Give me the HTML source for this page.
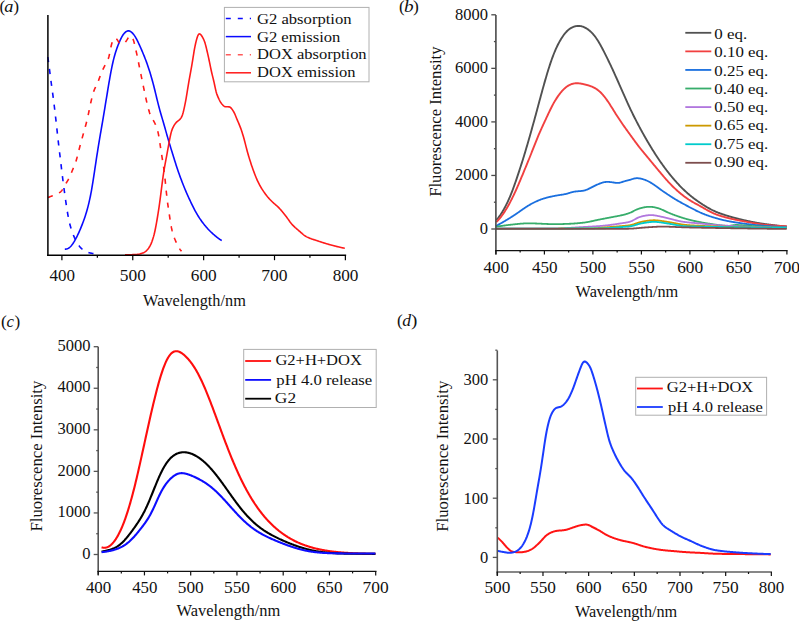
<!DOCTYPE html>
<html><head><meta charset="utf-8"><style>
html,body{margin:0;padding:0;background:#fff;width:799px;height:621px;overflow:hidden}
svg{display:block}
text{font-family:"Liberation Serif", serif}
</style></head><body>
<svg width="799" height="621" viewBox="0 0 799 621">
<rect width="799" height="621" fill="#fff"/>
<path d="M47.80 57.00 L48.30 60.63 L48.80 64.32 L49.30 68.09 L49.80 71.95 L50.31 75.85 L50.81 79.72 L51.31 83.50 L51.81 87.17 L52.31 90.79 L52.81 94.45 L53.31 98.23 L53.81 102.16 L54.31 106.25 L54.81 110.46 L55.32 114.78 L55.82 119.21 L56.32 123.73 L56.82 128.33 L57.32 132.95 L57.82 137.52 L58.32 141.96 L58.82 146.25 L59.32 150.40 L59.82 154.52 L60.33 158.67 L60.83 162.91 L61.33 167.17 L61.83 171.39 L62.33 175.50 L62.83 179.49 L63.33 183.40 L63.83 187.23 L64.33 191.00 L64.84 194.69 L65.34 198.28 L65.84 201.77 L66.34 205.15 L66.84 208.42 L67.34 211.56 L67.84 214.54 L68.34 217.31 L68.84 219.85 L69.34 222.14 L69.85 224.20 L70.35 226.07 L70.85 227.80 L71.35 229.40 L71.85 230.90 L72.35 232.32 L72.85 233.67 L73.35 234.95 L73.85 236.17 L74.35 237.31 L74.86 238.39 L75.36 239.42 L75.86 240.39 L76.36 241.32 L76.86 242.22 L77.36 243.08 L77.86 243.91 L78.36 244.70 L78.86 245.44 L79.36 246.14 L79.87 246.78 L80.37 247.36 L80.87 247.89 L81.37 248.37 L81.87 248.82 L82.37 249.23 L82.87 249.62 L83.37 249.99 L83.87 250.34 L84.38 250.67 L84.88 250.99 L85.38 251.28 L85.88 251.54 L86.38 251.79 L86.88 252.01 L87.38 252.21 L87.88 252.38 L88.38 252.54 L88.88 252.67 L89.39 252.80 L89.89 252.92 L90.39 253.03 L90.89 253.13 L91.39 253.23 L91.89 253.33 L92.39 253.42 L92.89 253.49 L93.39 253.57 L93.89 253.63 L94.40 253.68 L94.90 253.72 L95.40 253.75 L95.90 253.78 L96.40 253.80" fill="none" stroke="#0a0aff" stroke-width="1.6" stroke-linejoin="round" stroke-dasharray="5.2 6.8"/>
<path d="M64.80 249.20 L65.30 249.16 L65.80 249.10 L66.30 249.03 L66.81 248.93 L67.31 248.79 L67.81 248.60 L68.31 248.35 L68.81 248.04 L69.31 247.68 L69.81 247.25 L70.31 246.77 L70.82 246.25 L71.32 245.67 L71.82 245.06 L72.32 244.39 L72.82 243.69 L73.32 242.94 L73.82 242.16 L74.32 241.33 L74.83 240.48 L75.33 239.59 L75.83 238.68 L76.33 237.73 L76.83 236.76 L77.33 235.76 L77.83 234.72 L78.33 233.66 L78.84 232.56 L79.34 231.43 L79.84 230.28 L80.34 229.10 L80.84 227.89 L81.34 226.65 L81.84 225.40 L82.34 224.11 L82.85 222.80 L83.35 221.46 L83.85 220.08 L84.35 218.66 L84.85 217.19 L85.35 215.68 L85.85 214.10 L86.35 212.46 L86.86 210.75 L87.36 208.97 L87.86 207.10 L88.36 205.15 L88.86 203.09 L89.36 200.94 L89.86 198.66 L90.37 196.26 L90.87 193.72 L91.37 191.03 L91.87 188.19 L92.37 185.20 L92.87 182.09 L93.37 178.87 L93.87 175.59 L94.38 172.27 L94.88 168.93 L95.38 165.60 L95.88 162.28 L96.38 158.99 L96.88 155.73 L97.38 152.51 L97.88 149.32 L98.39 146.19 L98.89 143.11 L99.39 140.08 L99.89 137.10 L100.39 134.17 L100.89 131.27 L101.39 128.39 L101.89 125.50 L102.40 122.60 L102.90 119.67 L103.40 116.70 L103.90 113.68 L104.40 110.64 L104.90 107.56 L105.40 104.48 L105.90 101.41 L106.41 98.34 L106.91 95.29 L107.41 92.25 L107.91 89.22 L108.41 86.21 L108.91 83.23 L109.41 80.28 L109.92 77.41 L110.42 74.61 L110.92 71.92 L111.42 69.33 L111.92 66.86 L112.42 64.50 L112.92 62.26 L113.42 60.14 L113.93 58.14 L114.43 56.24 L114.93 54.46 L115.43 52.78 L115.93 51.19 L116.43 49.69 L116.93 48.25 L117.43 46.88 L117.94 45.57 L118.44 44.30 L118.94 43.08 L119.44 41.90 L119.94 40.76 L120.44 39.65 L120.94 38.60 L121.44 37.60 L121.95 36.66 L122.45 35.80 L122.95 35.01 L123.45 34.30 L123.95 33.66 L124.45 33.09 L124.95 32.58 L125.45 32.13 L125.96 31.74 L126.46 31.41 L126.96 31.15 L127.46 30.95 L127.96 30.84 L128.46 30.81 L128.96 30.86 L129.46 30.99 L129.97 31.19 L130.47 31.46 L130.97 31.80 L131.47 32.19 L131.97 32.63 L132.47 33.11 L132.97 33.65 L133.48 34.24 L133.98 34.88 L134.48 35.59 L134.98 36.35 L135.48 37.18 L135.98 38.06 L136.48 38.98 L136.98 39.94 L137.49 40.93 L137.99 41.95 L138.49 42.99 L138.99 44.05 L139.49 45.14 L139.99 46.24 L140.49 47.37 L140.99 48.51 L141.50 49.67 L142.00 50.84 L142.50 52.03 L143.00 53.23 L143.50 54.44 L144.00 55.66 L144.50 56.90 L145.00 58.17 L145.51 59.46 L146.01 60.77 L146.51 62.12 L147.01 63.51 L147.51 64.93 L148.01 66.39 L148.51 67.89 L149.01 69.42 L149.52 71.00 L150.02 72.61 L150.52 74.25 L151.02 75.93 L151.52 77.66 L152.02 79.42 L152.52 81.23 L153.02 83.09 L153.53 85.00 L154.03 86.96 L154.53 88.97 L155.03 91.01 L155.53 93.07 L156.03 95.16 L156.53 97.24 L157.04 99.32 L157.54 101.37 L158.04 103.38 L158.54 105.34 L159.04 107.25 L159.54 109.12 L160.04 110.93 L160.54 112.71 L161.05 114.46 L161.55 116.18 L162.05 117.90 L162.55 119.62 L163.05 121.34 L163.55 123.07 L164.05 124.82 L164.55 126.57 L165.06 128.34 L165.56 130.11 L166.06 131.88 L166.56 133.65 L167.06 135.41 L167.56 137.15 L168.06 138.88 L168.56 140.59 L169.07 142.28 L169.57 143.95 L170.07 145.60 L170.57 147.24 L171.07 148.87 L171.57 150.48 L172.07 152.09 L172.57 153.71 L173.08 155.32 L173.58 156.93 L174.08 158.55 L174.58 160.16 L175.08 161.77 L175.58 163.36 L176.08 164.94 L176.58 166.49 L177.09 168.01 L177.59 169.51 L178.09 170.98 L178.59 172.42 L179.09 173.84 L179.59 175.24 L180.09 176.62 L180.60 177.98 L181.10 179.33 L181.60 180.65 L182.10 181.96 L182.60 183.26 L183.10 184.53 L183.60 185.79 L184.10 187.04 L184.61 188.26 L185.11 189.47 L185.61 190.66 L186.11 191.84 L186.61 192.99 L187.11 194.13 L187.61 195.26 L188.11 196.37 L188.62 197.47 L189.12 198.56 L189.62 199.64 L190.12 200.71 L190.62 201.77 L191.12 202.83 L191.62 203.88 L192.12 204.91 L192.63 205.94 L193.13 206.95 L193.63 207.94 L194.13 208.91 L194.63 209.86 L195.13 210.79 L195.63 211.70 L196.13 212.59 L196.64 213.46 L197.14 214.32 L197.64 215.15 L198.14 215.97 L198.64 216.77 L199.14 217.56 L199.64 218.33 L200.15 219.08 L200.65 219.81 L201.15 220.52 L201.65 221.22 L202.15 221.91 L202.65 222.58 L203.15 223.24 L203.65 223.88 L204.16 224.51 L204.66 225.14 L205.16 225.75 L205.66 226.35 L206.16 226.94 L206.66 227.51 L207.16 228.08 L207.66 228.64 L208.17 229.18 L208.67 229.71 L209.17 230.23 L209.67 230.75 L210.17 231.25 L210.67 231.74 L211.17 232.22 L211.67 232.69 L212.18 233.16 L212.68 233.62 L213.18 234.07 L213.68 234.51 L214.18 234.95 L214.68 235.38 L215.18 235.81 L215.68 236.23 L216.19 236.64 L216.69 237.04 L217.19 237.43 L217.69 237.81 L218.19 238.19 L218.69 238.56 L219.19 238.92 L219.69 239.27 L220.20 239.61 L220.70 239.94 L221.20 240.27 L221.70 240.60" fill="none" stroke="#0a0aff" stroke-width="1.6" stroke-linejoin="round"/>
<path d="M47.90 197.50 L48.40 197.32 L48.90 197.14 L49.40 196.95 L49.90 196.76 L50.40 196.57 L50.90 196.37 L51.40 196.17 L51.90 195.97 L52.40 195.76 L52.90 195.55 L53.40 195.34 L53.90 195.12 L54.40 194.91 L54.91 194.69 L55.41 194.47 L55.91 194.26 L56.41 194.05 L56.91 193.85 L57.41 193.64 L57.91 193.42 L58.41 193.18 L58.91 192.93 L59.41 192.66 L59.91 192.35 L60.41 191.99 L60.91 191.56 L61.41 191.04 L61.91 190.41 L62.41 189.67 L62.91 188.85 L63.41 187.96 L63.91 187.05 L64.41 186.13 L64.91 185.23 L65.41 184.36 L65.91 183.52 L66.41 182.71 L66.91 181.90 L67.41 181.08 L67.91 180.24 L68.42 179.37 L68.92 178.45 L69.42 177.46 L69.92 176.39 L70.42 175.24 L70.92 174.02 L71.42 172.77 L71.92 171.51 L72.42 170.28 L72.92 169.10 L73.42 167.95 L73.92 166.80 L74.42 165.61 L74.92 164.34 L75.42 162.94 L75.92 161.40 L76.42 159.72 L76.92 157.92 L77.42 156.02 L77.92 154.07 L78.42 152.10 L78.92 150.13 L79.42 148.19 L79.92 146.30 L80.42 144.44 L80.92 142.60 L81.43 140.78 L81.93 138.96 L82.43 137.14 L82.93 135.32 L83.43 133.51 L83.93 131.70 L84.43 129.89 L84.93 128.09 L85.43 126.29 L85.93 124.45 L86.43 122.56 L86.93 120.59 L87.43 118.50 L87.93 116.28 L88.43 113.94 L88.93 111.50 L89.43 109.04 L89.93 106.61 L90.43 104.26 L90.93 102.00 L91.43 99.85 L91.93 97.78 L92.43 95.82 L92.93 94.00 L93.43 92.35 L93.93 90.86 L94.43 89.55 L94.94 88.36 L95.44 87.28 L95.94 86.26 L96.44 85.25 L96.94 84.22 L97.44 83.14 L97.94 81.98 L98.44 80.73 L98.94 79.40 L99.44 78.02 L99.94 76.62 L100.44 75.24 L100.94 73.91 L101.44 72.64 L101.94 71.46 L102.44 70.35 L102.94 69.30 L103.44 68.29 L103.94 67.31 L104.44 66.34 L104.94 65.39 L105.44 64.44 L105.94 63.51 L106.44 62.61 L106.94 61.69 L107.44 60.72 L107.94 59.59 L108.45 58.20 L108.95 56.46 L109.45 54.34 L109.95 51.94 L110.45 49.42 L110.95 46.98 L111.45 44.79 L111.95 42.97 L112.45 41.53 L112.95 40.40 L113.45 39.51 L113.95 38.81 L114.45 38.33 L114.95 38.09 L115.45 38.11 L115.95 38.36 L116.45 38.81 L116.95 39.40 L117.45 40.11 L117.95 40.90 L118.45 41.71 L118.95 42.44 L119.45 43.01 L119.95 43.41 L120.45 43.65 L120.95 43.80 L121.46 43.89 L121.96 43.91 L122.46 43.85 L122.96 43.72 L123.46 43.49 L123.96 43.19 L124.46 42.82 L124.96 42.40 L125.46 41.92 L125.96 41.35 L126.46 40.67 L126.96 39.89 L127.46 39.05 L127.96 38.21 L128.46 37.42 L128.96 36.76 L129.46 36.30 L129.96 36.05 L130.46 36.04 L130.96 36.24 L131.46 36.64 L131.96 37.21 L132.46 37.95 L132.96 38.92 L133.46 40.21 L133.96 41.89 L134.46 43.92 L134.97 46.14 L135.47 48.36 L135.97 50.51 L136.47 52.65 L136.97 54.86 L137.47 57.20 L137.97 59.67 L138.47 62.21 L138.97 64.76 L139.47 67.29 L139.97 69.78 L140.47 72.24 L140.97 74.69 L141.47 77.13 L141.97 79.57 L142.47 81.99 L142.97 84.41 L143.47 86.81 L143.97 89.22 L144.47 91.62 L144.97 94.01 L145.47 96.38 L145.97 98.70 L146.47 100.95 L146.97 103.11 L147.47 105.18 L147.97 107.18 L148.48 109.08 L148.98 110.86 L149.48 112.48 L149.98 113.93 L150.48 115.19 L150.98 116.31 L151.48 117.29 L151.98 118.19 L152.48 119.04 L152.98 119.86 L153.48 120.69 L153.98 121.56 L154.48 122.49 L154.98 123.52 L155.48 124.63 L155.98 125.84 L156.48 127.16 L156.98 128.61 L157.48 130.25 L157.98 132.16 L158.48 134.44 L158.98 137.17 L159.48 140.29 L159.98 143.65 L160.48 147.07 L160.98 150.43 L161.49 153.70 L161.99 156.88 L162.49 160.00 L162.99 163.12 L163.49 166.39 L163.99 169.99 L164.49 174.07 L164.99 178.63 L165.49 183.54 L165.99 188.57 L166.49 193.47 L166.99 198.01 L167.49 202.06 L167.99 205.68 L168.49 209.05 L168.99 212.34 L169.49 215.67 L169.99 219.02 L170.49 222.27 L170.99 225.26 L171.49 227.88 L171.99 230.15 L172.49 232.13 L172.99 233.88 L173.49 235.47 L173.99 236.92 L174.49 238.26 L175.00 239.52 L175.50 240.72 L176.00 241.87 L176.50 242.98 L177.00 244.06 L177.50 245.09 L178.00 246.07 L178.50 247.00 L179.00 247.87 L179.50 248.67 L180.00 249.40 L180.50 250.05 L181.00 250.65 L181.50 251.20" fill="none" stroke="#ff1a1a" stroke-width="1.6" stroke-linejoin="round" stroke-dasharray="5.2 6.8"/>
<path d="M125.00 254.80 L125.50 254.80 L126.00 254.80 L126.50 254.79 L127.00 254.79 L127.50 254.78 L128.00 254.78 L128.50 254.77 L129.01 254.76 L129.51 254.75 L130.01 254.74 L130.51 254.73 L131.01 254.72 L131.51 254.70 L132.01 254.69 L132.51 254.67 L133.01 254.65 L133.51 254.63 L134.01 254.62 L134.51 254.59 L135.01 254.57 L135.51 254.55 L136.02 254.52 L136.52 254.49 L137.02 254.45 L137.52 254.40 L138.02 254.34 L138.52 254.26 L139.02 254.16 L139.52 254.05 L140.02 253.92 L140.52 253.78 L141.02 253.63 L141.52 253.47 L142.02 253.29 L142.52 253.10 L143.02 252.90 L143.53 252.69 L144.03 252.45 L144.53 252.17 L145.03 251.84 L145.53 251.47 L146.03 251.05 L146.53 250.58 L147.03 250.06 L147.53 249.50 L148.03 248.89 L148.53 248.25 L149.03 247.55 L149.53 246.79 L150.03 245.93 L150.53 244.97 L151.04 243.88 L151.54 242.67 L152.04 241.33 L152.54 239.88 L153.04 238.31 L153.54 236.63 L154.04 234.78 L154.54 232.74 L155.04 230.49 L155.54 228.02 L156.04 225.38 L156.54 222.62 L157.04 219.74 L157.54 216.75 L158.05 213.64 L158.55 210.40 L159.05 207.02 L159.55 203.50 L160.05 199.82 L160.55 196.00 L161.05 192.08 L161.55 188.13 L162.05 184.23 L162.55 180.43 L163.05 176.76 L163.55 173.29 L164.05 170.07 L164.55 167.09 L165.05 164.30 L165.56 161.63 L166.06 158.97 L166.56 156.29 L167.06 153.57 L167.56 150.84 L168.06 148.10 L168.56 145.38 L169.06 142.66 L169.56 139.97 L170.06 137.38 L170.56 134.98 L171.06 132.89 L171.56 131.12 L172.06 129.65 L172.56 128.39 L173.07 127.29 L173.57 126.32 L174.07 125.43 L174.57 124.63 L175.07 123.90 L175.57 123.25 L176.07 122.67 L176.57 122.15 L177.07 121.69 L177.57 121.27 L178.07 120.88 L178.57 120.48 L179.07 120.08 L179.57 119.64 L180.08 119.14 L180.58 118.56 L181.08 117.86 L181.58 116.99 L182.08 115.88 L182.58 114.48 L183.08 112.79 L183.58 110.83 L184.08 108.66 L184.58 106.35 L185.08 103.90 L185.58 101.32 L186.08 98.56 L186.58 95.64 L187.08 92.58 L187.59 89.46 L188.09 86.36 L188.59 83.33 L189.09 80.41 L189.59 77.58 L190.09 74.82 L190.59 72.09 L191.09 69.34 L191.59 66.54 L192.09 63.62 L192.59 60.58 L193.09 57.44 L193.59 54.27 L194.09 51.21 L194.59 48.37 L195.10 45.80 L195.60 43.51 L196.10 41.42 L196.60 39.51 L197.10 37.78 L197.60 36.30 L198.10 35.15 L198.60 34.37 L199.10 33.97 L199.60 33.91 L200.10 34.11 L200.60 34.51 L201.10 35.07 L201.60 35.74 L202.11 36.51 L202.61 37.35 L203.11 38.27 L203.61 39.29 L204.11 40.46 L204.61 41.80 L205.11 43.35 L205.61 45.10 L206.11 47.02 L206.61 49.07 L207.11 51.21 L207.61 53.42 L208.11 55.66 L208.61 57.95 L209.11 60.29 L209.62 62.70 L210.12 65.16 L210.62 67.61 L211.12 69.99 L211.62 72.24 L212.12 74.36 L212.62 76.40 L213.12 78.42 L213.62 80.50 L214.12 82.69 L214.62 84.99 L215.12 87.34 L215.62 89.61 L216.12 91.66 L216.63 93.42 L217.13 94.89 L217.63 96.17 L218.13 97.33 L218.63 98.44 L219.13 99.51 L219.63 100.51 L220.13 101.43 L220.63 102.25 L221.13 102.98 L221.63 103.64 L222.13 104.25 L222.63 104.82 L223.13 105.34 L223.63 105.80 L224.14 106.17 L224.64 106.45 L225.14 106.63 L225.64 106.73 L226.14 106.78 L226.64 106.79 L227.14 106.80 L227.64 106.80 L228.14 106.81 L228.64 106.83 L229.14 106.89 L229.64 107.02 L230.14 107.26 L230.64 107.62 L231.14 108.11 L231.65 108.71 L232.15 109.38 L232.65 110.12 L233.15 110.91 L233.65 111.75 L234.15 112.66 L234.65 113.67 L235.15 114.79 L235.65 115.98 L236.15 117.21 L236.65 118.45 L237.15 119.67 L237.65 120.86 L238.15 122.03 L238.66 123.19 L239.16 124.36 L239.66 125.57 L240.16 126.83 L240.66 128.14 L241.16 129.53 L241.66 131.00 L242.16 132.54 L242.66 134.14 L243.16 135.81 L243.66 137.54 L244.16 139.33 L244.66 141.20 L245.16 143.14 L245.66 145.12 L246.17 147.10 L246.67 149.05 L247.17 150.94 L247.67 152.75 L248.17 154.50 L248.67 156.20 L249.17 157.86 L249.67 159.48 L250.17 161.07 L250.67 162.62 L251.17 164.14 L251.67 165.63 L252.17 167.08 L252.67 168.51 L253.17 169.90 L253.68 171.27 L254.18 172.61 L254.68 173.93 L255.18 175.23 L255.68 176.49 L256.18 177.72 L256.68 178.91 L257.18 180.06 L257.68 181.15 L258.18 182.20 L258.68 183.21 L259.18 184.17 L259.68 185.10 L260.18 186.00 L260.69 186.88 L261.19 187.73 L261.69 188.55 L262.19 189.36 L262.69 190.14 L263.19 190.90 L263.69 191.64 L264.19 192.37 L264.69 193.07 L265.19 193.76 L265.69 194.43 L266.19 195.09 L266.69 195.73 L267.19 196.34 L267.69 196.95 L268.20 197.53 L268.70 198.10 L269.20 198.66 L269.70 199.21 L270.20 199.74 L270.70 200.27 L271.20 200.78 L271.70 201.28 L272.20 201.77 L272.70 202.24 L273.20 202.70 L273.70 203.15 L274.20 203.58 L274.70 204.01 L275.21 204.44 L275.71 204.87 L276.21 205.30 L276.71 205.74 L277.21 206.19 L277.71 206.65 L278.21 207.13 L278.71 207.63 L279.21 208.15 L279.71 208.68 L280.21 209.23 L280.71 209.79 L281.21 210.37 L281.71 210.95 L282.21 211.55 L282.72 212.16 L283.22 212.77 L283.72 213.39 L284.22 214.02 L284.72 214.65 L285.22 215.28 L285.72 215.93 L286.22 216.58 L286.72 217.25 L287.22 217.93 L287.72 218.64 L288.22 219.35 L288.72 220.07 L289.22 220.78 L289.72 221.49 L290.23 222.17 L290.73 222.84 L291.23 223.46 L291.73 224.06 L292.23 224.62 L292.73 225.16 L293.23 225.68 L293.73 226.17 L294.23 226.65 L294.73 227.12 L295.23 227.58 L295.73 228.02 L296.23 228.46 L296.73 228.89 L297.24 229.32 L297.74 229.75 L298.24 230.17 L298.74 230.60 L299.24 231.03 L299.74 231.46 L300.24 231.90 L300.74 232.34 L301.24 232.78 L301.74 233.22 L302.24 233.66 L302.74 234.08 L303.24 234.50 L303.74 234.90 L304.24 235.28 L304.75 235.64 L305.25 235.98 L305.75 236.30 L306.25 236.59 L306.75 236.86 L307.25 237.11 L307.75 237.35 L308.25 237.58 L308.75 237.80 L309.25 238.01 L309.75 238.21 L310.25 238.40 L310.75 238.59 L311.25 238.78 L311.75 238.95 L312.26 239.13 L312.76 239.30 L313.26 239.46 L313.76 239.63 L314.26 239.79 L314.76 239.95 L315.26 240.11 L315.76 240.27 L316.26 240.43 L316.76 240.59 L317.26 240.76 L317.76 240.92 L318.26 241.09 L318.76 241.26 L319.27 241.42 L319.77 241.59 L320.27 241.76 L320.77 241.92 L321.27 242.08 L321.77 242.25 L322.27 242.41 L322.77 242.57 L323.27 242.72 L323.77 242.88 L324.27 243.04 L324.77 243.19 L325.27 243.34 L325.77 243.50 L326.27 243.65 L326.78 243.79 L327.28 243.94 L327.78 244.09 L328.28 244.23 L328.78 244.37 L329.28 244.51 L329.78 244.65 L330.28 244.78 L330.78 244.92 L331.28 245.06 L331.78 245.19 L332.28 245.32 L332.78 245.46 L333.28 245.59 L333.78 245.72 L334.29 245.85 L334.79 245.97 L335.29 246.10 L335.79 246.23 L336.29 246.35 L336.79 246.48 L337.29 246.60 L337.79 246.72 L338.29 246.84 L338.79 246.96 L339.29 247.08 L339.79 247.20 L340.29 247.32 L340.79 247.43 L341.30 247.54 L341.80 247.66 L342.30 247.77 L342.80 247.88 L343.30 247.98 L343.80 248.09 L344.30 248.20 L344.80 248.30" fill="none" stroke="#ff1a1a" stroke-width="1.6" stroke-linejoin="round"/>
<line x1="47.90" y1="14.90" x2="47.90" y2="255.95" stroke="#000" stroke-width="1.5" stroke-linecap="butt"/>
<line x1="47.15" y1="255.20" x2="346.15" y2="255.20" stroke="#000" stroke-width="1.5" stroke-linecap="butt"/>
<line x1="61.90" y1="255.20" x2="61.90" y2="260.20" stroke="#000" stroke-width="1.2" stroke-linecap="butt"/>
<line x1="97.34" y1="255.20" x2="97.34" y2="257.70" stroke="#000" stroke-width="1.2" stroke-linecap="butt"/>
<line x1="132.77" y1="255.20" x2="132.77" y2="260.20" stroke="#000" stroke-width="1.2" stroke-linecap="butt"/>
<line x1="168.20" y1="255.20" x2="168.20" y2="257.70" stroke="#000" stroke-width="1.2" stroke-linecap="butt"/>
<line x1="203.64" y1="255.20" x2="203.64" y2="260.20" stroke="#000" stroke-width="1.2" stroke-linecap="butt"/>
<line x1="239.08" y1="255.20" x2="239.08" y2="257.70" stroke="#000" stroke-width="1.2" stroke-linecap="butt"/>
<line x1="274.51" y1="255.20" x2="274.51" y2="260.20" stroke="#000" stroke-width="1.2" stroke-linecap="butt"/>
<line x1="309.94" y1="255.20" x2="309.94" y2="257.70" stroke="#000" stroke-width="1.2" stroke-linecap="butt"/>
<line x1="345.38" y1="255.20" x2="345.38" y2="260.20" stroke="#000" stroke-width="1.2" stroke-linecap="butt"/>
<text x="49.52" y="280.50" font-size="16.5" textLength="25.48" lengthAdjust="spacingAndGlyphs" fill="#111">400</text>
<text x="119.71" y="280.50" font-size="16.5" textLength="26.18" lengthAdjust="spacingAndGlyphs" fill="#111">500</text>
<text x="190.85" y="280.50" font-size="16.5" textLength="25.90" lengthAdjust="spacingAndGlyphs" fill="#111">600</text>
<text x="261.30" y="280.50" font-size="16.5" textLength="26.33" lengthAdjust="spacingAndGlyphs" fill="#111">700</text>
<text x="332.67" y="280.50" font-size="16.5" textLength="25.81" lengthAdjust="spacingAndGlyphs" fill="#111">800</text>
<text x="143.08" y="306.30" font-size="16.5" textLength="102.77" lengthAdjust="spacingAndGlyphs" fill="#111">Wavelength/nm</text>
<text x="-0.55" y="11.80" font-size="16" textLength="5.70" lengthAdjust="spacingAndGlyphs" fill="#111">(</text>
<text x="4.36" y="11.80" font-size="16" textLength="9.13" lengthAdjust="spacingAndGlyphs" font-style="italic" fill="#111">a</text>
<text x="13.34" y="11.80" font-size="16" textLength="5.83" lengthAdjust="spacingAndGlyphs" fill="#111">)</text>
<rect x="224.4" y="7.4" width="144.6" height="74.4" fill="#fff" stroke="#b0b0b0" stroke-width="1"/>
<line x1="225.8" y1="18.50" x2="251" y2="18.50" stroke="#0a0aff" stroke-width="1.5" stroke-dasharray="5 7"/>
<line x1="225.8" y1="36.60" x2="251" y2="36.60" stroke="#0a0aff" stroke-width="1.5"/>
<line x1="225.8" y1="54.70" x2="251" y2="54.70" stroke="#ff5a5a" stroke-width="1.5" stroke-dasharray="5 7"/>
<line x1="225.8" y1="72.80" x2="251" y2="72.80" stroke="#ff1a1a" stroke-width="1.5"/>
<text x="256.92" y="23.90" font-size="15.5" textLength="94.73" lengthAdjust="spacingAndGlyphs" fill="#111">G2 absorption</text>
<text x="256.92" y="41.60" font-size="15.5" textLength="83.53" lengthAdjust="spacingAndGlyphs" fill="#111">G2 emission</text>
<text x="257.12" y="59.30" font-size="15.5" textLength="109.53" lengthAdjust="spacingAndGlyphs" fill="#111">DOX absorption</text>
<text x="257.13" y="77.00" font-size="15.5" textLength="98.32" lengthAdjust="spacingAndGlyphs" fill="#111">DOX emission</text>
<path d="M496.30 219.98 L496.80 219.47 L497.30 218.92 L497.80 218.34 L498.30 217.74 L498.80 217.10 L499.30 216.44 L499.80 215.75 L500.31 215.04 L500.81 214.30 L501.31 213.54 L501.81 212.75 L502.31 211.94 L502.81 211.11 L503.31 210.26 L503.81 209.38 L504.31 208.48 L504.81 207.56 L505.31 206.62 L505.81 205.65 L506.31 204.66 L506.81 203.65 L507.32 202.61 L507.82 201.54 L508.32 200.45 L508.82 199.34 L509.32 198.20 L509.82 197.03 L510.32 195.83 L510.82 194.61 L511.32 193.36 L511.82 192.09 L512.32 190.79 L512.82 189.46 L513.32 188.12 L513.82 186.75 L514.32 185.36 L514.83 183.94 L515.33 182.52 L515.83 181.07 L516.33 179.61 L516.83 178.13 L517.33 176.65 L517.83 175.15 L518.33 173.64 L518.83 172.13 L519.33 170.60 L519.83 169.07 L520.33 167.52 L520.83 165.97 L521.33 164.41 L521.84 162.84 L522.34 161.25 L522.84 159.66 L523.34 158.05 L523.84 156.42 L524.34 154.78 L524.84 153.13 L525.34 151.46 L525.84 149.78 L526.34 148.08 L526.84 146.37 L527.34 144.65 L527.84 142.93 L528.34 141.19 L528.84 139.45 L529.35 137.70 L529.85 135.94 L530.35 134.18 L530.85 132.41 L531.35 130.64 L531.85 128.87 L532.35 127.08 L532.85 125.29 L533.35 123.50 L533.85 121.69 L534.35 119.88 L534.85 118.06 L535.35 116.22 L535.85 114.38 L536.36 112.54 L536.86 110.68 L537.36 108.83 L537.86 106.96 L538.36 105.10 L538.86 103.23 L539.36 101.37 L539.86 99.51 L540.36 97.65 L540.86 95.80 L541.36 93.96 L541.86 92.13 L542.36 90.30 L542.86 88.49 L543.36 86.69 L543.87 84.90 L544.37 83.13 L544.87 81.37 L545.37 79.63 L545.87 77.91 L546.37 76.20 L546.87 74.51 L547.37 72.85 L547.87 71.20 L548.37 69.58 L548.87 67.99 L549.37 66.42 L549.87 64.88 L550.37 63.37 L550.88 61.89 L551.38 60.44 L551.88 59.03 L552.38 57.65 L552.88 56.31 L553.38 55.00 L553.88 53.73 L554.38 52.49 L554.88 51.29 L555.38 50.12 L555.88 48.98 L556.38 47.88 L556.88 46.81 L557.38 45.78 L557.88 44.77 L558.39 43.79 L558.89 42.84 L559.39 41.92 L559.89 41.03 L560.39 40.16 L560.89 39.31 L561.39 38.49 L561.89 37.70 L562.39 36.94 L562.89 36.20 L563.39 35.48 L563.89 34.79 L564.39 34.13 L564.89 33.50 L565.40 32.90 L565.90 32.32 L566.40 31.77 L566.90 31.25 L567.40 30.76 L567.90 30.30 L568.40 29.86 L568.90 29.45 L569.40 29.07 L569.90 28.71 L570.40 28.38 L570.90 28.07 L571.40 27.79 L571.90 27.53 L572.40 27.29 L572.91 27.07 L573.41 26.87 L573.91 26.69 L574.41 26.53 L574.91 26.39 L575.41 26.27 L575.91 26.17 L576.41 26.09 L576.91 26.03 L577.41 25.98 L577.91 25.96 L578.41 25.95 L578.91 25.96 L579.41 25.99 L579.92 26.03 L580.42 26.10 L580.92 26.18 L581.42 26.29 L581.92 26.41 L582.42 26.55 L582.92 26.71 L583.42 26.89 L583.92 27.09 L584.42 27.31 L584.92 27.55 L585.42 27.81 L585.92 28.09 L586.42 28.38 L586.92 28.70 L587.43 29.03 L587.93 29.39 L588.43 29.76 L588.93 30.15 L589.43 30.56 L589.93 30.99 L590.43 31.43 L590.93 31.90 L591.43 32.38 L591.93 32.89 L592.43 33.42 L592.93 33.96 L593.43 34.53 L593.93 35.12 L594.44 35.74 L594.94 36.38 L595.44 37.04 L595.94 37.73 L596.44 38.45 L596.94 39.19 L597.44 39.95 L597.94 40.74 L598.44 41.55 L598.94 42.39 L599.44 43.24 L599.94 44.12 L600.44 45.01 L600.94 45.92 L601.44 46.85 L601.95 47.79 L602.45 48.74 L602.95 49.70 L603.45 50.67 L603.95 51.65 L604.45 52.64 L604.95 53.63 L605.45 54.63 L605.95 55.63 L606.45 56.64 L606.95 57.65 L607.45 58.67 L607.95 59.70 L608.45 60.73 L608.96 61.76 L609.46 62.80 L609.96 63.85 L610.46 64.90 L610.96 65.96 L611.46 67.03 L611.96 68.10 L612.46 69.18 L612.96 70.26 L613.46 71.36 L613.96 72.45 L614.46 73.56 L614.96 74.67 L615.46 75.78 L615.96 76.89 L616.47 78.01 L616.97 79.14 L617.47 80.26 L617.97 81.39 L618.47 82.51 L618.97 83.64 L619.47 84.77 L619.97 85.90 L620.47 87.03 L620.97 88.17 L621.47 89.30 L621.97 90.43 L622.47 91.57 L622.97 92.70 L623.48 93.84 L623.98 94.97 L624.48 96.10 L624.98 97.23 L625.48 98.36 L625.98 99.48 L626.48 100.60 L626.98 101.71 L627.48 102.82 L627.98 103.92 L628.48 105.01 L628.98 106.10 L629.48 107.17 L629.98 108.24 L630.48 109.30 L630.99 110.35 L631.49 111.39 L631.99 112.43 L632.49 113.45 L632.99 114.47 L633.49 115.48 L633.99 116.48 L634.49 117.47 L634.99 118.46 L635.49 119.44 L635.99 120.42 L636.49 121.39 L636.99 122.35 L637.49 123.31 L638.00 124.26 L638.50 125.21 L639.00 126.15 L639.50 127.08 L640.00 128.02 L640.50 128.94 L641.00 129.86 L641.50 130.78 L642.00 131.69 L642.50 132.60 L643.00 133.50 L643.50 134.40 L644.00 135.29 L644.50 136.18 L645.00 137.06 L645.51 137.94 L646.01 138.81 L646.51 139.68 L647.01 140.54 L647.51 141.40 L648.01 142.25 L648.51 143.10 L649.01 143.94 L649.51 144.78 L650.01 145.61 L650.51 146.44 L651.01 147.26 L651.51 148.08 L652.01 148.90 L652.52 149.70 L653.02 150.51 L653.52 151.30 L654.02 152.10 L654.52 152.88 L655.02 153.66 L655.52 154.44 L656.02 155.21 L656.52 155.98 L657.02 156.74 L657.52 157.49 L658.02 158.24 L658.52 158.99 L659.02 159.73 L659.52 160.46 L660.03 161.19 L660.53 161.92 L661.03 162.64 L661.53 163.35 L662.03 164.06 L662.53 164.76 L663.03 165.46 L663.53 166.15 L664.03 166.84 L664.53 167.52 L665.03 168.20 L665.53 168.87 L666.03 169.54 L666.53 170.20 L667.04 170.85 L667.54 171.50 L668.04 172.15 L668.54 172.79 L669.04 173.42 L669.54 174.05 L670.04 174.67 L670.54 175.29 L671.04 175.90 L671.54 176.51 L672.04 177.11 L672.54 177.71 L673.04 178.30 L673.54 178.89 L674.04 179.47 L674.55 180.05 L675.05 180.62 L675.55 181.18 L676.05 181.74 L676.55 182.30 L677.05 182.85 L677.55 183.40 L678.05 183.94 L678.55 184.47 L679.05 185.00 L679.55 185.53 L680.05 186.05 L680.55 186.56 L681.05 187.07 L681.56 187.58 L682.06 188.08 L682.56 188.57 L683.06 189.06 L683.56 189.54 L684.06 190.02 L684.56 190.50 L685.06 190.96 L685.56 191.43 L686.06 191.88 L686.56 192.34 L687.06 192.78 L687.56 193.23 L688.06 193.66 L688.56 194.09 L689.07 194.52 L689.57 194.94 L690.07 195.36 L690.57 195.77 L691.07 196.17 L691.57 196.58 L692.07 196.97 L692.57 197.37 L693.07 197.75 L693.57 198.14 L694.07 198.52 L694.57 198.89 L695.07 199.26 L695.57 199.63 L696.08 200.00 L696.58 200.36 L697.08 200.71 L697.58 201.07 L698.08 201.42 L698.58 201.76 L699.08 202.11 L699.58 202.45 L700.08 202.79 L700.58 203.12 L701.08 203.46 L701.58 203.79 L702.08 204.12 L702.58 204.44 L703.08 204.77 L703.59 205.09 L704.09 205.41 L704.59 205.72 L705.09 206.04 L705.59 206.35 L706.09 206.65 L706.59 206.96 L707.09 207.26 L707.59 207.55 L708.09 207.84 L708.59 208.13 L709.09 208.41 L709.59 208.69 L710.09 208.96 L710.60 209.23 L711.10 209.49 L711.60 209.75 L712.10 210.00 L712.60 210.25 L713.10 210.49 L713.60 210.72 L714.10 210.95 L714.60 211.18 L715.10 211.40 L715.60 211.62 L716.10 211.83 L716.60 212.03 L717.10 212.24 L717.60 212.44 L718.11 212.63 L718.61 212.82 L719.11 213.01 L719.61 213.20 L720.11 213.38 L720.61 213.56 L721.11 213.74 L721.61 213.91 L722.11 214.09 L722.61 214.26 L723.11 214.42 L723.61 214.59 L724.11 214.75 L724.61 214.92 L725.12 215.08 L725.62 215.24 L726.12 215.39 L726.62 215.55 L727.12 215.70 L727.62 215.85 L728.12 216.01 L728.62 216.16 L729.12 216.30 L729.62 216.45 L730.12 216.60 L730.62 216.74 L731.12 216.88 L731.62 217.03 L732.12 217.17 L732.63 217.31 L733.13 217.45 L733.63 217.59 L734.13 217.73 L734.63 217.86 L735.13 218.00 L735.63 218.13 L736.13 218.27 L736.63 218.40 L737.13 218.53 L737.63 218.66 L738.13 218.78 L738.63 218.91 L739.13 219.04 L739.64 219.16 L740.14 219.28 L740.64 219.40 L741.14 219.52 L741.64 219.64 L742.14 219.76 L742.64 219.87 L743.14 219.99 L743.64 220.10 L744.14 220.21 L744.64 220.33 L745.14 220.44 L745.64 220.55 L746.14 220.66 L746.64 220.76 L747.15 220.87 L747.65 220.98 L748.15 221.09 L748.65 221.19 L749.15 221.30 L749.65 221.40 L750.15 221.50 L750.65 221.61 L751.15 221.71 L751.65 221.81 L752.15 221.91 L752.65 222.01 L753.15 222.10 L753.65 222.20 L754.16 222.29 L754.66 222.39 L755.16 222.48 L755.66 222.57 L756.16 222.66 L756.66 222.75 L757.16 222.84 L757.66 222.92 L758.16 223.01 L758.66 223.09 L759.16 223.17 L759.66 223.25 L760.16 223.33 L760.66 223.41 L761.16 223.49 L761.67 223.57 L762.17 223.64 L762.67 223.72 L763.17 223.79 L763.67 223.86 L764.17 223.94 L764.67 224.01 L765.17 224.08 L765.67 224.15 L766.17 224.22 L766.67 224.28 L767.17 224.35 L767.67 224.42 L768.17 224.48 L768.68 224.55 L769.18 224.62 L769.68 224.68 L770.18 224.74 L770.68 224.81 L771.18 224.87 L771.68 224.93 L772.18 225.00 L772.68 225.06 L773.18 225.12 L773.68 225.18 L774.18 225.24 L774.68 225.30 L775.18 225.36 L775.68 225.42 L776.19 225.47 L776.69 225.53 L777.19 225.59 L777.69 225.65 L778.19 225.70 L778.69 225.76 L779.19 225.81 L779.69 225.87 L780.19 225.92 L780.69 225.97 L781.19 226.03 L781.69 226.08 L782.19 226.13 L782.69 226.18 L783.20 226.23 L783.70 226.27 L784.20 226.32 L784.70 226.36 L785.20 226.41 L785.70 226.45 L786.20 226.49 L786.70 226.53" fill="none" stroke="#515151" stroke-width="1.9" stroke-linejoin="round"/>
<path d="M496.30 222.15 L496.80 221.65 L497.30 221.14 L497.80 220.61 L498.30 220.06 L498.80 219.49 L499.30 218.90 L499.80 218.30 L500.31 217.68 L500.81 217.05 L501.31 216.40 L501.81 215.73 L502.31 215.05 L502.81 214.35 L503.31 213.63 L503.81 212.90 L504.31 212.15 L504.81 211.39 L505.31 210.61 L505.81 209.81 L506.31 209.00 L506.81 208.17 L507.32 207.32 L507.82 206.46 L508.32 205.57 L508.82 204.68 L509.32 203.76 L509.82 202.83 L510.32 201.89 L510.82 200.92 L511.32 199.94 L511.82 198.95 L512.32 197.94 L512.82 196.92 L513.32 195.88 L513.82 194.83 L514.32 193.76 L514.83 192.69 L515.33 191.60 L515.83 190.49 L516.33 189.38 L516.83 188.25 L517.33 187.11 L517.83 185.97 L518.33 184.81 L518.83 183.64 L519.33 182.46 L519.83 181.28 L520.33 180.09 L520.83 178.89 L521.33 177.69 L521.84 176.48 L522.34 175.28 L522.84 174.07 L523.34 172.86 L523.84 171.65 L524.34 170.44 L524.84 169.23 L525.34 168.01 L525.84 166.80 L526.34 165.59 L526.84 164.38 L527.34 163.16 L527.84 161.94 L528.34 160.72 L528.84 159.49 L529.35 158.25 L529.85 157.01 L530.35 155.76 L530.85 154.50 L531.35 153.24 L531.85 151.97 L532.35 150.70 L532.85 149.42 L533.35 148.14 L533.85 146.87 L534.35 145.59 L534.85 144.31 L535.35 143.05 L535.85 141.79 L536.36 140.54 L536.86 139.30 L537.36 138.07 L537.86 136.86 L538.36 135.67 L538.86 134.48 L539.36 133.32 L539.86 132.17 L540.36 131.03 L540.86 129.91 L541.36 128.80 L541.86 127.69 L542.36 126.60 L542.86 125.51 L543.36 124.43 L543.87 123.35 L544.37 122.27 L544.87 121.20 L545.37 120.12 L545.87 119.04 L546.37 117.96 L546.87 116.89 L547.37 115.81 L547.87 114.74 L548.37 113.67 L548.87 112.60 L549.37 111.55 L549.87 110.51 L550.37 109.48 L550.88 108.46 L551.38 107.46 L551.88 106.48 L552.38 105.52 L552.88 104.58 L553.38 103.66 L553.88 102.77 L554.38 101.90 L554.88 101.04 L555.38 100.21 L555.88 99.41 L556.38 98.62 L556.88 97.86 L557.38 97.11 L557.88 96.38 L558.39 95.68 L558.89 94.99 L559.39 94.32 L559.89 93.66 L560.39 93.03 L560.89 92.42 L561.39 91.82 L561.89 91.24 L562.39 90.68 L562.89 90.15 L563.39 89.63 L563.89 89.13 L564.39 88.65 L564.89 88.19 L565.40 87.75 L565.90 87.34 L566.40 86.94 L566.90 86.57 L567.40 86.22 L567.90 85.89 L568.40 85.58 L568.90 85.29 L569.40 85.02 L569.90 84.77 L570.40 84.54 L570.90 84.34 L571.40 84.15 L571.90 83.98 L572.40 83.83 L572.91 83.70 L573.41 83.59 L573.91 83.50 L574.41 83.42 L574.91 83.36 L575.41 83.31 L575.91 83.28 L576.41 83.26 L576.91 83.26 L577.41 83.27 L577.91 83.29 L578.41 83.32 L578.91 83.36 L579.41 83.42 L579.92 83.48 L580.42 83.55 L580.92 83.63 L581.42 83.71 L581.92 83.80 L582.42 83.90 L582.92 84.01 L583.42 84.11 L583.92 84.23 L584.42 84.34 L584.92 84.46 L585.42 84.59 L585.92 84.72 L586.42 84.85 L586.92 84.99 L587.43 85.13 L587.93 85.28 L588.43 85.43 L588.93 85.58 L589.43 85.75 L589.93 85.91 L590.43 86.09 L590.93 86.28 L591.43 86.47 L591.93 86.67 L592.43 86.88 L592.93 87.11 L593.43 87.34 L593.93 87.59 L594.44 87.85 L594.94 88.13 L595.44 88.42 L595.94 88.73 L596.44 89.05 L596.94 89.39 L597.44 89.75 L597.94 90.12 L598.44 90.52 L598.94 90.93 L599.44 91.36 L599.94 91.81 L600.44 92.28 L600.94 92.77 L601.44 93.28 L601.95 93.81 L602.45 94.36 L602.95 94.93 L603.45 95.52 L603.95 96.12 L604.45 96.75 L604.95 97.39 L605.45 98.05 L605.95 98.72 L606.45 99.41 L606.95 100.12 L607.45 100.84 L607.95 101.57 L608.45 102.31 L608.96 103.07 L609.46 103.83 L609.96 104.61 L610.46 105.39 L610.96 106.17 L611.46 106.97 L611.96 107.77 L612.46 108.57 L612.96 109.37 L613.46 110.17 L613.96 110.98 L614.46 111.78 L614.96 112.58 L615.46 113.38 L615.96 114.17 L616.47 114.97 L616.97 115.75 L617.47 116.53 L617.97 117.31 L618.47 118.08 L618.97 118.84 L619.47 119.59 L619.97 120.34 L620.47 121.09 L620.97 121.83 L621.47 122.56 L621.97 123.28 L622.47 124.01 L622.97 124.72 L623.48 125.43 L623.98 126.14 L624.48 126.85 L624.98 127.55 L625.48 128.25 L625.98 128.95 L626.48 129.65 L626.98 130.34 L627.48 131.04 L627.98 131.73 L628.48 132.43 L628.98 133.12 L629.48 133.82 L629.98 134.51 L630.48 135.21 L630.99 135.90 L631.49 136.59 L631.99 137.29 L632.49 137.98 L632.99 138.67 L633.49 139.36 L633.99 140.05 L634.49 140.73 L634.99 141.41 L635.49 142.09 L635.99 142.76 L636.49 143.43 L636.99 144.10 L637.49 144.76 L638.00 145.42 L638.50 146.07 L639.00 146.71 L639.50 147.35 L640.00 147.99 L640.50 148.62 L641.00 149.24 L641.50 149.86 L642.00 150.48 L642.50 151.10 L643.00 151.71 L643.50 152.32 L644.00 152.92 L644.50 153.53 L645.00 154.13 L645.51 154.73 L646.01 155.34 L646.51 155.94 L647.01 156.55 L647.51 157.15 L648.01 157.76 L648.51 158.36 L649.01 158.97 L649.51 159.57 L650.01 160.18 L650.51 160.79 L651.01 161.39 L651.51 162.00 L652.01 162.61 L652.52 163.21 L653.02 163.82 L653.52 164.42 L654.02 165.02 L654.52 165.63 L655.02 166.23 L655.52 166.83 L656.02 167.43 L656.52 168.03 L657.02 168.64 L657.52 169.24 L658.02 169.84 L658.52 170.44 L659.02 171.04 L659.52 171.64 L660.03 172.24 L660.53 172.84 L661.03 173.43 L661.53 174.03 L662.03 174.63 L662.53 175.22 L663.03 175.81 L663.53 176.40 L664.03 176.99 L664.53 177.57 L665.03 178.15 L665.53 178.72 L666.03 179.29 L666.53 179.86 L667.04 180.42 L667.54 180.97 L668.04 181.52 L668.54 182.07 L669.04 182.61 L669.54 183.14 L670.04 183.67 L670.54 184.19 L671.04 184.71 L671.54 185.22 L672.04 185.72 L672.54 186.22 L673.04 186.72 L673.54 187.21 L674.04 187.69 L674.55 188.17 L675.05 188.64 L675.55 189.11 L676.05 189.57 L676.55 190.03 L677.05 190.48 L677.55 190.93 L678.05 191.37 L678.55 191.81 L679.05 192.24 L679.55 192.66 L680.05 193.08 L680.55 193.50 L681.05 193.91 L681.56 194.32 L682.06 194.72 L682.56 195.11 L683.06 195.50 L683.56 195.89 L684.06 196.27 L684.56 196.65 L685.06 197.02 L685.56 197.38 L686.06 197.74 L686.56 198.09 L687.06 198.44 L687.56 198.79 L688.06 199.12 L688.56 199.46 L689.07 199.78 L689.57 200.10 L690.07 200.42 L690.57 200.73 L691.07 201.03 L691.57 201.33 L692.07 201.63 L692.57 201.92 L693.07 202.21 L693.57 202.49 L694.07 202.78 L694.57 203.05 L695.07 203.33 L695.57 203.61 L696.08 203.88 L696.58 204.15 L697.08 204.42 L697.58 204.69 L698.08 204.96 L698.58 205.24 L699.08 205.51 L699.58 205.78 L700.08 206.06 L700.58 206.34 L701.08 206.62 L701.58 206.90 L702.08 207.18 L702.58 207.47 L703.08 207.76 L703.59 208.05 L704.09 208.34 L704.59 208.63 L705.09 208.92 L705.59 209.22 L706.09 209.51 L706.59 209.80 L707.09 210.08 L707.59 210.37 L708.09 210.65 L708.59 210.92 L709.09 211.19 L709.59 211.46 L710.09 211.72 L710.60 211.97 L711.10 212.22 L711.60 212.46 L712.10 212.70 L712.60 212.93 L713.10 213.15 L713.60 213.37 L714.10 213.58 L714.60 213.79 L715.10 213.99 L715.60 214.18 L716.10 214.37 L716.60 214.56 L717.10 214.74 L717.60 214.92 L718.11 215.09 L718.61 215.26 L719.11 215.43 L719.61 215.60 L720.11 215.76 L720.61 215.92 L721.11 216.07 L721.61 216.23 L722.11 216.38 L722.61 216.53 L723.11 216.67 L723.61 216.82 L724.11 216.96 L724.61 217.10 L725.12 217.23 L725.62 217.37 L726.12 217.50 L726.62 217.63 L727.12 217.76 L727.62 217.88 L728.12 218.01 L728.62 218.13 L729.12 218.25 L729.62 218.37 L730.12 218.49 L730.62 218.61 L731.12 218.73 L731.62 218.84 L732.12 218.95 L732.63 219.07 L733.13 219.18 L733.63 219.29 L734.13 219.40 L734.63 219.51 L735.13 219.61 L735.63 219.72 L736.13 219.82 L736.63 219.93 L737.13 220.03 L737.63 220.13 L738.13 220.23 L738.63 220.33 L739.13 220.43 L739.64 220.53 L740.14 220.63 L740.64 220.72 L741.14 220.82 L741.64 220.91 L742.14 221.01 L742.64 221.10 L743.14 221.19 L743.64 221.29 L744.14 221.38 L744.64 221.47 L745.14 221.56 L745.64 221.66 L746.14 221.75 L746.64 221.84 L747.15 221.93 L747.65 222.03 L748.15 222.12 L748.65 222.21 L749.15 222.31 L749.65 222.40 L750.15 222.49 L750.65 222.59 L751.15 222.68 L751.65 222.77 L752.15 222.86 L752.65 222.95 L753.15 223.04 L753.65 223.13 L754.16 223.22 L754.66 223.31 L755.16 223.39 L755.66 223.48 L756.16 223.56 L756.66 223.64 L757.16 223.72 L757.66 223.80 L758.16 223.88 L758.66 223.96 L759.16 224.03 L759.66 224.11 L760.16 224.18 L760.66 224.25 L761.16 224.32 L761.67 224.39 L762.17 224.45 L762.67 224.52 L763.17 224.58 L763.67 224.64 L764.17 224.70 L764.67 224.76 L765.17 224.82 L765.67 224.87 L766.17 224.93 L766.67 224.98 L767.17 225.03 L767.67 225.08 L768.17 225.13 L768.68 225.18 L769.18 225.22 L769.68 225.27 L770.18 225.31 L770.68 225.36 L771.18 225.40 L771.68 225.44 L772.18 225.48 L772.68 225.51 L773.18 225.55 L773.68 225.59 L774.18 225.62 L774.68 225.66 L775.18 225.69 L775.68 225.73 L776.19 225.76 L776.69 225.79 L777.19 225.82 L777.69 225.85 L778.19 225.88 L778.69 225.91 L779.19 225.94 L779.69 225.97 L780.19 226.00 L780.69 226.02 L781.19 226.05 L781.69 226.08 L782.19 226.10 L782.69 226.12 L783.20 226.15 L783.70 226.17 L784.20 226.19 L784.70 226.21 L785.20 226.24 L785.70 226.26 L786.20 226.28 L786.70 226.30" fill="none" stroke="#F14040" stroke-width="1.9" stroke-linejoin="round"/>
<path d="M496.00 226.00 L496.50 225.73 L497.00 225.46 L497.50 225.19 L498.00 224.91 L498.50 224.64 L499.00 224.37 L499.50 224.09 L500.00 223.81 L500.50 223.53 L501.00 223.25 L501.50 222.96 L502.00 222.68 L502.50 222.39 L503.00 222.10 L503.51 221.82 L504.01 221.52 L504.51 221.23 L505.01 220.94 L505.51 220.64 L506.01 220.34 L506.51 220.04 L507.01 219.74 L507.51 219.44 L508.01 219.14 L508.51 218.83 L509.01 218.52 L509.51 218.21 L510.01 217.90 L510.51 217.59 L511.01 217.27 L511.51 216.95 L512.01 216.63 L512.51 216.31 L513.01 215.99 L513.51 215.66 L514.01 215.33 L514.51 215.00 L515.01 214.67 L515.51 214.34 L516.01 214.00 L516.51 213.66 L517.01 213.32 L517.51 212.97 L518.02 212.62 L518.52 212.27 L519.02 211.92 L519.52 211.57 L520.02 211.21 L520.52 210.86 L521.02 210.50 L521.52 210.15 L522.02 209.79 L522.52 209.44 L523.02 209.09 L523.52 208.75 L524.02 208.40 L524.52 208.07 L525.02 207.73 L525.52 207.40 L526.02 207.08 L526.52 206.76 L527.02 206.44 L527.52 206.13 L528.02 205.83 L528.52 205.52 L529.02 205.23 L529.52 204.93 L530.02 204.65 L530.52 204.36 L531.02 204.08 L531.52 203.81 L532.02 203.54 L532.53 203.28 L533.03 203.02 L533.53 202.77 L534.03 202.52 L534.53 202.28 L535.03 202.03 L535.53 201.80 L536.03 201.56 L536.53 201.33 L537.03 201.10 L537.53 200.88 L538.03 200.66 L538.53 200.45 L539.03 200.24 L539.53 200.03 L540.03 199.83 L540.53 199.64 L541.03 199.45 L541.53 199.27 L542.03 199.09 L542.53 198.92 L543.03 198.76 L543.53 198.60 L544.03 198.45 L544.53 198.30 L545.03 198.15 L545.53 198.01 L546.03 197.87 L546.53 197.74 L547.04 197.60 L547.54 197.47 L548.04 197.35 L548.54 197.22 L549.04 197.10 L549.54 196.98 L550.04 196.87 L550.54 196.75 L551.04 196.64 L551.54 196.53 L552.04 196.42 L552.54 196.32 L553.04 196.21 L553.54 196.11 L554.04 196.01 L554.54 195.91 L555.04 195.82 L555.54 195.72 L556.04 195.63 L556.54 195.54 L557.04 195.45 L557.54 195.37 L558.04 195.28 L558.54 195.20 L559.04 195.13 L559.54 195.05 L560.04 194.97 L560.54 194.90 L561.04 194.83 L561.55 194.75 L562.05 194.68 L562.55 194.60 L563.05 194.52 L563.55 194.43 L564.05 194.34 L564.55 194.24 L565.05 194.14 L565.55 194.03 L566.05 193.91 L566.55 193.78 L567.05 193.65 L567.55 193.51 L568.05 193.36 L568.55 193.21 L569.05 193.06 L569.55 192.91 L570.05 192.76 L570.55 192.62 L571.05 192.47 L571.55 192.33 L572.05 192.20 L572.55 192.07 L573.05 191.95 L573.55 191.84 L574.05 191.74 L574.55 191.65 L575.05 191.57 L575.55 191.50 L576.06 191.43 L576.56 191.38 L577.06 191.33 L577.56 191.28 L578.06 191.24 L578.56 191.19 L579.06 191.16 L579.56 191.12 L580.06 191.08 L580.56 191.04 L581.06 190.99 L581.56 190.94 L582.06 190.89 L582.56 190.82 L583.06 190.74 L583.56 190.66 L584.06 190.55 L584.56 190.43 L585.06 190.30 L585.56 190.14 L586.06 189.97 L586.56 189.77 L587.06 189.56 L587.56 189.34 L588.06 189.11 L588.56 188.86 L589.06 188.61 L589.56 188.36 L590.06 188.10 L590.57 187.85 L591.07 187.59 L591.57 187.34 L592.07 187.09 L592.57 186.84 L593.07 186.59 L593.57 186.34 L594.07 186.10 L594.57 185.85 L595.07 185.61 L595.57 185.37 L596.07 185.14 L596.57 184.91 L597.07 184.69 L597.57 184.47 L598.07 184.25 L598.57 184.05 L599.07 183.85 L599.57 183.65 L600.07 183.46 L600.57 183.28 L601.07 183.10 L601.57 182.93 L602.07 182.76 L602.57 182.61 L603.07 182.47 L603.57 182.34 L604.07 182.23 L604.57 182.13 L605.08 182.06 L605.58 181.99 L606.08 181.95 L606.58 181.92 L607.08 181.91 L607.58 181.91 L608.08 181.92 L608.58 181.94 L609.08 181.97 L609.58 182.01 L610.08 182.05 L610.58 182.10 L611.08 182.15 L611.58 182.21 L612.08 182.28 L612.58 182.35 L613.08 182.43 L613.58 182.51 L614.08 182.60 L614.58 182.68 L615.08 182.76 L615.58 182.83 L616.08 182.89 L616.58 182.94 L617.08 182.96 L617.58 182.97 L618.08 182.95 L618.58 182.90 L619.08 182.84 L619.59 182.75 L620.09 182.63 L620.59 182.50 L621.09 182.36 L621.59 182.21 L622.09 182.05 L622.59 181.88 L623.09 181.72 L623.59 181.56 L624.09 181.40 L624.59 181.25 L625.09 181.11 L625.59 180.98 L626.09 180.84 L626.59 180.72 L627.09 180.59 L627.59 180.46 L628.09 180.34 L628.59 180.21 L629.09 180.08 L629.59 179.94 L630.09 179.79 L630.59 179.64 L631.09 179.49 L631.59 179.33 L632.09 179.17 L632.59 179.01 L633.09 178.85 L633.59 178.71 L634.10 178.58 L634.60 178.46 L635.10 178.36 L635.60 178.29 L636.10 178.23 L636.60 178.20 L637.10 178.19 L637.60 178.21 L638.10 178.24 L638.60 178.29 L639.10 178.35 L639.60 178.42 L640.10 178.51 L640.60 178.61 L641.10 178.72 L641.60 178.83 L642.10 178.96 L642.60 179.09 L643.10 179.24 L643.60 179.39 L644.10 179.56 L644.60 179.73 L645.10 179.92 L645.60 180.12 L646.10 180.33 L646.60 180.55 L647.10 180.78 L647.60 181.01 L648.10 181.26 L648.60 181.51 L649.11 181.77 L649.61 182.04 L650.11 182.32 L650.61 182.60 L651.11 182.89 L651.61 183.19 L652.11 183.50 L652.61 183.82 L653.11 184.14 L653.61 184.47 L654.11 184.81 L654.61 185.16 L655.11 185.52 L655.61 185.87 L656.11 186.24 L656.61 186.60 L657.11 186.97 L657.61 187.34 L658.11 187.71 L658.61 188.08 L659.11 188.45 L659.61 188.82 L660.11 189.19 L660.61 189.55 L661.11 189.91 L661.61 190.27 L662.11 190.62 L662.61 190.98 L663.11 191.32 L663.62 191.67 L664.12 192.01 L664.62 192.35 L665.12 192.69 L665.62 193.03 L666.12 193.36 L666.62 193.70 L667.12 194.03 L667.62 194.37 L668.12 194.70 L668.62 195.03 L669.12 195.36 L669.62 195.69 L670.12 196.02 L670.62 196.34 L671.12 196.66 L671.62 196.99 L672.12 197.31 L672.62 197.62 L673.12 197.94 L673.62 198.25 L674.12 198.56 L674.62 198.87 L675.12 199.17 L675.62 199.47 L676.12 199.77 L676.62 200.07 L677.12 200.36 L677.62 200.65 L678.13 200.94 L678.63 201.23 L679.13 201.52 L679.63 201.80 L680.13 202.08 L680.63 202.36 L681.13 202.64 L681.63 202.91 L682.13 203.19 L682.63 203.46 L683.13 203.73 L683.63 204.00 L684.13 204.27 L684.63 204.54 L685.13 204.81 L685.63 205.08 L686.13 205.34 L686.63 205.61 L687.13 205.87 L687.63 206.14 L688.13 206.40 L688.63 206.67 L689.13 206.93 L689.63 207.19 L690.13 207.46 L690.63 207.72 L691.13 207.99 L691.63 208.25 L692.13 208.51 L692.64 208.78 L693.14 209.04 L693.64 209.30 L694.14 209.56 L694.64 209.82 L695.14 210.07 L695.64 210.33 L696.14 210.58 L696.64 210.83 L697.14 211.08 L697.64 211.32 L698.14 211.56 L698.64 211.79 L699.14 212.03 L699.64 212.26 L700.14 212.48 L700.64 212.70 L701.14 212.92 L701.64 213.13 L702.14 213.34 L702.64 213.55 L703.14 213.75 L703.64 213.95 L704.14 214.15 L704.64 214.35 L705.14 214.54 L705.64 214.73 L706.14 214.92 L706.64 215.11 L707.15 215.29 L707.65 215.47 L708.15 215.65 L708.65 215.83 L709.15 216.00 L709.65 216.18 L710.15 216.34 L710.65 216.51 L711.15 216.68 L711.65 216.84 L712.15 217.00 L712.65 217.15 L713.15 217.31 L713.65 217.46 L714.15 217.61 L714.65 217.76 L715.15 217.90 L715.65 218.05 L716.15 218.19 L716.65 218.33 L717.15 218.47 L717.65 218.61 L718.15 218.75 L718.65 218.88 L719.15 219.02 L719.65 219.15 L720.15 219.28 L720.65 219.41 L721.15 219.54 L721.66 219.66 L722.16 219.78 L722.66 219.91 L723.16 220.03 L723.66 220.15 L724.16 220.26 L724.66 220.38 L725.16 220.49 L725.66 220.60 L726.16 220.71 L726.66 220.82 L727.16 220.92 L727.66 221.03 L728.16 221.13 L728.66 221.23 L729.16 221.32 L729.66 221.41 L730.16 221.50 L730.66 221.59 L731.16 221.68 L731.66 221.76 L732.16 221.84 L732.66 221.92 L733.16 222.00 L733.66 222.08 L734.16 222.16 L734.66 222.24 L735.16 222.31 L735.66 222.39 L736.17 222.47 L736.67 222.55 L737.17 222.63 L737.67 222.70 L738.17 222.78 L738.67 222.86 L739.17 222.94 L739.67 223.01 L740.17 223.09 L740.67 223.16 L741.17 223.24 L741.67 223.31 L742.17 223.38 L742.67 223.46 L743.17 223.53 L743.67 223.60 L744.17 223.67 L744.67 223.74 L745.17 223.80 L745.67 223.87 L746.17 223.94 L746.67 224.00 L747.17 224.06 L747.67 224.13 L748.17 224.19 L748.67 224.25 L749.17 224.32 L749.67 224.38 L750.17 224.44 L750.68 224.50 L751.18 224.56 L751.68 224.61 L752.18 224.67 L752.68 224.73 L753.18 224.78 L753.68 224.83 L754.18 224.88 L754.68 224.94 L755.18 224.99 L755.68 225.03 L756.18 225.08 L756.68 225.13 L757.18 225.18 L757.68 225.22 L758.18 225.27 L758.68 225.31 L759.18 225.36 L759.68 225.40 L760.18 225.44 L760.68 225.49 L761.18 225.53 L761.68 225.57 L762.18 225.62 L762.68 225.66 L763.18 225.70 L763.68 225.74 L764.18 225.79 L764.68 225.83 L765.19 225.87 L765.69 225.91 L766.19 225.95 L766.69 225.99 L767.19 226.03 L767.69 226.07 L768.19 226.11 L768.69 226.15 L769.19 226.19 L769.69 226.22 L770.19 226.26 L770.69 226.30 L771.19 226.33 L771.69 226.37 L772.19 226.41 L772.69 226.44 L773.19 226.48 L773.69 226.51 L774.19 226.54 L774.69 226.58 L775.19 226.61 L775.69 226.64 L776.19 226.67 L776.69 226.71 L777.19 226.74 L777.69 226.77 L778.19 226.80 L778.69 226.82 L779.19 226.85 L779.70 226.88 L780.20 226.91 L780.70 226.93 L781.20 226.96 L781.70 226.98 L782.20 227.01 L782.70 227.03 L783.20 227.05 L783.70 227.08 L784.20 227.10 L784.70 227.12 L785.20 227.14 L785.70 227.16 L786.20 227.18 L786.70 227.20" fill="none" stroke="#1A6FDF" stroke-width="1.8" stroke-linejoin="round"/>
<path d="M496.00 226.80 L496.50 226.72 L497.00 226.64 L497.50 226.55 L498.00 226.47 L498.50 226.39 L499.00 226.31 L499.50 226.23 L500.00 226.15 L500.50 226.08 L501.00 226.00 L501.50 225.92 L502.00 225.85 L502.50 225.77 L503.00 225.70 L503.51 225.63 L504.01 225.56 L504.51 225.49 L505.01 225.42 L505.51 225.35 L506.01 225.29 L506.51 225.22 L507.01 225.16 L507.51 225.09 L508.01 225.03 L508.51 224.97 L509.01 224.91 L509.51 224.86 L510.01 224.80 L510.51 224.74 L511.01 224.69 L511.51 224.63 L512.01 224.58 L512.51 224.53 L513.01 224.47 L513.51 224.42 L514.01 224.37 L514.51 224.32 L515.01 224.26 L515.51 224.21 L516.01 224.16 L516.51 224.11 L517.01 224.06 L517.51 224.01 L518.02 223.96 L518.52 223.91 L519.02 223.86 L519.52 223.81 L520.02 223.76 L520.52 223.72 L521.02 223.68 L521.52 223.64 L522.02 223.60 L522.52 223.56 L523.02 223.53 L523.52 223.49 L524.02 223.46 L524.52 223.44 L525.02 223.41 L525.52 223.39 L526.02 223.37 L526.52 223.36 L527.02 223.34 L527.52 223.33 L528.02 223.33 L528.52 223.32 L529.02 223.32 L529.52 223.32 L530.02 223.33 L530.52 223.33 L531.02 223.34 L531.52 223.35 L532.02 223.36 L532.53 223.38 L533.03 223.39 L533.53 223.41 L534.03 223.42 L534.53 223.44 L535.03 223.46 L535.53 223.48 L536.03 223.50 L536.53 223.52 L537.03 223.54 L537.53 223.57 L538.03 223.59 L538.53 223.61 L539.03 223.63 L539.53 223.65 L540.03 223.68 L540.53 223.70 L541.03 223.72 L541.53 223.74 L542.03 223.76 L542.53 223.78 L543.03 223.80 L543.53 223.82 L544.03 223.84 L544.53 223.87 L545.03 223.89 L545.53 223.91 L546.03 223.93 L546.53 223.95 L547.04 223.98 L547.54 224.00 L548.04 224.02 L548.54 224.04 L549.04 224.06 L549.54 224.08 L550.04 224.10 L550.54 224.12 L551.04 224.13 L551.54 224.15 L552.04 224.16 L552.54 224.17 L553.04 224.17 L553.54 224.18 L554.04 224.18 L554.54 224.19 L555.04 224.19 L555.54 224.18 L556.04 224.18 L556.54 224.18 L557.04 224.17 L557.54 224.16 L558.04 224.15 L558.54 224.15 L559.04 224.13 L559.54 224.12 L560.04 224.11 L560.54 224.10 L561.04 224.09 L561.55 224.07 L562.05 224.06 L562.55 224.04 L563.05 224.02 L563.55 224.01 L564.05 223.99 L564.55 223.97 L565.05 223.96 L565.55 223.94 L566.05 223.92 L566.55 223.90 L567.05 223.88 L567.55 223.86 L568.05 223.84 L568.55 223.82 L569.05 223.80 L569.55 223.77 L570.05 223.75 L570.55 223.73 L571.05 223.70 L571.55 223.67 L572.05 223.64 L572.55 223.62 L573.05 223.58 L573.55 223.55 L574.05 223.52 L574.55 223.48 L575.05 223.45 L575.55 223.41 L576.06 223.37 L576.56 223.33 L577.06 223.29 L577.56 223.25 L578.06 223.21 L578.56 223.16 L579.06 223.12 L579.56 223.07 L580.06 223.02 L580.56 222.97 L581.06 222.92 L581.56 222.87 L582.06 222.81 L582.56 222.76 L583.06 222.70 L583.56 222.64 L584.06 222.58 L584.56 222.52 L585.06 222.45 L585.56 222.38 L586.06 222.30 L586.56 222.22 L587.06 222.14 L587.56 222.05 L588.06 221.96 L588.56 221.87 L589.06 221.77 L589.56 221.67 L590.06 221.57 L590.57 221.46 L591.07 221.36 L591.57 221.25 L592.07 221.14 L592.57 221.03 L593.07 220.92 L593.57 220.81 L594.07 220.69 L594.57 220.58 L595.07 220.47 L595.57 220.36 L596.07 220.25 L596.57 220.14 L597.07 220.03 L597.57 219.93 L598.07 219.82 L598.57 219.72 L599.07 219.62 L599.57 219.52 L600.07 219.42 L600.57 219.32 L601.07 219.22 L601.57 219.12 L602.07 219.03 L602.57 218.93 L603.07 218.83 L603.57 218.74 L604.07 218.64 L604.57 218.54 L605.08 218.45 L605.58 218.35 L606.08 218.26 L606.58 218.16 L607.08 218.06 L607.58 217.97 L608.08 217.87 L608.58 217.78 L609.08 217.68 L609.58 217.58 L610.08 217.49 L610.58 217.39 L611.08 217.30 L611.58 217.20 L612.08 217.11 L612.58 217.01 L613.08 216.92 L613.58 216.83 L614.08 216.73 L614.58 216.64 L615.08 216.55 L615.58 216.46 L616.08 216.36 L616.58 216.27 L617.08 216.17 L617.58 216.07 L618.08 215.98 L618.58 215.88 L619.08 215.78 L619.59 215.68 L620.09 215.57 L620.59 215.47 L621.09 215.36 L621.59 215.25 L622.09 215.13 L622.59 215.02 L623.09 214.90 L623.59 214.78 L624.09 214.65 L624.59 214.53 L625.09 214.39 L625.59 214.26 L626.09 214.12 L626.59 213.97 L627.09 213.82 L627.59 213.66 L628.09 213.50 L628.59 213.33 L629.09 213.15 L629.59 212.96 L630.09 212.75 L630.59 212.54 L631.09 212.32 L631.59 212.08 L632.09 211.84 L632.59 211.59 L633.09 211.33 L633.59 211.07 L634.10 210.80 L634.60 210.54 L635.10 210.29 L635.60 210.04 L636.10 209.80 L636.60 209.58 L637.10 209.36 L637.60 209.16 L638.10 208.97 L638.60 208.79 L639.10 208.63 L639.60 208.47 L640.10 208.32 L640.60 208.17 L641.10 208.04 L641.60 207.91 L642.10 207.78 L642.60 207.66 L643.10 207.55 L643.60 207.44 L644.10 207.35 L644.60 207.25 L645.10 207.17 L645.60 207.09 L646.10 207.03 L646.60 206.97 L647.10 206.91 L647.60 206.87 L648.10 206.84 L648.60 206.81 L649.11 206.80 L649.61 206.79 L650.11 206.80 L650.61 206.81 L651.11 206.84 L651.61 206.88 L652.11 206.93 L652.61 206.99 L653.11 207.06 L653.61 207.14 L654.11 207.23 L654.61 207.33 L655.11 207.43 L655.61 207.54 L656.11 207.66 L656.61 207.78 L657.11 207.91 L657.61 208.04 L658.11 208.19 L658.61 208.34 L659.11 208.51 L659.61 208.69 L660.11 208.87 L660.61 209.07 L661.11 209.27 L661.61 209.49 L662.11 209.71 L662.61 209.94 L663.11 210.18 L663.62 210.42 L664.12 210.66 L664.62 210.90 L665.12 211.15 L665.62 211.39 L666.12 211.63 L666.62 211.87 L667.12 212.10 L667.62 212.33 L668.12 212.55 L668.62 212.77 L669.12 212.98 L669.62 213.19 L670.12 213.39 L670.62 213.59 L671.12 213.78 L671.62 213.98 L672.12 214.17 L672.62 214.36 L673.12 214.54 L673.62 214.73 L674.12 214.92 L674.62 215.10 L675.12 215.28 L675.62 215.47 L676.12 215.65 L676.62 215.83 L677.12 216.00 L677.62 216.18 L678.13 216.36 L678.63 216.53 L679.13 216.70 L679.63 216.87 L680.13 217.04 L680.63 217.21 L681.13 217.37 L681.63 217.53 L682.13 217.69 L682.63 217.85 L683.13 218.01 L683.63 218.16 L684.13 218.31 L684.63 218.46 L685.13 218.61 L685.63 218.75 L686.13 218.89 L686.63 219.03 L687.13 219.17 L687.63 219.30 L688.13 219.44 L688.63 219.57 L689.13 219.69 L689.63 219.82 L690.13 219.95 L690.63 220.07 L691.13 220.19 L691.63 220.31 L692.13 220.43 L692.64 220.55 L693.14 220.66 L693.64 220.78 L694.14 220.89 L694.64 221.00 L695.14 221.11 L695.64 221.22 L696.14 221.33 L696.64 221.44 L697.14 221.54 L697.64 221.65 L698.14 221.75 L698.64 221.85 L699.14 221.95 L699.64 222.05 L700.14 222.15 L700.64 222.25 L701.14 222.34 L701.64 222.43 L702.14 222.52 L702.64 222.62 L703.14 222.70 L703.64 222.79 L704.14 222.88 L704.64 222.96 L705.14 223.04 L705.64 223.13 L706.14 223.21 L706.64 223.29 L707.15 223.36 L707.65 223.44 L708.15 223.52 L708.65 223.60 L709.15 223.67 L709.65 223.75 L710.15 223.83 L710.65 223.90 L711.15 223.98 L711.65 224.06 L712.15 224.13 L712.65 224.21 L713.15 224.29 L713.65 224.36 L714.15 224.44 L714.65 224.52 L715.15 224.59 L715.65 224.67 L716.15 224.74 L716.65 224.81 L717.15 224.89 L717.65 224.96 L718.15 225.03 L718.65 225.09 L719.15 225.16 L719.65 225.22 L720.15 225.29 L720.65 225.35 L721.15 225.41 L721.66 225.46 L722.16 225.52 L722.66 225.57 L723.16 225.62 L723.66 225.66 L724.16 225.71 L724.66 225.75 L725.16 225.79 L725.66 225.82 L726.16 225.85 L726.66 225.87 L727.16 225.89 L727.66 225.90 L728.16 225.90 L728.66 225.88 L729.16 225.85 L729.66 225.81 L730.16 225.75 L730.66 225.68 L731.16 225.59 L731.66 225.50 L732.16 225.40 L732.66 225.30 L733.16 225.22 L733.66 225.14 L734.16 225.08 L734.66 225.03 L735.16 225.00 L735.66 224.99 L736.17 224.98 L736.67 224.98 L737.17 224.99 L737.67 225.01 L738.17 225.02 L738.67 225.05 L739.17 225.07 L739.67 225.10 L740.17 225.13 L740.67 225.16 L741.17 225.19 L741.67 225.22 L742.17 225.26 L742.67 225.29 L743.17 225.33 L743.67 225.37 L744.17 225.40 L744.67 225.44 L745.17 225.48 L745.67 225.52 L746.17 225.56 L746.67 225.61 L747.17 225.65 L747.67 225.69 L748.17 225.73 L748.67 225.77 L749.17 225.81 L749.67 225.85 L750.17 225.89 L750.68 225.93 L751.18 225.97 L751.68 226.00 L752.18 226.04 L752.68 226.07 L753.18 226.11 L753.68 226.14 L754.18 226.17 L754.68 226.20 L755.18 226.23 L755.68 226.26 L756.18 226.29 L756.68 226.31 L757.18 226.34 L757.68 226.36 L758.18 226.38 L758.68 226.41 L759.18 226.43 L759.68 226.45 L760.18 226.48 L760.68 226.50 L761.18 226.52 L761.68 226.54 L762.18 226.56 L762.68 226.59 L763.18 226.61 L763.68 226.63 L764.18 226.65 L764.68 226.67 L765.19 226.69 L765.69 226.71 L766.19 226.73 L766.69 226.76 L767.19 226.78 L767.69 226.80 L768.19 226.82 L768.69 226.84 L769.19 226.86 L769.69 226.87 L770.19 226.89 L770.69 226.91 L771.19 226.93 L771.69 226.95 L772.19 226.97 L772.69 226.99 L773.19 227.01 L773.69 227.02 L774.19 227.04 L774.69 227.06 L775.19 227.08 L775.69 227.09 L776.19 227.11 L776.69 227.13 L777.19 227.14 L777.69 227.16 L778.19 227.17 L778.69 227.19 L779.19 227.20 L779.70 227.22 L780.20 227.23 L780.70 227.25 L781.20 227.26 L781.70 227.28 L782.20 227.29 L782.70 227.30 L783.20 227.32 L783.70 227.33 L784.20 227.34 L784.70 227.35 L785.20 227.36 L785.70 227.38 L786.20 227.39 L786.70 227.40" fill="none" stroke="#37AD6B" stroke-width="1.8" stroke-linejoin="round"/>
<path d="M496.00 228.50 L496.50 228.50 L497.00 228.50 L497.50 228.50 L498.00 228.50 L498.50 228.50 L499.00 228.50 L499.50 228.50 L500.00 228.50 L500.50 228.50 L501.00 228.50 L501.50 228.50 L502.00 228.50 L502.50 228.50 L503.00 228.50 L503.51 228.50 L504.01 228.50 L504.51 228.50 L505.01 228.50 L505.51 228.50 L506.01 228.50 L506.51 228.50 L507.01 228.50 L507.51 228.49 L508.01 228.49 L508.51 228.49 L509.01 228.49 L509.51 228.49 L510.01 228.49 L510.51 228.49 L511.01 228.49 L511.51 228.49 L512.01 228.49 L512.51 228.49 L513.01 228.49 L513.51 228.49 L514.01 228.49 L514.51 228.49 L515.01 228.49 L515.51 228.48 L516.01 228.48 L516.51 228.48 L517.01 228.48 L517.51 228.48 L518.02 228.48 L518.52 228.48 L519.02 228.48 L519.52 228.48 L520.02 228.48 L520.52 228.47 L521.02 228.47 L521.52 228.47 L522.02 228.47 L522.52 228.47 L523.02 228.47 L523.52 228.47 L524.02 228.47 L524.52 228.47 L525.02 228.46 L525.52 228.46 L526.02 228.46 L526.52 228.46 L527.02 228.46 L527.52 228.46 L528.02 228.46 L528.52 228.45 L529.02 228.45 L529.52 228.45 L530.02 228.45 L530.52 228.45 L531.02 228.45 L531.52 228.44 L532.02 228.44 L532.53 228.44 L533.03 228.44 L533.53 228.44 L534.03 228.44 L534.53 228.43 L535.03 228.43 L535.53 228.43 L536.03 228.43 L536.53 228.43 L537.03 228.42 L537.53 228.42 L538.03 228.42 L538.53 228.42 L539.03 228.42 L539.53 228.41 L540.03 228.41 L540.53 228.41 L541.03 228.41 L541.53 228.41 L542.03 228.40 L542.53 228.40 L543.03 228.40 L543.53 228.40 L544.03 228.39 L544.53 228.39 L545.03 228.39 L545.53 228.39 L546.03 228.38 L546.53 228.38 L547.04 228.38 L547.54 228.38 L548.04 228.37 L548.54 228.37 L549.04 228.37 L549.54 228.37 L550.04 228.36 L550.54 228.36 L551.04 228.36 L551.54 228.35 L552.04 228.35 L552.54 228.35 L553.04 228.35 L553.54 228.34 L554.04 228.34 L554.54 228.34 L555.04 228.33 L555.54 228.33 L556.04 228.33 L556.54 228.32 L557.04 228.32 L557.54 228.32 L558.04 228.31 L558.54 228.31 L559.04 228.30 L559.54 228.30 L560.04 228.29 L560.54 228.28 L561.04 228.27 L561.55 228.26 L562.05 228.25 L562.55 228.24 L563.05 228.22 L563.55 228.21 L564.05 228.19 L564.55 228.17 L565.05 228.15 L565.55 228.13 L566.05 228.10 L566.55 228.08 L567.05 228.05 L567.55 228.02 L568.05 227.99 L568.55 227.96 L569.05 227.93 L569.55 227.90 L570.05 227.87 L570.55 227.84 L571.05 227.80 L571.55 227.77 L572.05 227.74 L572.55 227.70 L573.05 227.67 L573.55 227.63 L574.05 227.60 L574.55 227.56 L575.05 227.53 L575.55 227.49 L576.06 227.46 L576.56 227.42 L577.06 227.39 L577.56 227.36 L578.06 227.33 L578.56 227.29 L579.06 227.26 L579.56 227.23 L580.06 227.20 L580.56 227.17 L581.06 227.14 L581.56 227.11 L582.06 227.08 L582.56 227.06 L583.06 227.03 L583.56 227.00 L584.06 226.97 L584.56 226.95 L585.06 226.92 L585.56 226.89 L586.06 226.86 L586.56 226.84 L587.06 226.81 L587.56 226.78 L588.06 226.75 L588.56 226.73 L589.06 226.70 L589.56 226.67 L590.06 226.64 L590.57 226.61 L591.07 226.58 L591.57 226.56 L592.07 226.53 L592.57 226.50 L593.07 226.47 L593.57 226.44 L594.07 226.41 L594.57 226.37 L595.07 226.34 L595.57 226.31 L596.07 226.28 L596.57 226.24 L597.07 226.21 L597.57 226.17 L598.07 226.14 L598.57 226.10 L599.07 226.07 L599.57 226.03 L600.07 225.99 L600.57 225.95 L601.07 225.91 L601.57 225.87 L602.07 225.83 L602.57 225.78 L603.07 225.74 L603.57 225.69 L604.07 225.64 L604.57 225.59 L605.08 225.54 L605.58 225.49 L606.08 225.44 L606.58 225.38 L607.08 225.33 L607.58 225.27 L608.08 225.21 L608.58 225.15 L609.08 225.09 L609.58 225.02 L610.08 224.96 L610.58 224.90 L611.08 224.83 L611.58 224.76 L612.08 224.69 L612.58 224.62 L613.08 224.55 L613.58 224.48 L614.08 224.41 L614.58 224.34 L615.08 224.27 L615.58 224.19 L616.08 224.12 L616.58 224.04 L617.08 223.97 L617.58 223.89 L618.08 223.82 L618.58 223.74 L619.08 223.66 L619.59 223.59 L620.09 223.51 L620.59 223.43 L621.09 223.36 L621.59 223.28 L622.09 223.21 L622.59 223.13 L623.09 223.05 L623.59 222.97 L624.09 222.90 L624.59 222.82 L625.09 222.74 L625.59 222.65 L626.09 222.57 L626.59 222.48 L627.09 222.38 L627.59 222.28 L628.09 222.17 L628.59 222.05 L629.09 221.92 L629.59 221.78 L630.09 221.62 L630.59 221.45 L631.09 221.25 L631.59 221.05 L632.09 220.82 L632.59 220.58 L633.09 220.32 L633.59 220.05 L634.10 219.78 L634.60 219.49 L635.10 219.21 L635.60 218.93 L636.10 218.65 L636.60 218.38 L637.10 218.12 L637.60 217.88 L638.10 217.65 L638.60 217.44 L639.10 217.24 L639.60 217.06 L640.10 216.89 L640.60 216.74 L641.10 216.59 L641.60 216.46 L642.10 216.33 L642.60 216.21 L643.10 216.09 L643.60 215.98 L644.10 215.87 L644.60 215.77 L645.10 215.67 L645.60 215.58 L646.10 215.50 L646.60 215.42 L647.10 215.35 L647.60 215.28 L648.10 215.23 L648.60 215.18 L649.11 215.14 L649.61 215.12 L650.11 215.10 L650.61 215.09 L651.11 215.09 L651.61 215.10 L652.11 215.13 L652.61 215.16 L653.11 215.20 L653.61 215.25 L654.11 215.31 L654.61 215.38 L655.11 215.46 L655.61 215.54 L656.11 215.63 L656.61 215.72 L657.11 215.82 L657.61 215.92 L658.11 216.03 L658.61 216.13 L659.11 216.24 L659.61 216.35 L660.11 216.45 L660.61 216.56 L661.11 216.67 L661.61 216.78 L662.11 216.88 L662.61 216.99 L663.11 217.10 L663.62 217.21 L664.12 217.32 L664.62 217.43 L665.12 217.55 L665.62 217.67 L666.12 217.79 L666.62 217.91 L667.12 218.03 L667.62 218.16 L668.12 218.29 L668.62 218.42 L669.12 218.55 L669.62 218.68 L670.12 218.81 L670.62 218.94 L671.12 219.08 L671.62 219.21 L672.12 219.35 L672.62 219.48 L673.12 219.61 L673.62 219.74 L674.12 219.87 L674.62 220.00 L675.12 220.13 L675.62 220.25 L676.12 220.38 L676.62 220.50 L677.12 220.62 L677.62 220.73 L678.13 220.85 L678.63 220.96 L679.13 221.06 L679.63 221.17 L680.13 221.26 L680.63 221.36 L681.13 221.45 L681.63 221.54 L682.13 221.62 L682.63 221.70 L683.13 221.78 L683.63 221.85 L684.13 221.92 L684.63 221.99 L685.13 222.05 L685.63 222.11 L686.13 222.17 L686.63 222.23 L687.13 222.29 L687.63 222.34 L688.13 222.40 L688.63 222.45 L689.13 222.50 L689.63 222.55 L690.13 222.60 L690.63 222.65 L691.13 222.70 L691.63 222.75 L692.13 222.79 L692.64 222.84 L693.14 222.88 L693.64 222.93 L694.14 222.97 L694.64 223.02 L695.14 223.06 L695.64 223.11 L696.14 223.15 L696.64 223.20 L697.14 223.24 L697.64 223.29 L698.14 223.33 L698.64 223.38 L699.14 223.42 L699.64 223.47 L700.14 223.52 L700.64 223.56 L701.14 223.61 L701.64 223.66 L702.14 223.71 L702.64 223.76 L703.14 223.81 L703.64 223.86 L704.14 223.91 L704.64 223.96 L705.14 224.01 L705.64 224.06 L706.14 224.11 L706.64 224.16 L707.15 224.21 L707.65 224.26 L708.15 224.31 L708.65 224.36 L709.15 224.41 L709.65 224.46 L710.15 224.51 L710.65 224.55 L711.15 224.60 L711.65 224.65 L712.15 224.70 L712.65 224.74 L713.15 224.79 L713.65 224.84 L714.15 224.88 L714.65 224.93 L715.15 224.97 L715.65 225.01 L716.15 225.05 L716.65 225.09 L717.15 225.13 L717.65 225.17 L718.15 225.21 L718.65 225.25 L719.15 225.28 L719.65 225.32 L720.15 225.35 L720.65 225.38 L721.15 225.41 L721.66 225.44 L722.16 225.47 L722.66 225.50 L723.16 225.53 L723.66 225.56 L724.16 225.59 L724.66 225.61 L725.16 225.64 L725.66 225.67 L726.16 225.69 L726.66 225.72 L727.16 225.75 L727.66 225.77 L728.16 225.80 L728.66 225.82 L729.16 225.85 L729.66 225.88 L730.16 225.90 L730.66 225.93 L731.16 225.95 L731.66 225.98 L732.16 226.01 L732.66 226.03 L733.16 226.06 L733.66 226.08 L734.16 226.11 L734.66 226.13 L735.16 226.16 L735.66 226.18 L736.17 226.21 L736.67 226.23 L737.17 226.26 L737.67 226.28 L738.17 226.30 L738.67 226.33 L739.17 226.35 L739.67 226.38 L740.17 226.40 L740.67 226.43 L741.17 226.45 L741.67 226.47 L742.17 226.50 L742.67 226.52 L743.17 226.54 L743.67 226.57 L744.17 226.59 L744.67 226.61 L745.17 226.63 L745.67 226.66 L746.17 226.68 L746.67 226.70 L747.17 226.72 L747.67 226.74 L748.17 226.77 L748.67 226.79 L749.17 226.81 L749.67 226.83 L750.17 226.85 L750.68 226.87 L751.18 226.89 L751.68 226.91 L752.18 226.93 L752.68 226.95 L753.18 226.97 L753.68 226.99 L754.18 227.01 L754.68 227.03 L755.18 227.05 L755.68 227.07 L756.18 227.08 L756.68 227.10 L757.18 227.12 L757.68 227.14 L758.18 227.16 L758.68 227.17 L759.18 227.19 L759.68 227.21 L760.18 227.22 L760.68 227.24 L761.18 227.26 L761.68 227.27 L762.18 227.29 L762.68 227.30 L763.18 227.32 L763.68 227.33 L764.18 227.35 L764.68 227.36 L765.19 227.38 L765.69 227.39 L766.19 227.41 L766.69 227.42 L767.19 227.43 L767.69 227.44 L768.19 227.46 L768.69 227.47 L769.19 227.48 L769.69 227.49 L770.19 227.50 L770.69 227.51 L771.19 227.53 L771.69 227.54 L772.19 227.55 L772.69 227.56 L773.19 227.57 L773.69 227.58 L774.19 227.58 L774.69 227.59 L775.19 227.60 L775.69 227.61 L776.19 227.62 L776.69 227.62 L777.19 227.63 L777.69 227.64 L778.19 227.64 L778.69 227.65 L779.19 227.66 L779.70 227.66 L780.20 227.67 L780.70 227.67 L781.20 227.67 L781.70 227.68 L782.20 227.68 L782.70 227.68 L783.20 227.69 L783.70 227.69 L784.20 227.69 L784.70 227.69 L785.20 227.70 L785.70 227.70 L786.20 227.70 L786.70 227.70" fill="none" stroke="#B177DE" stroke-width="1.8" stroke-linejoin="round"/>
<path d="M496.00 228.60 L496.50 228.60 L497.00 228.60 L497.50 228.60 L498.00 228.60 L498.50 228.60 L499.00 228.60 L499.50 228.60 L500.00 228.60 L500.50 228.60 L501.00 228.60 L501.50 228.60 L502.00 228.60 L502.50 228.60 L503.00 228.60 L503.51 228.60 L504.01 228.60 L504.51 228.60 L505.01 228.60 L505.51 228.60 L506.01 228.60 L506.51 228.60 L507.01 228.60 L507.51 228.60 L508.01 228.60 L508.51 228.60 L509.01 228.60 L509.51 228.60 L510.01 228.60 L510.51 228.60 L511.01 228.60 L511.51 228.60 L512.01 228.60 L512.51 228.60 L513.01 228.60 L513.51 228.60 L514.01 228.60 L514.51 228.59 L515.01 228.59 L515.51 228.59 L516.01 228.59 L516.51 228.59 L517.01 228.59 L517.51 228.59 L518.02 228.59 L518.52 228.59 L519.02 228.59 L519.52 228.59 L520.02 228.59 L520.52 228.59 L521.02 228.59 L521.52 228.59 L522.02 228.59 L522.52 228.59 L523.02 228.59 L523.52 228.59 L524.02 228.59 L524.52 228.59 L525.02 228.59 L525.52 228.59 L526.02 228.59 L526.52 228.59 L527.02 228.58 L527.52 228.58 L528.02 228.58 L528.52 228.58 L529.02 228.58 L529.52 228.58 L530.02 228.58 L530.52 228.58 L531.02 228.58 L531.52 228.58 L532.02 228.58 L532.53 228.58 L533.03 228.58 L533.53 228.58 L534.03 228.58 L534.53 228.57 L535.03 228.57 L535.53 228.57 L536.03 228.57 L536.53 228.57 L537.03 228.57 L537.53 228.57 L538.03 228.57 L538.53 228.57 L539.03 228.57 L539.53 228.57 L540.03 228.57 L540.53 228.57 L541.03 228.56 L541.53 228.56 L542.03 228.56 L542.53 228.56 L543.03 228.56 L543.53 228.56 L544.03 228.56 L544.53 228.56 L545.03 228.56 L545.53 228.56 L546.03 228.55 L546.53 228.55 L547.04 228.55 L547.54 228.55 L548.04 228.55 L548.54 228.55 L549.04 228.55 L549.54 228.55 L550.04 228.55 L550.54 228.54 L551.04 228.54 L551.54 228.54 L552.04 228.54 L552.54 228.54 L553.04 228.54 L553.54 228.54 L554.04 228.54 L554.54 228.54 L555.04 228.53 L555.54 228.53 L556.04 228.53 L556.54 228.53 L557.04 228.53 L557.54 228.53 L558.04 228.53 L558.54 228.52 L559.04 228.52 L559.54 228.52 L560.04 228.52 L560.54 228.52 L561.04 228.52 L561.55 228.52 L562.05 228.51 L562.55 228.51 L563.05 228.51 L563.55 228.51 L564.05 228.51 L564.55 228.51 L565.05 228.50 L565.55 228.50 L566.05 228.50 L566.55 228.50 L567.05 228.50 L567.55 228.50 L568.05 228.49 L568.55 228.49 L569.05 228.49 L569.55 228.49 L570.05 228.49 L570.55 228.49 L571.05 228.48 L571.55 228.48 L572.05 228.48 L572.55 228.48 L573.05 228.48 L573.55 228.47 L574.05 228.47 L574.55 228.47 L575.05 228.47 L575.55 228.47 L576.06 228.46 L576.56 228.46 L577.06 228.46 L577.56 228.46 L578.06 228.46 L578.56 228.45 L579.06 228.45 L579.56 228.45 L580.06 228.45 L580.56 228.45 L581.06 228.44 L581.56 228.44 L582.06 228.44 L582.56 228.44 L583.06 228.43 L583.56 228.43 L584.06 228.43 L584.56 228.43 L585.06 228.42 L585.56 228.42 L586.06 228.42 L586.56 228.42 L587.06 228.41 L587.56 228.41 L588.06 228.41 L588.56 228.40 L589.06 228.40 L589.56 228.39 L590.06 228.39 L590.57 228.38 L591.07 228.37 L591.57 228.36 L592.07 228.34 L592.57 228.33 L593.07 228.31 L593.57 228.29 L594.07 228.27 L594.57 228.24 L595.07 228.22 L595.57 228.19 L596.07 228.16 L596.57 228.13 L597.07 228.09 L597.57 228.06 L598.07 228.02 L598.57 227.98 L599.07 227.94 L599.57 227.90 L600.07 227.86 L600.57 227.82 L601.07 227.78 L601.57 227.73 L602.07 227.69 L602.57 227.64 L603.07 227.60 L603.57 227.55 L604.07 227.51 L604.57 227.46 L605.08 227.42 L605.58 227.38 L606.08 227.33 L606.58 227.29 L607.08 227.24 L607.58 227.20 L608.08 227.16 L608.58 227.12 L609.08 227.08 L609.58 227.04 L610.08 227.00 L610.58 226.96 L611.08 226.92 L611.58 226.88 L612.08 226.84 L612.58 226.81 L613.08 226.77 L613.58 226.73 L614.08 226.69 L614.58 226.65 L615.08 226.62 L615.58 226.58 L616.08 226.54 L616.58 226.50 L617.08 226.46 L617.58 226.42 L618.08 226.38 L618.58 226.34 L619.08 226.30 L619.59 226.26 L620.09 226.22 L620.59 226.18 L621.09 226.14 L621.59 226.09 L622.09 226.05 L622.59 226.01 L623.09 225.97 L623.59 225.92 L624.09 225.88 L624.59 225.84 L625.09 225.79 L625.59 225.75 L626.09 225.70 L626.59 225.65 L627.09 225.60 L627.59 225.55 L628.09 225.49 L628.59 225.43 L629.09 225.36 L629.59 225.28 L630.09 225.19 L630.59 225.10 L631.09 224.99 L631.59 224.87 L632.09 224.75 L632.59 224.61 L633.09 224.46 L633.59 224.30 L634.10 224.14 L634.60 223.97 L635.10 223.79 L635.60 223.61 L636.10 223.44 L636.60 223.26 L637.10 223.08 L637.60 222.91 L638.10 222.74 L638.60 222.59 L639.10 222.43 L639.60 222.29 L640.10 222.15 L640.60 222.03 L641.10 221.91 L641.60 221.80 L642.10 221.69 L642.60 221.59 L643.10 221.49 L643.60 221.40 L644.10 221.31 L644.60 221.23 L645.10 221.14 L645.60 221.06 L646.10 220.98 L646.60 220.90 L647.10 220.83 L647.60 220.76 L648.10 220.69 L648.60 220.63 L649.11 220.57 L649.61 220.51 L650.11 220.46 L650.61 220.42 L651.11 220.38 L651.61 220.34 L652.11 220.31 L652.61 220.29 L653.11 220.27 L653.61 220.26 L654.11 220.26 L654.61 220.26 L655.11 220.27 L655.61 220.29 L656.11 220.32 L656.61 220.35 L657.11 220.39 L657.61 220.43 L658.11 220.48 L658.61 220.54 L659.11 220.60 L659.61 220.66 L660.11 220.73 L660.61 220.80 L661.11 220.87 L661.61 220.95 L662.11 221.02 L662.61 221.10 L663.11 221.18 L663.62 221.26 L664.12 221.34 L664.62 221.42 L665.12 221.50 L665.62 221.58 L666.12 221.66 L666.62 221.74 L667.12 221.82 L667.62 221.90 L668.12 221.98 L668.62 222.06 L669.12 222.14 L669.62 222.23 L670.12 222.31 L670.62 222.40 L671.12 222.49 L671.62 222.58 L672.12 222.67 L672.62 222.77 L673.12 222.86 L673.62 222.95 L674.12 223.05 L674.62 223.15 L675.12 223.24 L675.62 223.34 L676.12 223.43 L676.62 223.53 L677.12 223.62 L677.62 223.71 L678.13 223.81 L678.63 223.90 L679.13 223.99 L679.63 224.07 L680.13 224.16 L680.63 224.24 L681.13 224.32 L681.63 224.40 L682.13 224.48 L682.63 224.55 L683.13 224.62 L683.63 224.68 L684.13 224.74 L684.63 224.80 L685.13 224.86 L685.63 224.91 L686.13 224.96 L686.63 225.01 L687.13 225.05 L687.63 225.09 L688.13 225.13 L688.63 225.17 L689.13 225.21 L689.63 225.24 L690.13 225.28 L690.63 225.31 L691.13 225.34 L691.63 225.37 L692.13 225.40 L692.64 225.43 L693.14 225.46 L693.64 225.49 L694.14 225.51 L694.64 225.54 L695.14 225.57 L695.64 225.59 L696.14 225.62 L696.64 225.64 L697.14 225.67 L697.64 225.69 L698.14 225.71 L698.64 225.74 L699.14 225.76 L699.64 225.78 L700.14 225.81 L700.64 225.83 L701.14 225.85 L701.64 225.87 L702.14 225.90 L702.64 225.92 L703.14 225.94 L703.64 225.96 L704.14 225.98 L704.64 226.00 L705.14 226.03 L705.64 226.05 L706.14 226.07 L706.64 226.09 L707.15 226.11 L707.65 226.13 L708.15 226.15 L708.65 226.17 L709.15 226.19 L709.65 226.21 L710.15 226.23 L710.65 226.25 L711.15 226.27 L711.65 226.29 L712.15 226.31 L712.65 226.33 L713.15 226.35 L713.65 226.37 L714.15 226.39 L714.65 226.40 L715.15 226.42 L715.65 226.44 L716.15 226.46 L716.65 226.48 L717.15 226.49 L717.65 226.51 L718.15 226.53 L718.65 226.55 L719.15 226.56 L719.65 226.58 L720.15 226.60 L720.65 226.61 L721.15 226.63 L721.66 226.65 L722.16 226.66 L722.66 226.68 L723.16 226.70 L723.66 226.71 L724.16 226.73 L724.66 226.74 L725.16 226.76 L725.66 226.77 L726.16 226.79 L726.66 226.80 L727.16 226.82 L727.66 226.83 L728.16 226.85 L728.66 226.86 L729.16 226.88 L729.66 226.89 L730.16 226.90 L730.66 226.92 L731.16 226.93 L731.66 226.94 L732.16 226.96 L732.66 226.97 L733.16 226.98 L733.66 227.00 L734.16 227.01 L734.66 227.02 L735.16 227.03 L735.66 227.05 L736.17 227.06 L736.67 227.07 L737.17 227.08 L737.67 227.10 L738.17 227.11 L738.67 227.12 L739.17 227.13 L739.67 227.15 L740.17 227.16 L740.67 227.17 L741.17 227.18 L741.67 227.19 L742.17 227.21 L742.67 227.22 L743.17 227.23 L743.67 227.24 L744.17 227.25 L744.67 227.27 L745.17 227.28 L745.67 227.29 L746.17 227.30 L746.67 227.31 L747.17 227.33 L747.67 227.34 L748.17 227.35 L748.67 227.36 L749.17 227.37 L749.67 227.38 L750.17 227.39 L750.68 227.41 L751.18 227.42 L751.68 227.43 L752.18 227.44 L752.68 227.45 L753.18 227.46 L753.68 227.47 L754.18 227.48 L754.68 227.49 L755.18 227.50 L755.68 227.51 L756.18 227.52 L756.68 227.54 L757.18 227.55 L757.68 227.56 L758.18 227.57 L758.68 227.58 L759.18 227.59 L759.68 227.60 L760.18 227.61 L760.68 227.62 L761.18 227.63 L761.68 227.64 L762.18 227.65 L762.68 227.66 L763.18 227.67 L763.68 227.67 L764.18 227.68 L764.68 227.69 L765.19 227.70 L765.69 227.71 L766.19 227.72 L766.69 227.73 L767.19 227.74 L767.69 227.75 L768.19 227.76 L768.69 227.76 L769.19 227.77 L769.69 227.78 L770.19 227.79 L770.69 227.80 L771.19 227.80 L771.69 227.81 L772.19 227.82 L772.69 227.83 L773.19 227.84 L773.69 227.84 L774.19 227.85 L774.69 227.86 L775.19 227.87 L775.69 227.87 L776.19 227.88 L776.69 227.89 L777.19 227.89 L777.69 227.90 L778.19 227.91 L778.69 227.91 L779.19 227.92 L779.70 227.93 L780.20 227.93 L780.70 227.94 L781.20 227.94 L781.70 227.95 L782.20 227.95 L782.70 227.96 L783.20 227.97 L783.70 227.97 L784.20 227.98 L784.70 227.98 L785.20 227.99 L785.70 227.99 L786.20 228.00 L786.70 228.00" fill="none" stroke="#CC9900" stroke-width="1.8" stroke-linejoin="round"/>
<path d="M496.00 228.60 L496.50 228.60 L497.00 228.60 L497.50 228.60 L498.00 228.60 L498.50 228.60 L499.00 228.60 L499.50 228.60 L500.00 228.60 L500.50 228.60 L501.00 228.60 L501.50 228.60 L502.00 228.60 L502.50 228.60 L503.00 228.60 L503.51 228.60 L504.01 228.60 L504.51 228.60 L505.01 228.60 L505.51 228.60 L506.01 228.60 L506.51 228.60 L507.01 228.60 L507.51 228.60 L508.01 228.60 L508.51 228.60 L509.01 228.60 L509.51 228.60 L510.01 228.60 L510.51 228.60 L511.01 228.60 L511.51 228.60 L512.01 228.60 L512.51 228.60 L513.01 228.60 L513.51 228.60 L514.01 228.60 L514.51 228.60 L515.01 228.60 L515.51 228.60 L516.01 228.59 L516.51 228.59 L517.01 228.59 L517.51 228.59 L518.02 228.59 L518.52 228.59 L519.02 228.59 L519.52 228.59 L520.02 228.59 L520.52 228.59 L521.02 228.59 L521.52 228.59 L522.02 228.59 L522.52 228.59 L523.02 228.59 L523.52 228.59 L524.02 228.59 L524.52 228.59 L525.02 228.59 L525.52 228.59 L526.02 228.59 L526.52 228.59 L527.02 228.59 L527.52 228.59 L528.02 228.59 L528.52 228.59 L529.02 228.59 L529.52 228.58 L530.02 228.58 L530.52 228.58 L531.02 228.58 L531.52 228.58 L532.02 228.58 L532.53 228.58 L533.03 228.58 L533.53 228.58 L534.03 228.58 L534.53 228.58 L535.03 228.58 L535.53 228.58 L536.03 228.58 L536.53 228.58 L537.03 228.58 L537.53 228.58 L538.03 228.58 L538.53 228.57 L539.03 228.57 L539.53 228.57 L540.03 228.57 L540.53 228.57 L541.03 228.57 L541.53 228.57 L542.03 228.57 L542.53 228.57 L543.03 228.57 L543.53 228.57 L544.03 228.57 L544.53 228.57 L545.03 228.56 L545.53 228.56 L546.03 228.56 L546.53 228.56 L547.04 228.56 L547.54 228.56 L548.04 228.56 L548.54 228.56 L549.04 228.56 L549.54 228.56 L550.04 228.56 L550.54 228.56 L551.04 228.55 L551.54 228.55 L552.04 228.55 L552.54 228.55 L553.04 228.55 L553.54 228.55 L554.04 228.55 L554.54 228.55 L555.04 228.55 L555.54 228.55 L556.04 228.54 L556.54 228.54 L557.04 228.54 L557.54 228.54 L558.04 228.54 L558.54 228.54 L559.04 228.54 L559.54 228.54 L560.04 228.54 L560.54 228.53 L561.04 228.53 L561.55 228.53 L562.05 228.53 L562.55 228.53 L563.05 228.53 L563.55 228.53 L564.05 228.53 L564.55 228.52 L565.05 228.52 L565.55 228.52 L566.05 228.52 L566.55 228.52 L567.05 228.52 L567.55 228.52 L568.05 228.52 L568.55 228.51 L569.05 228.51 L569.55 228.51 L570.05 228.51 L570.55 228.51 L571.05 228.51 L571.55 228.51 L572.05 228.50 L572.55 228.50 L573.05 228.50 L573.55 228.50 L574.05 228.50 L574.55 228.50 L575.05 228.50 L575.55 228.49 L576.06 228.49 L576.56 228.49 L577.06 228.49 L577.56 228.49 L578.06 228.49 L578.56 228.48 L579.06 228.48 L579.56 228.48 L580.06 228.48 L580.56 228.48 L581.06 228.48 L581.56 228.47 L582.06 228.47 L582.56 228.47 L583.06 228.47 L583.56 228.47 L584.06 228.47 L584.56 228.46 L585.06 228.46 L585.56 228.46 L586.06 228.46 L586.56 228.46 L587.06 228.45 L587.56 228.45 L588.06 228.45 L588.56 228.45 L589.06 228.45 L589.56 228.44 L590.06 228.44 L590.57 228.44 L591.07 228.44 L591.57 228.44 L592.07 228.43 L592.57 228.43 L593.07 228.43 L593.57 228.43 L594.07 228.43 L594.57 228.42 L595.07 228.42 L595.57 228.42 L596.07 228.42 L596.57 228.42 L597.07 228.41 L597.57 228.41 L598.07 228.41 L598.57 228.40 L599.07 228.40 L599.57 228.40 L600.07 228.39 L600.57 228.38 L601.07 228.38 L601.57 228.37 L602.07 228.36 L602.57 228.35 L603.07 228.33 L603.57 228.32 L604.07 228.30 L604.57 228.28 L605.08 228.26 L605.58 228.24 L606.08 228.22 L606.58 228.19 L607.08 228.17 L607.58 228.14 L608.08 228.11 L608.58 228.08 L609.08 228.05 L609.58 228.02 L610.08 227.98 L610.58 227.95 L611.08 227.91 L611.58 227.88 L612.08 227.84 L612.58 227.80 L613.08 227.76 L613.58 227.72 L614.08 227.69 L614.58 227.65 L615.08 227.60 L615.58 227.56 L616.08 227.52 L616.58 227.48 L617.08 227.44 L617.58 227.40 L618.08 227.36 L618.58 227.32 L619.08 227.27 L619.59 227.23 L620.09 227.19 L620.59 227.15 L621.09 227.11 L621.59 227.07 L622.09 227.03 L622.59 226.99 L623.09 226.95 L623.59 226.91 L624.09 226.87 L624.59 226.83 L625.09 226.80 L625.59 226.76 L626.09 226.72 L626.59 226.68 L627.09 226.64 L627.59 226.60 L628.09 226.55 L628.59 226.50 L629.09 226.44 L629.59 226.38 L630.09 226.31 L630.59 226.23 L631.09 226.14 L631.59 226.05 L632.09 225.94 L632.59 225.82 L633.09 225.70 L633.59 225.57 L634.10 225.43 L634.60 225.28 L635.10 225.14 L635.60 224.98 L636.10 224.83 L636.60 224.68 L637.10 224.53 L637.60 224.38 L638.10 224.24 L638.60 224.10 L639.10 223.96 L639.60 223.83 L640.10 223.71 L640.60 223.60 L641.10 223.49 L641.60 223.38 L642.10 223.29 L642.60 223.19 L643.10 223.10 L643.60 223.01 L644.10 222.92 L644.60 222.84 L645.10 222.76 L645.60 222.67 L646.10 222.59 L646.60 222.52 L647.10 222.44 L647.60 222.37 L648.10 222.30 L648.60 222.24 L649.11 222.18 L649.61 222.12 L650.11 222.07 L650.61 222.02 L651.11 221.98 L651.61 221.95 L652.11 221.92 L652.61 221.89 L653.11 221.87 L653.61 221.86 L654.11 221.86 L654.61 221.87 L655.11 221.88 L655.61 221.89 L656.11 221.92 L656.61 221.95 L657.11 221.99 L657.61 222.04 L658.11 222.09 L658.61 222.14 L659.11 222.20 L659.61 222.27 L660.11 222.33 L660.61 222.41 L661.11 222.48 L661.61 222.56 L662.11 222.63 L662.61 222.71 L663.11 222.79 L663.62 222.87 L664.12 222.95 L664.62 223.03 L665.12 223.11 L665.62 223.19 L666.12 223.26 L666.62 223.34 L667.12 223.42 L667.62 223.50 L668.12 223.57 L668.62 223.65 L669.12 223.73 L669.62 223.82 L670.12 223.90 L670.62 223.99 L671.12 224.07 L671.62 224.16 L672.12 224.25 L672.62 224.34 L673.12 224.43 L673.62 224.53 L674.12 224.62 L674.62 224.71 L675.12 224.80 L675.62 224.89 L676.12 224.98 L676.62 225.07 L677.12 225.16 L677.62 225.25 L678.13 225.33 L678.63 225.42 L679.13 225.50 L679.63 225.58 L680.13 225.65 L680.63 225.72 L681.13 225.79 L681.63 225.86 L682.13 225.92 L682.63 225.98 L683.13 226.03 L683.63 226.08 L684.13 226.13 L684.63 226.17 L685.13 226.20 L685.63 226.24 L686.13 226.26 L686.63 226.29 L687.13 226.31 L687.63 226.33 L688.13 226.35 L688.63 226.37 L689.13 226.38 L689.63 226.40 L690.13 226.41 L690.63 226.42 L691.13 226.43 L691.63 226.45 L692.13 226.46 L692.64 226.47 L693.14 226.48 L693.64 226.49 L694.14 226.50 L694.64 226.50 L695.14 226.51 L695.64 226.52 L696.14 226.53 L696.64 226.54 L697.14 226.55 L697.64 226.56 L698.14 226.57 L698.64 226.58 L699.14 226.58 L699.64 226.59 L700.14 226.60 L700.64 226.61 L701.14 226.62 L701.64 226.63 L702.14 226.64 L702.64 226.65 L703.14 226.66 L703.64 226.67 L704.14 226.68 L704.64 226.69 L705.14 226.70 L705.64 226.71 L706.14 226.72 L706.64 226.73 L707.15 226.74 L707.65 226.75 L708.15 226.76 L708.65 226.77 L709.15 226.77 L709.65 226.78 L710.15 226.79 L710.65 226.80 L711.15 226.81 L711.65 226.82 L712.15 226.83 L712.65 226.84 L713.15 226.85 L713.65 226.86 L714.15 226.87 L714.65 226.87 L715.15 226.88 L715.65 226.89 L716.15 226.90 L716.65 226.91 L717.15 226.92 L717.65 226.93 L718.15 226.94 L718.65 226.95 L719.15 226.95 L719.65 226.96 L720.15 226.97 L720.65 226.98 L721.15 226.99 L721.66 227.00 L722.16 227.01 L722.66 227.01 L723.16 227.02 L723.66 227.03 L724.16 227.04 L724.66 227.05 L725.16 227.06 L725.66 227.06 L726.16 227.07 L726.66 227.08 L727.16 227.09 L727.66 227.10 L728.16 227.11 L728.66 227.11 L729.16 227.12 L729.66 227.13 L730.16 227.14 L730.66 227.15 L731.16 227.16 L731.66 227.16 L732.16 227.17 L732.66 227.18 L733.16 227.19 L733.66 227.20 L734.16 227.21 L734.66 227.21 L735.16 227.22 L735.66 227.23 L736.17 227.24 L736.67 227.25 L737.17 227.25 L737.67 227.26 L738.17 227.27 L738.67 227.28 L739.17 227.29 L739.67 227.30 L740.17 227.30 L740.67 227.31 L741.17 227.32 L741.67 227.33 L742.17 227.34 L742.67 227.34 L743.17 227.35 L743.67 227.36 L744.17 227.37 L744.67 227.38 L745.17 227.38 L745.67 227.39 L746.17 227.40 L746.67 227.41 L747.17 227.42 L747.67 227.42 L748.17 227.43 L748.67 227.44 L749.17 227.45 L749.67 227.46 L750.17 227.46 L750.68 227.47 L751.18 227.48 L751.68 227.49 L752.18 227.49 L752.68 227.50 L753.18 227.51 L753.68 227.52 L754.18 227.53 L754.68 227.53 L755.18 227.54 L755.68 227.55 L756.18 227.56 L756.68 227.56 L757.18 227.57 L757.68 227.58 L758.18 227.59 L758.68 227.60 L759.18 227.60 L759.68 227.61 L760.18 227.62 L760.68 227.63 L761.18 227.63 L761.68 227.64 L762.18 227.65 L762.68 227.66 L763.18 227.66 L763.68 227.67 L764.18 227.68 L764.68 227.69 L765.19 227.69 L765.69 227.70 L766.19 227.71 L766.69 227.72 L767.19 227.72 L767.69 227.73 L768.19 227.74 L768.69 227.75 L769.19 227.75 L769.69 227.76 L770.19 227.77 L770.69 227.77 L771.19 227.78 L771.69 227.79 L772.19 227.80 L772.69 227.80 L773.19 227.81 L773.69 227.82 L774.19 227.83 L774.69 227.83 L775.19 227.84 L775.69 227.85 L776.19 227.85 L776.69 227.86 L777.19 227.87 L777.69 227.88 L778.19 227.88 L778.69 227.89 L779.19 227.90 L779.70 227.90 L780.20 227.91 L780.70 227.92 L781.20 227.92 L781.70 227.93 L782.20 227.94 L782.70 227.95 L783.20 227.95 L783.70 227.96 L784.20 227.97 L784.70 227.97 L785.20 227.98 L785.70 227.99 L786.20 227.99 L786.70 228.00" fill="none" stroke="#00CBCC" stroke-width="1.8" stroke-linejoin="round"/>
<path d="M496.00 228.80 L496.50 228.80 L497.00 228.80 L497.50 228.80 L498.00 228.80 L498.50 228.80 L499.00 228.80 L499.50 228.80 L500.00 228.80 L500.50 228.80 L501.00 228.80 L501.50 228.80 L502.00 228.80 L502.50 228.80 L503.00 228.80 L503.51 228.80 L504.01 228.80 L504.51 228.80 L505.01 228.80 L505.51 228.80 L506.01 228.80 L506.51 228.80 L507.01 228.80 L507.51 228.80 L508.01 228.80 L508.51 228.80 L509.01 228.80 L509.51 228.80 L510.01 228.80 L510.51 228.80 L511.01 228.80 L511.51 228.80 L512.01 228.80 L512.51 228.80 L513.01 228.80 L513.51 228.80 L514.01 228.80 L514.51 228.80 L515.01 228.80 L515.51 228.80 L516.01 228.80 L516.51 228.80 L517.01 228.80 L517.51 228.80 L518.02 228.80 L518.52 228.80 L519.02 228.80 L519.52 228.80 L520.02 228.80 L520.52 228.80 L521.02 228.80 L521.52 228.80 L522.02 228.80 L522.52 228.80 L523.02 228.80 L523.52 228.80 L524.02 228.80 L524.52 228.80 L525.02 228.80 L525.52 228.80 L526.02 228.80 L526.52 228.80 L527.02 228.80 L527.52 228.80 L528.02 228.80 L528.52 228.80 L529.02 228.80 L529.52 228.80 L530.02 228.80 L530.52 228.80 L531.02 228.80 L531.52 228.80 L532.02 228.80 L532.53 228.80 L533.03 228.80 L533.53 228.80 L534.03 228.80 L534.53 228.80 L535.03 228.80 L535.53 228.80 L536.03 228.80 L536.53 228.80 L537.03 228.80 L537.53 228.80 L538.03 228.80 L538.53 228.80 L539.03 228.80 L539.53 228.80 L540.03 228.80 L540.53 228.80 L541.03 228.80 L541.53 228.80 L542.03 228.80 L542.53 228.80 L543.03 228.80 L543.53 228.80 L544.03 228.80 L544.53 228.80 L545.03 228.80 L545.53 228.80 L546.03 228.80 L546.53 228.80 L547.04 228.80 L547.54 228.80 L548.04 228.80 L548.54 228.80 L549.04 228.80 L549.54 228.80 L550.04 228.80 L550.54 228.80 L551.04 228.80 L551.54 228.80 L552.04 228.80 L552.54 228.80 L553.04 228.80 L553.54 228.80 L554.04 228.80 L554.54 228.80 L555.04 228.80 L555.54 228.80 L556.04 228.80 L556.54 228.80 L557.04 228.80 L557.54 228.80 L558.04 228.80 L558.54 228.80 L559.04 228.80 L559.54 228.80 L560.04 228.80 L560.54 228.80 L561.04 228.80 L561.55 228.80 L562.05 228.80 L562.55 228.80 L563.05 228.80 L563.55 228.80 L564.05 228.80 L564.55 228.80 L565.05 228.80 L565.55 228.80 L566.05 228.80 L566.55 228.80 L567.05 228.80 L567.55 228.80 L568.05 228.80 L568.55 228.80 L569.05 228.80 L569.55 228.80 L570.05 228.80 L570.55 228.80 L571.05 228.80 L571.55 228.80 L572.05 228.80 L572.55 228.80 L573.05 228.80 L573.55 228.80 L574.05 228.80 L574.55 228.80 L575.05 228.80 L575.55 228.80 L576.06 228.80 L576.56 228.80 L577.06 228.80 L577.56 228.80 L578.06 228.80 L578.56 228.80 L579.06 228.80 L579.56 228.80 L580.06 228.80 L580.56 228.80 L581.06 228.80 L581.56 228.80 L582.06 228.80 L582.56 228.80 L583.06 228.80 L583.56 228.80 L584.06 228.80 L584.56 228.80 L585.06 228.80 L585.56 228.80 L586.06 228.80 L586.56 228.80 L587.06 228.80 L587.56 228.80 L588.06 228.80 L588.56 228.80 L589.06 228.80 L589.56 228.80 L590.06 228.80 L590.57 228.80 L591.07 228.80 L591.57 228.80 L592.07 228.80 L592.57 228.80 L593.07 228.80 L593.57 228.80 L594.07 228.80 L594.57 228.80 L595.07 228.80 L595.57 228.80 L596.07 228.80 L596.57 228.80 L597.07 228.80 L597.57 228.80 L598.07 228.80 L598.57 228.80 L599.07 228.80 L599.57 228.80 L600.07 228.80 L600.57 228.80 L601.07 228.80 L601.57 228.80 L602.07 228.80 L602.57 228.80 L603.07 228.80 L603.57 228.80 L604.07 228.80 L604.57 228.80 L605.08 228.80 L605.58 228.80 L606.08 228.80 L606.58 228.80 L607.08 228.80 L607.58 228.80 L608.08 228.80 L608.58 228.80 L609.08 228.80 L609.58 228.80 L610.08 228.80 L610.58 228.80 L611.08 228.80 L611.58 228.80 L612.08 228.80 L612.58 228.80 L613.08 228.80 L613.58 228.80 L614.08 228.80 L614.58 228.80 L615.08 228.80 L615.58 228.80 L616.08 228.80 L616.58 228.80 L617.08 228.80 L617.58 228.80 L618.08 228.80 L618.58 228.80 L619.08 228.80 L619.59 228.80 L620.09 228.80 L620.59 228.80 L621.09 228.80 L621.59 228.80 L622.09 228.80 L622.59 228.80 L623.09 228.80 L623.59 228.80 L624.09 228.80 L624.59 228.79 L625.09 228.79 L625.59 228.79 L626.09 228.78 L626.59 228.77 L627.09 228.76 L627.59 228.75 L628.09 228.74 L628.59 228.73 L629.09 228.72 L629.59 228.70 L630.09 228.68 L630.59 228.66 L631.09 228.64 L631.59 228.61 L632.09 228.59 L632.59 228.56 L633.09 228.53 L633.59 228.49 L634.10 228.46 L634.60 228.42 L635.10 228.38 L635.60 228.33 L636.10 228.29 L636.60 228.25 L637.10 228.20 L637.60 228.15 L638.10 228.11 L638.60 228.06 L639.10 228.01 L639.60 227.96 L640.10 227.91 L640.60 227.87 L641.10 227.82 L641.60 227.77 L642.10 227.73 L642.60 227.68 L643.10 227.64 L643.60 227.60 L644.10 227.56 L644.60 227.52 L645.10 227.48 L645.60 227.44 L646.10 227.41 L646.60 227.37 L647.10 227.34 L647.60 227.30 L648.10 227.27 L648.60 227.24 L649.11 227.20 L649.61 227.17 L650.11 227.14 L650.61 227.10 L651.11 227.07 L651.61 227.04 L652.11 227.01 L652.61 226.98 L653.11 226.95 L653.61 226.92 L654.11 226.89 L654.61 226.86 L655.11 226.83 L655.61 226.80 L656.11 226.78 L656.61 226.76 L657.11 226.73 L657.61 226.71 L658.11 226.70 L658.61 226.68 L659.11 226.66 L659.61 226.65 L660.11 226.64 L660.61 226.63 L661.11 226.62 L661.61 226.62 L662.11 226.62 L662.61 226.61 L663.11 226.62 L663.62 226.62 L664.12 226.62 L664.62 226.63 L665.12 226.63 L665.62 226.64 L666.12 226.65 L666.62 226.66 L667.12 226.67 L667.62 226.69 L668.12 226.70 L668.62 226.71 L669.12 226.73 L669.62 226.75 L670.12 226.76 L670.62 226.78 L671.12 226.80 L671.62 226.82 L672.12 226.84 L672.62 226.86 L673.12 226.88 L673.62 226.90 L674.12 226.92 L674.62 226.94 L675.12 226.96 L675.62 226.98 L676.12 227.01 L676.62 227.03 L677.12 227.05 L677.62 227.07 L678.13 227.09 L678.63 227.11 L679.13 227.14 L679.63 227.16 L680.13 227.18 L680.63 227.20 L681.13 227.22 L681.63 227.24 L682.13 227.26 L682.63 227.28 L683.13 227.29 L683.63 227.31 L684.13 227.33 L684.63 227.35 L685.13 227.36 L685.63 227.38 L686.13 227.39 L686.63 227.41 L687.13 227.42 L687.63 227.43 L688.13 227.44 L688.63 227.46 L689.13 227.47 L689.63 227.48 L690.13 227.49 L690.63 227.51 L691.13 227.52 L691.63 227.53 L692.13 227.54 L692.64 227.55 L693.14 227.56 L693.64 227.57 L694.14 227.58 L694.64 227.59 L695.14 227.60 L695.64 227.62 L696.14 227.63 L696.64 227.64 L697.14 227.65 L697.64 227.65 L698.14 227.66 L698.64 227.67 L699.14 227.68 L699.64 227.69 L700.14 227.70 L700.64 227.71 L701.14 227.72 L701.64 227.73 L702.14 227.74 L702.64 227.75 L703.14 227.76 L703.64 227.77 L704.14 227.77 L704.64 227.78 L705.14 227.79 L705.64 227.80 L706.14 227.81 L706.64 227.82 L707.15 227.83 L707.65 227.84 L708.15 227.84 L708.65 227.85 L709.15 227.86 L709.65 227.87 L710.15 227.88 L710.65 227.89 L711.15 227.90 L711.65 227.91 L712.15 227.92 L712.65 227.92 L713.15 227.93 L713.65 227.94 L714.15 227.95 L714.65 227.96 L715.15 227.97 L715.65 227.98 L716.15 227.98 L716.65 227.99 L717.15 228.00 L717.65 228.01 L718.15 228.02 L718.65 228.03 L719.15 228.04 L719.65 228.04 L720.15 228.05 L720.65 228.06 L721.15 228.07 L721.66 228.08 L722.16 228.09 L722.66 228.09 L723.16 228.10 L723.66 228.11 L724.16 228.12 L724.66 228.13 L725.16 228.14 L725.66 228.14 L726.16 228.15 L726.66 228.16 L727.16 228.17 L727.66 228.18 L728.16 228.19 L728.66 228.19 L729.16 228.20 L729.66 228.21 L730.16 228.22 L730.66 228.23 L731.16 228.23 L731.66 228.24 L732.16 228.25 L732.66 228.26 L733.16 228.27 L733.66 228.27 L734.16 228.28 L734.66 228.29 L735.16 228.30 L735.66 228.30 L736.17 228.31 L736.67 228.32 L737.17 228.33 L737.67 228.33 L738.17 228.34 L738.67 228.35 L739.17 228.36 L739.67 228.37 L740.17 228.37 L740.67 228.38 L741.17 228.39 L741.67 228.39 L742.17 228.40 L742.67 228.41 L743.17 228.42 L743.67 228.42 L744.17 228.43 L744.67 228.44 L745.17 228.45 L745.67 228.45 L746.17 228.46 L746.67 228.47 L747.17 228.47 L747.67 228.48 L748.17 228.49 L748.67 228.50 L749.17 228.50 L749.67 228.51 L750.17 228.52 L750.68 228.52 L751.18 228.53 L751.68 228.54 L752.18 228.54 L752.68 228.55 L753.18 228.56 L753.68 228.56 L754.18 228.57 L754.68 228.58 L755.18 228.58 L755.68 228.59 L756.18 228.59 L756.68 228.60 L757.18 228.61 L757.68 228.61 L758.18 228.62 L758.68 228.63 L759.18 228.63 L759.68 228.64 L760.18 228.64 L760.68 228.65 L761.18 228.66 L761.68 228.66 L762.18 228.67 L762.68 228.67 L763.18 228.68 L763.68 228.69 L764.18 228.69 L764.68 228.70 L765.19 228.70 L765.69 228.71 L766.19 228.71 L766.69 228.72 L767.19 228.73 L767.69 228.73 L768.19 228.74 L768.69 228.74 L769.19 228.75 L769.69 228.75 L770.19 228.76 L770.69 228.76 L771.19 228.77 L771.69 228.77 L772.19 228.78 L772.69 228.78 L773.19 228.79 L773.69 228.79 L774.19 228.80 L774.69 228.80 L775.19 228.81 L775.69 228.81 L776.19 228.82 L776.69 228.82 L777.19 228.82 L777.69 228.83 L778.19 228.83 L778.69 228.84 L779.19 228.84 L779.70 228.85 L780.20 228.85 L780.70 228.85 L781.20 228.86 L781.70 228.86 L782.20 228.87 L782.70 228.87 L783.20 228.87 L783.70 228.88 L784.20 228.88 L784.70 228.89 L785.20 228.89 L785.70 228.89 L786.20 228.90 L786.70 228.90" fill="none" stroke="#7D4E4E" stroke-width="1.8" stroke-linejoin="round"/>
<line x1="495.90" y1="15.00" x2="495.90" y2="254.60" stroke="#4a4a4a" stroke-width="1.6" stroke-linecap="butt"/>
<line x1="495.10" y1="250.60" x2="787.60" y2="250.60" stroke="#111" stroke-width="1.2" stroke-linecap="butt"/>
<line x1="491.30" y1="229.00" x2="495.90" y2="229.00" stroke="#4a4a4a" stroke-width="1.3" stroke-linecap="butt"/>
<line x1="493.90" y1="202.22" x2="495.90" y2="202.22" stroke="#4a4a4a" stroke-width="1.3" stroke-linecap="butt"/>
<line x1="491.30" y1="175.45" x2="495.90" y2="175.45" stroke="#4a4a4a" stroke-width="1.3" stroke-linecap="butt"/>
<line x1="493.90" y1="148.68" x2="495.90" y2="148.68" stroke="#4a4a4a" stroke-width="1.3" stroke-linecap="butt"/>
<line x1="491.30" y1="121.90" x2="495.90" y2="121.90" stroke="#4a4a4a" stroke-width="1.3" stroke-linecap="butt"/>
<line x1="493.90" y1="95.12" x2="495.90" y2="95.12" stroke="#4a4a4a" stroke-width="1.3" stroke-linecap="butt"/>
<line x1="491.30" y1="68.35" x2="495.90" y2="68.35" stroke="#4a4a4a" stroke-width="1.3" stroke-linecap="butt"/>
<line x1="493.90" y1="41.57" x2="495.90" y2="41.57" stroke="#4a4a4a" stroke-width="1.3" stroke-linecap="butt"/>
<line x1="491.30" y1="14.80" x2="495.90" y2="14.80" stroke="#4a4a4a" stroke-width="1.3" stroke-linecap="butt"/>
<line x1="495.90" y1="250.60" x2="495.90" y2="254.60" stroke="#111" stroke-width="1.2" stroke-linecap="butt"/>
<line x1="520.15" y1="250.60" x2="520.15" y2="252.60" stroke="#111" stroke-width="1.2" stroke-linecap="butt"/>
<line x1="544.40" y1="250.60" x2="544.40" y2="254.60" stroke="#111" stroke-width="1.2" stroke-linecap="butt"/>
<line x1="568.65" y1="250.60" x2="568.65" y2="252.60" stroke="#111" stroke-width="1.2" stroke-linecap="butt"/>
<line x1="592.90" y1="250.60" x2="592.90" y2="254.60" stroke="#111" stroke-width="1.2" stroke-linecap="butt"/>
<line x1="617.15" y1="250.60" x2="617.15" y2="252.60" stroke="#111" stroke-width="1.2" stroke-linecap="butt"/>
<line x1="641.40" y1="250.60" x2="641.40" y2="254.60" stroke="#111" stroke-width="1.2" stroke-linecap="butt"/>
<line x1="665.65" y1="250.60" x2="665.65" y2="252.60" stroke="#111" stroke-width="1.2" stroke-linecap="butt"/>
<line x1="689.90" y1="250.60" x2="689.90" y2="254.60" stroke="#111" stroke-width="1.2" stroke-linecap="butt"/>
<line x1="714.15" y1="250.60" x2="714.15" y2="252.60" stroke="#111" stroke-width="1.2" stroke-linecap="butt"/>
<line x1="738.40" y1="250.60" x2="738.40" y2="254.60" stroke="#111" stroke-width="1.2" stroke-linecap="butt"/>
<line x1="762.65" y1="250.60" x2="762.65" y2="252.60" stroke="#111" stroke-width="1.2" stroke-linecap="butt"/>
<line x1="786.90" y1="250.60" x2="786.90" y2="254.60" stroke="#111" stroke-width="1.2" stroke-linecap="butt"/>
<text x="479.68" y="233.90" font-size="16.5" textLength="8.25" lengthAdjust="spacingAndGlyphs" fill="#111">0</text>
<text x="454.93" y="180.35" font-size="16.5" textLength="33.00" lengthAdjust="spacingAndGlyphs" fill="#111">2000</text>
<text x="454.93" y="126.80" font-size="16.5" textLength="33.00" lengthAdjust="spacingAndGlyphs" fill="#111">4000</text>
<text x="454.93" y="73.25" font-size="16.5" textLength="33.00" lengthAdjust="spacingAndGlyphs" fill="#111">6000</text>
<text x="454.93" y="19.70" font-size="16.5" textLength="33.00" lengthAdjust="spacingAndGlyphs" fill="#111">8000</text>
<text x="483.57" y="272.60" font-size="16.5" textLength="25.58" lengthAdjust="spacingAndGlyphs" fill="#111">400</text>
<text x="532.07" y="272.60" font-size="16.5" textLength="25.58" lengthAdjust="spacingAndGlyphs" fill="#111">450</text>
<text x="579.88" y="272.60" font-size="16.5" textLength="26.29" lengthAdjust="spacingAndGlyphs" fill="#111">500</text>
<text x="628.38" y="272.60" font-size="16.5" textLength="26.29" lengthAdjust="spacingAndGlyphs" fill="#111">550</text>
<text x="677.16" y="272.60" font-size="16.5" textLength="26.01" lengthAdjust="spacingAndGlyphs" fill="#111">600</text>
<text x="725.66" y="272.60" font-size="16.5" textLength="26.01" lengthAdjust="spacingAndGlyphs" fill="#111">650</text>
<text x="773.74" y="272.60" font-size="16.5" textLength="26.43" lengthAdjust="spacingAndGlyphs" fill="#111">700</text>
<text x="575.58" y="296.90" font-size="16.5" textLength="102.67" lengthAdjust="spacingAndGlyphs" fill="#111">Wavelength/nm</text>
<text transform="translate(440.50 196.30) rotate(-90)" x="-0.48" y="0" font-size="16.5" textLength="150.24" lengthAdjust="spacingAndGlyphs" fill="#111">Fluorescence Intensity</text>
<text x="398.95" y="11.65" font-size="16" textLength="5.70" lengthAdjust="spacingAndGlyphs" fill="#111">(</text>
<text x="404.09" y="11.65" font-size="16" textLength="9.59" lengthAdjust="spacingAndGlyphs" font-style="italic" fill="#111">b</text>
<text x="412.94" y="11.65" font-size="16" textLength="5.83" lengthAdjust="spacingAndGlyphs" fill="#111">)</text>
<line x1="685.30" y1="32.80" x2="711.30" y2="32.80" stroke="#515151" stroke-width="1.8" stroke-linecap="butt"/>
<text x="714.36" y="39.00" font-size="15.4" textLength="32.86" lengthAdjust="spacingAndGlyphs" fill="#111">0 eq.</text>
<line x1="685.30" y1="51.37" x2="711.30" y2="51.37" stroke="#F14040" stroke-width="1.8" stroke-linecap="butt"/>
<text x="714.36" y="57.27" font-size="15.4" textLength="53.75" lengthAdjust="spacingAndGlyphs" fill="#111">0.10 eq.</text>
<line x1="685.30" y1="69.94" x2="711.30" y2="69.94" stroke="#1A6FDF" stroke-width="1.8" stroke-linecap="butt"/>
<text x="714.36" y="75.54" font-size="15.4" textLength="53.75" lengthAdjust="spacingAndGlyphs" fill="#111">0.25 eq.</text>
<line x1="685.30" y1="88.51" x2="711.30" y2="88.51" stroke="#37AD6B" stroke-width="1.8" stroke-linecap="butt"/>
<text x="714.36" y="93.81" font-size="15.4" textLength="53.75" lengthAdjust="spacingAndGlyphs" fill="#111">0.40 eq.</text>
<line x1="685.30" y1="107.08" x2="711.30" y2="107.08" stroke="#B177DE" stroke-width="1.8" stroke-linecap="butt"/>
<text x="714.36" y="112.08" font-size="15.4" textLength="53.75" lengthAdjust="spacingAndGlyphs" fill="#111">0.50 eq.</text>
<line x1="685.30" y1="125.65" x2="711.30" y2="125.65" stroke="#CC9900" stroke-width="1.8" stroke-linecap="butt"/>
<text x="714.36" y="130.35" font-size="15.4" textLength="53.75" lengthAdjust="spacingAndGlyphs" fill="#111">0.65 eq.</text>
<line x1="685.30" y1="144.22" x2="711.30" y2="144.22" stroke="#00CBCC" stroke-width="1.8" stroke-linecap="butt"/>
<text x="714.36" y="148.62" font-size="15.4" textLength="53.75" lengthAdjust="spacingAndGlyphs" fill="#111">0.75 eq.</text>
<line x1="685.30" y1="162.79" x2="711.30" y2="162.79" stroke="#7D4E4E" stroke-width="1.8" stroke-linecap="butt"/>
<text x="714.36" y="166.89" font-size="15.4" textLength="53.75" lengthAdjust="spacingAndGlyphs" fill="#111">0.90 eq.</text>
<path d="M101.60 547.29 L102.10 547.45 L102.60 547.58 L103.10 547.67 L103.60 547.74 L104.10 547.77 L104.60 547.77 L105.10 547.73 L105.60 547.66 L106.10 547.56 L106.61 547.43 L107.11 547.26 L107.61 547.06 L108.11 546.83 L108.61 546.56 L109.11 546.26 L109.61 545.93 L110.11 545.57 L110.61 545.17 L111.11 544.74 L111.61 544.27 L112.11 543.78 L112.61 543.25 L113.11 542.68 L113.61 542.09 L114.11 541.46 L114.61 540.79 L115.11 540.10 L115.62 539.37 L116.12 538.60 L116.62 537.81 L117.12 536.98 L117.62 536.11 L118.12 535.21 L118.62 534.28 L119.12 533.32 L119.62 532.32 L120.12 531.28 L120.62 530.21 L121.12 529.11 L121.62 527.98 L122.12 526.80 L122.62 525.60 L123.12 524.36 L123.62 523.08 L124.12 521.77 L124.63 520.43 L125.13 519.05 L125.63 517.63 L126.13 516.18 L126.63 514.70 L127.13 513.18 L127.63 511.62 L128.13 510.03 L128.63 508.41 L129.13 506.76 L129.63 505.06 L130.13 503.34 L130.63 501.58 L131.13 499.79 L131.63 497.97 L132.13 496.12 L132.63 494.24 L133.13 492.32 L133.64 490.38 L134.14 488.41 L134.64 486.41 L135.14 484.38 L135.64 482.33 L136.14 480.25 L136.64 478.15 L137.14 476.02 L137.64 473.88 L138.14 471.71 L138.64 469.53 L139.14 467.33 L139.64 465.11 L140.14 462.88 L140.64 460.64 L141.14 458.38 L141.64 456.12 L142.14 453.85 L142.64 451.56 L143.15 449.28 L143.65 446.99 L144.15 444.70 L144.65 442.40 L145.15 440.11 L145.65 437.82 L146.15 435.53 L146.65 433.25 L147.15 430.98 L147.65 428.71 L148.15 426.45 L148.65 424.20 L149.15 421.96 L149.65 419.73 L150.15 417.52 L150.65 415.32 L151.15 413.14 L151.65 410.97 L152.16 408.82 L152.66 406.69 L153.16 404.58 L153.66 402.50 L154.16 400.43 L154.66 398.39 L155.16 396.38 L155.66 394.39 L156.16 392.43 L156.66 390.50 L157.16 388.60 L157.66 386.73 L158.16 384.89 L158.66 383.09 L159.16 381.33 L159.66 379.60 L160.16 377.91 L160.66 376.27 L161.17 374.67 L161.67 373.11 L162.17 371.60 L162.67 370.13 L163.17 368.72 L163.67 367.35 L164.17 366.04 L164.67 364.78 L165.17 363.57 L165.67 362.42 L166.17 361.33 L166.67 360.29 L167.17 359.31 L167.67 358.39 L168.17 357.52 L168.67 356.72 L169.17 355.97 L169.67 355.28 L170.18 354.64 L170.68 354.07 L171.18 353.55 L171.68 353.09 L172.18 352.68 L172.68 352.32 L173.18 352.01 L173.68 351.76 L174.18 351.55 L174.68 351.40 L175.18 351.28 L175.68 351.21 L176.18 351.19 L176.68 351.20 L177.18 351.25 L177.68 351.34 L178.18 351.46 L178.68 351.61 L179.19 351.80 L179.69 352.01 L180.19 352.26 L180.69 352.53 L181.19 352.82 L181.69 353.14 L182.19 353.48 L182.69 353.84 L183.19 354.22 L183.69 354.63 L184.19 355.05 L184.69 355.49 L185.19 355.94 L185.69 356.42 L186.19 356.91 L186.69 357.42 L187.19 357.95 L187.69 358.49 L188.19 359.05 L188.70 359.62 L189.20 360.22 L189.70 360.83 L190.20 361.45 L190.70 362.10 L191.20 362.76 L191.70 363.44 L192.20 364.14 L192.70 364.85 L193.20 365.59 L193.70 366.34 L194.20 367.12 L194.70 367.91 L195.20 368.72 L195.70 369.55 L196.20 370.40 L196.70 371.28 L197.20 372.17 L197.71 373.08 L198.21 374.01 L198.71 374.95 L199.21 375.92 L199.71 376.91 L200.21 377.92 L200.71 378.94 L201.21 379.98 L201.71 381.05 L202.21 382.12 L202.71 383.22 L203.21 384.33 L203.71 385.46 L204.21 386.61 L204.71 387.77 L205.21 388.94 L205.71 390.13 L206.21 391.34 L206.72 392.56 L207.22 393.79 L207.72 395.03 L208.22 396.28 L208.72 397.55 L209.22 398.82 L209.72 400.11 L210.22 401.40 L210.72 402.70 L211.22 404.02 L211.72 405.33 L212.22 406.66 L212.72 407.99 L213.22 409.33 L213.72 410.67 L214.22 412.02 L214.72 413.37 L215.22 414.72 L215.73 416.08 L216.23 417.44 L216.73 418.80 L217.23 420.16 L217.73 421.53 L218.23 422.89 L218.73 424.25 L219.23 425.62 L219.73 426.98 L220.23 428.34 L220.73 429.70 L221.23 431.05 L221.73 432.41 L222.23 433.75 L222.73 435.10 L223.23 436.44 L223.73 437.78 L224.23 439.11 L224.73 440.44 L225.24 441.76 L225.74 443.07 L226.24 444.38 L226.74 445.69 L227.24 446.98 L227.74 448.27 L228.24 449.55 L228.74 450.83 L229.24 452.10 L229.74 453.35 L230.24 454.60 L230.74 455.85 L231.24 457.08 L231.74 458.30 L232.24 459.52 L232.74 460.73 L233.24 461.92 L233.74 463.11 L234.25 464.29 L234.75 465.46 L235.25 466.61 L235.75 467.76 L236.25 468.90 L236.75 470.03 L237.25 471.15 L237.75 472.25 L238.25 473.35 L238.75 474.44 L239.25 475.52 L239.75 476.58 L240.25 477.64 L240.75 478.68 L241.25 479.72 L241.75 480.74 L242.25 481.75 L242.75 482.76 L243.26 483.75 L243.76 484.73 L244.26 485.70 L244.76 486.66 L245.26 487.61 L245.76 488.55 L246.26 489.48 L246.76 490.40 L247.26 491.30 L247.76 492.20 L248.26 493.09 L248.76 493.97 L249.26 494.83 L249.76 495.69 L250.26 496.54 L250.76 497.37 L251.26 498.20 L251.76 499.02 L252.27 499.83 L252.77 500.62 L253.27 501.41 L253.77 502.19 L254.27 502.96 L254.77 503.72 L255.27 504.47 L255.77 505.21 L256.27 505.94 L256.77 506.66 L257.27 507.38 L257.77 508.08 L258.27 508.78 L258.77 509.46 L259.27 510.14 L259.77 510.81 L260.27 511.47 L260.77 512.13 L261.27 512.77 L261.78 513.41 L262.28 514.04 L262.78 514.66 L263.28 515.27 L263.78 515.87 L264.28 516.47 L264.78 517.06 L265.28 517.64 L265.78 518.21 L266.28 518.78 L266.78 519.34 L267.28 519.89 L267.78 520.43 L268.28 520.97 L268.78 521.50 L269.28 522.02 L269.78 522.54 L270.28 523.04 L270.79 523.55 L271.29 524.04 L271.79 524.53 L272.29 525.01 L272.79 525.49 L273.29 525.96 L273.79 526.42 L274.29 526.88 L274.79 527.33 L275.29 527.77 L275.79 528.21 L276.29 528.64 L276.79 529.07 L277.29 529.49 L277.79 529.90 L278.29 530.31 L278.79 530.72 L279.29 531.11 L279.80 531.51 L280.30 531.89 L280.80 532.27 L281.30 532.65 L281.80 533.02 L282.30 533.39 L282.80 533.75 L283.30 534.10 L283.80 534.45 L284.30 534.80 L284.80 535.14 L285.30 535.47 L285.80 535.80 L286.30 536.13 L286.80 536.45 L287.30 536.76 L287.80 537.08 L288.30 537.38 L288.81 537.68 L289.31 537.98 L289.81 538.28 L290.31 538.56 L290.81 538.85 L291.31 539.13 L291.81 539.41 L292.31 539.68 L292.81 539.95 L293.31 540.21 L293.81 540.47 L294.31 540.72 L294.81 540.98 L295.31 541.22 L295.81 541.47 L296.31 541.71 L296.81 541.94 L297.31 542.18 L297.81 542.41 L298.32 542.63 L298.82 542.85 L299.32 543.07 L299.82 543.28 L300.32 543.50 L300.82 543.70 L301.32 543.91 L301.82 544.11 L302.32 544.31 L302.82 544.50 L303.32 544.69 L303.82 544.88 L304.32 545.06 L304.82 545.25 L305.32 545.42 L305.82 545.60 L306.32 545.77 L306.82 545.94 L307.33 546.11 L307.83 546.27 L308.33 546.43 L308.83 546.59 L309.33 546.75 L309.83 546.90 L310.33 547.05 L310.83 547.20 L311.33 547.34 L311.83 547.48 L312.33 547.62 L312.83 547.76 L313.33 547.90 L313.83 548.03 L314.33 548.16 L314.83 548.29 L315.33 548.41 L315.83 548.53 L316.34 548.65 L316.84 548.77 L317.34 548.89 L317.84 549.00 L318.34 549.11 L318.84 549.22 L319.34 549.33 L319.84 549.44 L320.34 549.54 L320.84 549.64 L321.34 549.74 L321.84 549.84 L322.34 549.94 L322.84 550.03 L323.34 550.12 L323.84 550.21 L324.34 550.30 L324.84 550.39 L325.35 550.47 L325.85 550.56 L326.35 550.64 L326.85 550.72 L327.35 550.80 L327.85 550.87 L328.35 550.95 L328.85 551.02 L329.35 551.09 L329.85 551.17 L330.35 551.23 L330.85 551.30 L331.35 551.37 L331.85 551.43 L332.35 551.50 L332.85 551.56 L333.35 551.62 L333.85 551.68 L334.36 551.74 L334.86 551.80 L335.36 551.85 L335.86 551.91 L336.36 551.96 L336.86 552.01 L337.36 552.07 L337.86 552.12 L338.36 552.17 L338.86 552.21 L339.36 552.26 L339.86 552.31 L340.36 552.35 L340.86 552.40 L341.36 552.44 L341.86 552.48 L342.36 552.52 L342.86 552.56 L343.36 552.60 L343.87 552.64 L344.37 552.68 L344.87 552.71 L345.37 552.75 L345.87 552.79 L346.37 552.82 L346.87 552.85 L347.37 552.89 L347.87 552.92 L348.37 552.95 L348.87 552.98 L349.37 553.01 L349.87 553.04 L350.37 553.07 L350.87 553.09 L351.37 553.12 L351.87 553.15 L352.37 553.17 L352.88 553.20 L353.38 553.22 L353.88 553.25 L354.38 553.27 L354.88 553.29 L355.38 553.32 L355.88 553.34 L356.38 553.36 L356.88 553.38 L357.38 553.40 L357.88 553.42 L358.38 553.44 L358.88 553.46 L359.38 553.48 L359.88 553.49 L360.38 553.51 L360.88 553.53 L361.38 553.54 L361.89 553.56 L362.39 553.58 L362.89 553.59 L363.39 553.61 L363.89 553.62 L364.39 553.64 L364.89 553.65 L365.39 553.66 L365.89 553.68 L366.39 553.69 L366.89 553.70 L367.39 553.71 L367.89 553.72 L368.39 553.74 L368.89 553.75 L369.39 553.76 L369.89 553.77 L370.39 553.78 L370.90 553.79 L371.40 553.80 L371.90 553.81 L372.40 553.82 L372.90 553.83 L373.40 553.84 L373.90 553.84 L374.40 553.85 L374.90 553.86 L375.40 553.87" fill="none" stroke="#ff0d0d" stroke-width="2.1" stroke-linejoin="round"/>
<path d="M101.60 551.60 L102.10 551.51 L102.60 551.41 L103.10 551.32 L103.60 551.22 L104.10 551.12 L104.60 551.02 L105.10 550.91 L105.60 550.80 L106.10 550.69 L106.61 550.57 L107.11 550.45 L107.61 550.33 L108.11 550.20 L108.61 550.07 L109.11 549.93 L109.61 549.79 L110.11 549.63 L110.61 549.48 L111.11 549.31 L111.61 549.14 L112.11 548.96 L112.61 548.77 L113.11 548.57 L113.61 548.36 L114.11 548.14 L114.61 547.91 L115.11 547.66 L115.62 547.40 L116.12 547.13 L116.62 546.85 L117.12 546.55 L117.62 546.23 L118.12 545.90 L118.62 545.55 L119.12 545.19 L119.62 544.81 L120.12 544.42 L120.62 544.00 L121.12 543.57 L121.62 543.13 L122.12 542.67 L122.62 542.19 L123.12 541.69 L123.62 541.18 L124.12 540.66 L124.63 540.12 L125.13 539.56 L125.63 539.00 L126.13 538.42 L126.63 537.83 L127.13 537.23 L127.63 536.61 L128.13 535.99 L128.63 535.36 L129.13 534.72 L129.63 534.08 L130.13 533.43 L130.63 532.77 L131.13 532.10 L131.63 531.43 L132.13 530.76 L132.63 530.08 L133.13 529.40 L133.64 528.71 L134.14 528.01 L134.64 527.31 L135.14 526.61 L135.64 525.90 L136.14 525.18 L136.64 524.45 L137.14 523.71 L137.64 522.97 L138.14 522.21 L138.64 521.44 L139.14 520.66 L139.64 519.86 L140.14 519.05 L140.64 518.22 L141.14 517.38 L141.64 516.52 L142.14 515.63 L142.64 514.73 L143.15 513.81 L143.65 512.86 L144.15 511.90 L144.65 510.91 L145.15 509.90 L145.65 508.86 L146.15 507.81 L146.65 506.73 L147.15 505.64 L147.65 504.52 L148.15 503.38 L148.65 502.23 L149.15 501.05 L149.65 499.86 L150.15 498.66 L150.65 497.45 L151.15 496.22 L151.65 494.99 L152.16 493.75 L152.66 492.50 L153.16 491.25 L153.66 490.00 L154.16 488.75 L154.66 487.51 L155.16 486.27 L155.66 485.03 L156.16 483.81 L156.66 482.60 L157.16 481.40 L157.66 480.22 L158.16 479.05 L158.66 477.90 L159.16 476.78 L159.66 475.67 L160.16 474.59 L160.66 473.52 L161.17 472.49 L161.67 471.48 L162.17 470.49 L162.67 469.54 L163.17 468.61 L163.67 467.71 L164.17 466.84 L164.67 465.99 L165.17 465.18 L165.67 464.39 L166.17 463.63 L166.67 462.90 L167.17 462.20 L167.67 461.53 L168.17 460.89 L168.67 460.27 L169.17 459.68 L169.67 459.12 L170.18 458.58 L170.68 458.07 L171.18 457.59 L171.68 457.13 L172.18 456.69 L172.68 456.28 L173.18 455.89 L173.68 455.53 L174.18 455.18 L174.68 454.86 L175.18 454.56 L175.68 454.28 L176.18 454.02 L176.68 453.78 L177.18 453.56 L177.68 453.36 L178.18 453.17 L178.68 453.01 L179.19 452.86 L179.69 452.73 L180.19 452.61 L180.69 452.51 L181.19 452.43 L181.69 452.36 L182.19 452.31 L182.69 452.27 L183.19 452.25 L183.69 452.24 L184.19 452.25 L184.69 452.27 L185.19 452.30 L185.69 452.35 L186.19 452.40 L186.69 452.48 L187.19 452.56 L187.69 452.66 L188.19 452.76 L188.70 452.88 L189.20 453.02 L189.70 453.16 L190.20 453.32 L190.70 453.48 L191.20 453.66 L191.70 453.85 L192.20 454.05 L192.70 454.26 L193.20 454.48 L193.70 454.72 L194.20 454.96 L194.70 455.21 L195.20 455.48 L195.70 455.75 L196.20 456.04 L196.70 456.33 L197.20 456.64 L197.71 456.95 L198.21 457.27 L198.71 457.61 L199.21 457.95 L199.71 458.31 L200.21 458.67 L200.71 459.05 L201.21 459.43 L201.71 459.82 L202.21 460.22 L202.71 460.64 L203.21 461.06 L203.71 461.49 L204.21 461.93 L204.71 462.38 L205.21 462.83 L205.71 463.30 L206.21 463.78 L206.72 464.26 L207.22 464.75 L207.72 465.26 L208.22 465.77 L208.72 466.29 L209.22 466.81 L209.72 467.35 L210.22 467.90 L210.72 468.45 L211.22 469.01 L211.72 469.57 L212.22 470.15 L212.72 470.73 L213.22 471.32 L213.72 471.92 L214.22 472.52 L214.72 473.14 L215.22 473.75 L215.73 474.38 L216.23 475.01 L216.73 475.64 L217.23 476.29 L217.73 476.93 L218.23 477.59 L218.73 478.24 L219.23 478.91 L219.73 479.58 L220.23 480.25 L220.73 480.92 L221.23 481.60 L221.73 482.29 L222.23 482.97 L222.73 483.67 L223.23 484.36 L223.73 485.05 L224.23 485.75 L224.73 486.45 L225.24 487.16 L225.74 487.86 L226.24 488.56 L226.74 489.27 L227.24 489.98 L227.74 490.68 L228.24 491.39 L228.74 492.10 L229.24 492.81 L229.74 493.51 L230.24 494.22 L230.74 494.92 L231.24 495.62 L231.74 496.32 L232.24 497.02 L232.74 497.72 L233.24 498.41 L233.74 499.10 L234.25 499.79 L234.75 500.48 L235.25 501.16 L235.75 501.84 L236.25 502.51 L236.75 503.18 L237.25 503.84 L237.75 504.50 L238.25 505.16 L238.75 505.81 L239.25 506.46 L239.75 507.10 L240.25 507.73 L240.75 508.36 L241.25 508.99 L241.75 509.60 L242.25 510.22 L242.75 510.82 L243.26 511.42 L243.76 512.01 L244.26 512.60 L244.76 513.18 L245.26 513.76 L245.76 514.32 L246.26 514.88 L246.76 515.44 L247.26 515.98 L247.76 516.52 L248.26 517.05 L248.76 517.58 L249.26 518.10 L249.76 518.61 L250.26 519.11 L250.76 519.61 L251.26 520.10 L251.76 520.58 L252.27 521.06 L252.77 521.53 L253.27 521.99 L253.77 522.45 L254.27 522.90 L254.77 523.34 L255.27 523.78 L255.77 524.21 L256.27 524.63 L256.77 525.05 L257.27 525.46 L257.77 525.86 L258.27 526.26 L258.77 526.65 L259.27 527.04 L259.77 527.42 L260.27 527.79 L260.77 528.16 L261.27 528.53 L261.78 528.88 L262.28 529.24 L262.78 529.58 L263.28 529.93 L263.78 530.26 L264.28 530.60 L264.78 530.92 L265.28 531.25 L265.78 531.56 L266.28 531.88 L266.78 532.19 L267.28 532.50 L267.78 532.80 L268.28 533.10 L268.78 533.39 L269.28 533.68 L269.78 533.97 L270.28 534.25 L270.79 534.53 L271.29 534.81 L271.79 535.08 L272.29 535.35 L272.79 535.62 L273.29 535.89 L273.79 536.15 L274.29 536.41 L274.79 536.66 L275.29 536.92 L275.79 537.17 L276.29 537.42 L276.79 537.67 L277.29 537.91 L277.79 538.15 L278.29 538.39 L278.79 538.63 L279.29 538.87 L279.80 539.10 L280.30 539.34 L280.80 539.57 L281.30 539.80 L281.80 540.02 L282.30 540.25 L282.80 540.47 L283.30 540.69 L283.80 540.91 L284.30 541.13 L284.80 541.35 L285.30 541.56 L285.80 541.78 L286.30 541.99 L286.80 542.20 L287.30 542.40 L287.80 542.61 L288.30 542.82 L288.81 543.02 L289.31 543.22 L289.81 543.42 L290.31 543.62 L290.81 543.82 L291.31 544.01 L291.81 544.20 L292.31 544.40 L292.81 544.59 L293.31 544.77 L293.81 544.96 L294.31 545.14 L294.81 545.33 L295.31 545.51 L295.81 545.69 L296.31 545.86 L296.81 546.04 L297.31 546.21 L297.81 546.38 L298.32 546.55 L298.82 546.72 L299.32 546.88 L299.82 547.05 L300.32 547.21 L300.82 547.37 L301.32 547.52 L301.82 547.68 L302.32 547.83 L302.82 547.98 L303.32 548.13 L303.82 548.28 L304.32 548.42 L304.82 548.56 L305.32 548.70 L305.82 548.84 L306.32 548.97 L306.82 549.11 L307.33 549.24 L307.83 549.36 L308.33 549.49 L308.83 549.61 L309.33 549.73 L309.83 549.85 L310.33 549.97 L310.83 550.08 L311.33 550.20 L311.83 550.31 L312.33 550.41 L312.83 550.52 L313.33 550.62 L313.83 550.72 L314.33 550.82 L314.83 550.92 L315.33 551.01 L315.83 551.11 L316.34 551.19 L316.84 551.28 L317.34 551.37 L317.84 551.45 L318.34 551.53 L318.84 551.61 L319.34 551.69 L319.84 551.77 L320.34 551.84 L320.84 551.91 L321.34 551.98 L321.84 552.05 L322.34 552.11 L322.84 552.18 L323.34 552.24 L323.84 552.30 L324.34 552.36 L324.84 552.41 L325.35 552.47 L325.85 552.52 L326.35 552.57 L326.85 552.62 L327.35 552.67 L327.85 552.72 L328.35 552.76 L328.85 552.81 L329.35 552.85 L329.85 552.89 L330.35 552.93 L330.85 552.97 L331.35 553.00 L331.85 553.04 L332.35 553.07 L332.85 553.11 L333.35 553.14 L333.85 553.17 L334.36 553.20 L334.86 553.23 L335.36 553.25 L335.86 553.28 L336.36 553.31 L336.86 553.33 L337.36 553.35 L337.86 553.38 L338.36 553.40 L338.86 553.42 L339.36 553.44 L339.86 553.46 L340.36 553.47 L340.86 553.49 L341.36 553.51 L341.86 553.52 L342.36 553.54 L342.86 553.55 L343.36 553.57 L343.87 553.58 L344.37 553.59 L344.87 553.61 L345.37 553.62 L345.87 553.63 L346.37 553.64 L346.87 553.65 L347.37 553.66 L347.87 553.67 L348.37 553.68 L348.87 553.69 L349.37 553.69 L349.87 553.70 L350.37 553.71 L350.87 553.72 L351.37 553.72 L351.87 553.73 L352.37 553.73 L352.88 553.74 L353.38 553.75 L353.88 553.75 L354.38 553.76 L354.88 553.76 L355.38 553.76 L355.88 553.77 L356.38 553.77 L356.88 553.78 L357.38 553.78 L357.88 553.78 L358.38 553.79 L358.88 553.79 L359.38 553.79 L359.88 553.79 L360.38 553.80 L360.88 553.80 L361.38 553.80 L361.89 553.80 L362.39 553.80 L362.89 553.81 L363.39 553.81 L363.89 553.81 L364.39 553.81 L364.89 553.81 L365.39 553.81 L365.89 553.81 L366.39 553.82 L366.89 553.82 L367.39 553.82 L367.89 553.82 L368.39 553.82 L368.89 553.82 L369.39 553.82 L369.89 553.82 L370.39 553.82 L370.90 553.82 L371.40 553.82 L371.90 553.82 L372.40 553.83 L372.90 553.83 L373.40 553.83 L373.90 553.83 L374.40 553.83 L374.90 553.83 L375.40 553.83" fill="none" stroke="#000000" stroke-width="2.1" stroke-linejoin="round"/>
<path d="M101.60 552.19 L102.10 552.13 L102.60 552.08 L103.10 552.01 L103.60 551.95 L104.10 551.88 L104.60 551.82 L105.10 551.74 L105.60 551.67 L106.10 551.59 L106.61 551.51 L107.11 551.43 L107.61 551.34 L108.11 551.25 L108.61 551.16 L109.11 551.06 L109.61 550.96 L110.11 550.85 L110.61 550.74 L111.11 550.63 L111.61 550.51 L112.11 550.39 L112.61 550.26 L113.11 550.12 L113.61 549.99 L114.11 549.84 L114.61 549.69 L115.11 549.54 L115.62 549.37 L116.12 549.20 L116.62 549.03 L117.12 548.85 L117.62 548.66 L118.12 548.46 L118.62 548.26 L119.12 548.05 L119.62 547.82 L120.12 547.60 L120.62 547.36 L121.12 547.11 L121.62 546.85 L122.12 546.59 L122.62 546.31 L123.12 546.03 L123.62 545.73 L124.12 545.42 L124.63 545.10 L125.13 544.77 L125.63 544.43 L126.13 544.08 L126.63 543.71 L127.13 543.33 L127.63 542.94 L128.13 542.53 L128.63 542.12 L129.13 541.69 L129.63 541.25 L130.13 540.79 L130.63 540.32 L131.13 539.84 L131.63 539.35 L132.13 538.84 L132.63 538.32 L133.13 537.79 L133.64 537.25 L134.14 536.70 L134.64 536.14 L135.14 535.56 L135.64 534.98 L136.14 534.40 L136.64 533.80 L137.14 533.20 L137.64 532.59 L138.14 531.97 L138.64 531.35 L139.14 530.72 L139.64 530.09 L140.14 529.46 L140.64 528.82 L141.14 528.18 L141.64 527.54 L142.14 526.89 L142.64 526.24 L143.15 525.58 L143.65 524.91 L144.15 524.23 L144.65 523.55 L145.15 522.86 L145.65 522.15 L146.15 521.43 L146.65 520.69 L147.15 519.93 L147.65 519.15 L148.15 518.36 L148.65 517.53 L149.15 516.69 L149.65 515.82 L150.15 514.92 L150.65 513.99 L151.15 513.04 L151.65 512.06 L152.16 511.06 L152.66 510.03 L153.16 508.98 L153.66 507.90 L154.16 506.82 L154.66 505.71 L155.16 504.60 L155.66 503.48 L156.16 502.36 L156.66 501.23 L157.16 500.11 L157.66 499.00 L158.16 497.90 L158.66 496.82 L159.16 495.76 L159.66 494.71 L160.16 493.70 L160.66 492.70 L161.17 491.74 L161.67 490.81 L162.17 489.90 L162.67 489.03 L163.17 488.18 L163.67 487.37 L164.17 486.59 L164.67 485.83 L165.17 485.10 L165.67 484.40 L166.17 483.73 L166.67 483.07 L167.17 482.44 L167.67 481.84 L168.17 481.25 L168.67 480.68 L169.17 480.13 L169.67 479.60 L170.18 479.09 L170.68 478.60 L171.18 478.12 L171.68 477.67 L172.18 477.23 L172.68 476.81 L173.18 476.42 L173.68 476.04 L174.18 475.69 L174.68 475.36 L175.18 475.05 L175.68 474.76 L176.18 474.50 L176.68 474.26 L177.18 474.04 L177.68 473.85 L178.18 473.69 L178.68 473.55 L179.19 473.43 L179.69 473.33 L180.19 473.26 L180.69 473.20 L181.19 473.17 L181.69 473.16 L182.19 473.17 L182.69 473.19 L183.19 473.24 L183.69 473.30 L184.19 473.37 L184.69 473.46 L185.19 473.56 L185.69 473.68 L186.19 473.80 L186.69 473.94 L187.19 474.08 L187.69 474.24 L188.19 474.40 L188.70 474.57 L189.20 474.75 L189.70 474.93 L190.20 475.12 L190.70 475.32 L191.20 475.52 L191.70 475.73 L192.20 475.94 L192.70 476.15 L193.20 476.37 L193.70 476.59 L194.20 476.82 L194.70 477.05 L195.20 477.28 L195.70 477.52 L196.20 477.76 L196.70 478.01 L197.20 478.25 L197.71 478.51 L198.21 478.76 L198.71 479.02 L199.21 479.28 L199.71 479.55 L200.21 479.82 L200.71 480.10 L201.21 480.38 L201.71 480.67 L202.21 480.96 L202.71 481.26 L203.21 481.56 L203.71 481.86 L204.21 482.17 L204.71 482.49 L205.21 482.82 L205.71 483.14 L206.21 483.48 L206.72 483.82 L207.22 484.17 L207.72 484.52 L208.22 484.88 L208.72 485.25 L209.22 485.62 L209.72 486.00 L210.22 486.39 L210.72 486.79 L211.22 487.19 L211.72 487.59 L212.22 488.01 L212.72 488.43 L213.22 488.86 L213.72 489.29 L214.22 489.73 L214.72 490.18 L215.22 490.63 L215.73 491.09 L216.23 491.56 L216.73 492.03 L217.23 492.51 L217.73 493.00 L218.23 493.49 L218.73 493.98 L219.23 494.49 L219.73 494.99 L220.23 495.50 L220.73 496.02 L221.23 496.54 L221.73 497.07 L222.23 497.60 L222.73 498.13 L223.23 498.67 L223.73 499.21 L224.23 499.75 L224.73 500.30 L225.24 500.85 L225.74 501.40 L226.24 501.95 L226.74 502.51 L227.24 503.06 L227.74 503.62 L228.24 504.18 L228.74 504.74 L229.24 505.30 L229.74 505.87 L230.24 506.43 L230.74 506.99 L231.24 507.55 L231.74 508.11 L232.24 508.67 L232.74 509.22 L233.24 509.78 L233.74 510.33 L234.25 510.88 L234.75 511.43 L235.25 511.98 L235.75 512.52 L236.25 513.06 L236.75 513.60 L237.25 514.14 L237.75 514.67 L238.25 515.19 L238.75 515.72 L239.25 516.24 L239.75 516.75 L240.25 517.26 L240.75 517.77 L241.25 518.27 L241.75 518.76 L242.25 519.25 L242.75 519.74 L243.26 520.22 L243.76 520.69 L244.26 521.16 L244.76 521.63 L245.26 522.08 L245.76 522.54 L246.26 522.98 L246.76 523.42 L247.26 523.86 L247.76 524.29 L248.26 524.71 L248.76 525.13 L249.26 525.54 L249.76 525.94 L250.26 526.34 L250.76 526.74 L251.26 527.12 L251.76 527.51 L252.27 527.88 L252.77 528.25 L253.27 528.62 L253.77 528.98 L254.27 529.33 L254.77 529.68 L255.27 530.02 L255.77 530.36 L256.27 530.69 L256.77 531.02 L257.27 531.34 L257.77 531.65 L258.27 531.97 L258.77 532.27 L259.27 532.57 L259.77 532.87 L260.27 533.17 L260.77 533.46 L261.27 533.74 L261.78 534.02 L262.28 534.30 L262.78 534.57 L263.28 534.84 L263.78 535.11 L264.28 535.37 L264.78 535.63 L265.28 535.88 L265.78 536.14 L266.28 536.39 L266.78 536.63 L267.28 536.88 L267.78 537.12 L268.28 537.36 L268.78 537.59 L269.28 537.83 L269.78 538.06 L270.28 538.29 L270.79 538.52 L271.29 538.74 L271.79 538.96 L272.29 539.19 L272.79 539.41 L273.29 539.63 L273.79 539.84 L274.29 540.06 L274.79 540.27 L275.29 540.48 L275.79 540.70 L276.29 540.90 L276.79 541.11 L277.29 541.32 L277.79 541.53 L278.29 541.73 L278.79 541.93 L279.29 542.14 L279.80 542.34 L280.30 542.54 L280.80 542.74 L281.30 542.94 L281.80 543.13 L282.30 543.33 L282.80 543.52 L283.30 543.71 L283.80 543.91 L284.30 544.10 L284.80 544.29 L285.30 544.47 L285.80 544.66 L286.30 544.85 L286.80 545.03 L287.30 545.21 L287.80 545.40 L288.30 545.57 L288.81 545.75 L289.31 545.93 L289.81 546.10 L290.31 546.28 L290.81 546.45 L291.31 546.62 L291.81 546.79 L292.31 546.95 L292.81 547.12 L293.31 547.28 L293.81 547.44 L294.31 547.60 L294.81 547.76 L295.31 547.91 L295.81 548.06 L296.31 548.21 L296.81 548.36 L297.31 548.51 L297.81 548.65 L298.32 548.79 L298.82 548.93 L299.32 549.07 L299.82 549.20 L300.32 549.33 L300.82 549.46 L301.32 549.59 L301.82 549.71 L302.32 549.83 L302.82 549.95 L303.32 550.07 L303.82 550.19 L304.32 550.30 L304.82 550.41 L305.32 550.51 L305.82 550.62 L306.32 550.72 L306.82 550.82 L307.33 550.92 L307.83 551.01 L308.33 551.10 L308.83 551.19 L309.33 551.28 L309.83 551.37 L310.33 551.45 L310.83 551.53 L311.33 551.61 L311.83 551.68 L312.33 551.76 L312.83 551.83 L313.33 551.90 L313.83 551.96 L314.33 552.03 L314.83 552.09 L315.33 552.15 L315.83 552.21 L316.34 552.27 L316.84 552.32 L317.34 552.37 L317.84 552.42 L318.34 552.47 L318.84 552.52 L319.34 552.56 L319.84 552.61 L320.34 552.65 L320.84 552.69 L321.34 552.73 L321.84 552.77 L322.34 552.80 L322.84 552.84 L323.34 552.87 L323.84 552.90 L324.34 552.93 L324.84 552.96 L325.35 552.99 L325.85 553.01 L326.35 553.04 L326.85 553.06 L327.35 553.09 L327.85 553.11 L328.35 553.13 L328.85 553.15 L329.35 553.17 L329.85 553.19 L330.35 553.20 L330.85 553.22 L331.35 553.23 L331.85 553.25 L332.35 553.26 L332.85 553.28 L333.35 553.29 L333.85 553.30 L334.36 553.31 L334.86 553.32 L335.36 553.33 L335.86 553.34 L336.36 553.35 L336.86 553.36 L337.36 553.37 L337.86 553.38 L338.36 553.38 L338.86 553.39 L339.36 553.40 L339.86 553.40 L340.36 553.41 L340.86 553.41 L341.36 553.42 L341.86 553.42 L342.36 553.43 L342.86 553.43 L343.36 553.44 L343.87 553.44 L344.37 553.44 L344.87 553.45 L345.37 553.45 L345.87 553.45 L346.37 553.46 L346.87 553.46 L347.37 553.46 L347.87 553.46 L348.37 553.47 L348.87 553.47 L349.37 553.47 L349.87 553.47 L350.37 553.47 L350.87 553.47 L351.37 553.47 L351.87 553.48 L352.37 553.48 L352.88 553.48 L353.38 553.48 L353.88 553.48 L354.38 553.48 L354.88 553.48 L355.38 553.48 L355.88 553.48 L356.38 553.48 L356.88 553.48 L357.38 553.49 L357.88 553.49 L358.38 553.49 L358.88 553.49 L359.38 553.49 L359.88 553.49 L360.38 553.49 L360.88 553.49 L361.38 553.49 L361.89 553.49 L362.39 553.49 L362.89 553.49 L363.39 553.49 L363.89 553.49 L364.39 553.49 L364.89 553.49 L365.39 553.49 L365.89 553.49 L366.39 553.49 L366.89 553.49 L367.39 553.49 L367.89 553.49 L368.39 553.49 L368.89 553.49 L369.39 553.49 L369.89 553.49 L370.39 553.49 L370.90 553.49 L371.40 553.49 L371.90 553.49 L372.40 553.49 L372.90 553.49 L373.40 553.49 L373.90 553.49 L374.40 553.49 L374.90 553.49 L375.40 553.49" fill="none" stroke="#0d0dff" stroke-width="2.1" stroke-linejoin="round"/>
<line x1="98.20" y1="346.70" x2="98.20" y2="574.70" stroke="#555555" stroke-width="1.6" stroke-linecap="butt"/>
<line x1="97.40" y1="571.40" x2="376.50" y2="571.40" stroke="#111" stroke-width="1.2" stroke-linecap="butt"/>
<line x1="93.70" y1="554.50" x2="98.20" y2="554.50" stroke="#555555" stroke-width="1.3" stroke-linecap="butt"/>
<line x1="96.20" y1="533.72" x2="98.20" y2="533.72" stroke="#555555" stroke-width="1.3" stroke-linecap="butt"/>
<line x1="93.70" y1="512.94" x2="98.20" y2="512.94" stroke="#555555" stroke-width="1.3" stroke-linecap="butt"/>
<line x1="96.20" y1="492.16" x2="98.20" y2="492.16" stroke="#555555" stroke-width="1.3" stroke-linecap="butt"/>
<line x1="93.70" y1="471.38" x2="98.20" y2="471.38" stroke="#555555" stroke-width="1.3" stroke-linecap="butt"/>
<line x1="96.20" y1="450.60" x2="98.20" y2="450.60" stroke="#555555" stroke-width="1.3" stroke-linecap="butt"/>
<line x1="93.70" y1="429.82" x2="98.20" y2="429.82" stroke="#555555" stroke-width="1.3" stroke-linecap="butt"/>
<line x1="96.20" y1="409.04" x2="98.20" y2="409.04" stroke="#555555" stroke-width="1.3" stroke-linecap="butt"/>
<line x1="93.70" y1="388.26" x2="98.20" y2="388.26" stroke="#555555" stroke-width="1.3" stroke-linecap="butt"/>
<line x1="96.20" y1="367.48" x2="98.20" y2="367.48" stroke="#555555" stroke-width="1.3" stroke-linecap="butt"/>
<line x1="93.70" y1="346.70" x2="98.20" y2="346.70" stroke="#555555" stroke-width="1.3" stroke-linecap="butt"/>
<line x1="98.20" y1="571.40" x2="98.20" y2="575.40" stroke="#111" stroke-width="1.2" stroke-linecap="butt"/>
<line x1="121.33" y1="571.40" x2="121.33" y2="573.40" stroke="#111" stroke-width="1.2" stroke-linecap="butt"/>
<line x1="144.45" y1="571.40" x2="144.45" y2="575.40" stroke="#111" stroke-width="1.2" stroke-linecap="butt"/>
<line x1="167.57" y1="571.40" x2="167.57" y2="573.40" stroke="#111" stroke-width="1.2" stroke-linecap="butt"/>
<line x1="190.70" y1="571.40" x2="190.70" y2="575.40" stroke="#111" stroke-width="1.2" stroke-linecap="butt"/>
<line x1="213.82" y1="571.40" x2="213.82" y2="573.40" stroke="#111" stroke-width="1.2" stroke-linecap="butt"/>
<line x1="236.95" y1="571.40" x2="236.95" y2="575.40" stroke="#111" stroke-width="1.2" stroke-linecap="butt"/>
<line x1="260.07" y1="571.40" x2="260.07" y2="573.40" stroke="#111" stroke-width="1.2" stroke-linecap="butt"/>
<line x1="283.20" y1="571.40" x2="283.20" y2="575.40" stroke="#111" stroke-width="1.2" stroke-linecap="butt"/>
<line x1="306.32" y1="571.40" x2="306.32" y2="573.40" stroke="#111" stroke-width="1.2" stroke-linecap="butt"/>
<line x1="329.45" y1="571.40" x2="329.45" y2="575.40" stroke="#111" stroke-width="1.2" stroke-linecap="butt"/>
<line x1="352.57" y1="571.40" x2="352.57" y2="573.40" stroke="#111" stroke-width="1.2" stroke-linecap="butt"/>
<line x1="375.70" y1="571.40" x2="375.70" y2="575.40" stroke="#111" stroke-width="1.2" stroke-linecap="butt"/>
<text x="82.28" y="558.70" font-size="16.5" textLength="8.25" lengthAdjust="spacingAndGlyphs" fill="#111">0</text>
<text x="57.53" y="517.14" font-size="16.5" textLength="33.00" lengthAdjust="spacingAndGlyphs" fill="#111">1000</text>
<text x="57.53" y="475.58" font-size="16.5" textLength="33.00" lengthAdjust="spacingAndGlyphs" fill="#111">2000</text>
<text x="57.53" y="434.02" font-size="16.5" textLength="33.00" lengthAdjust="spacingAndGlyphs" fill="#111">3000</text>
<text x="57.53" y="392.46" font-size="16.5" textLength="33.00" lengthAdjust="spacingAndGlyphs" fill="#111">4000</text>
<text x="57.53" y="350.90" font-size="16.5" textLength="33.00" lengthAdjust="spacingAndGlyphs" fill="#111">5000</text>
<text x="85.92" y="592.80" font-size="16.5" textLength="25.27" lengthAdjust="spacingAndGlyphs" fill="#111">400</text>
<text x="132.17" y="592.80" font-size="16.5" textLength="25.27" lengthAdjust="spacingAndGlyphs" fill="#111">450</text>
<text x="177.74" y="592.80" font-size="16.5" textLength="25.97" lengthAdjust="spacingAndGlyphs" fill="#111">500</text>
<text x="223.99" y="592.80" font-size="16.5" textLength="25.97" lengthAdjust="spacingAndGlyphs" fill="#111">550</text>
<text x="270.51" y="592.80" font-size="16.5" textLength="25.69" lengthAdjust="spacingAndGlyphs" fill="#111">600</text>
<text x="316.76" y="592.80" font-size="16.5" textLength="25.69" lengthAdjust="spacingAndGlyphs" fill="#111">650</text>
<text x="362.60" y="592.80" font-size="16.5" textLength="26.11" lengthAdjust="spacingAndGlyphs" fill="#111">700</text>
<text x="176.58" y="616.40" font-size="16.5" textLength="103.67" lengthAdjust="spacingAndGlyphs" fill="#111">Wavelength/nm</text>
<text transform="translate(42.20 531.00) rotate(-90)" x="-0.48" y="0" font-size="16.5" textLength="150.75" lengthAdjust="spacingAndGlyphs" fill="#111">Fluorescence Intensity</text>
<text x="1.13" y="326.80" font-size="16" textLength="5.83" lengthAdjust="spacingAndGlyphs" fill="#111">(</text>
<text x="6.58" y="326.80" font-size="16" textLength="7.50" lengthAdjust="spacingAndGlyphs" font-style="italic" fill="#111">c</text>
<text x="14.45" y="326.80" font-size="16" textLength="5.70" lengthAdjust="spacingAndGlyphs" fill="#111">)</text>
<rect x="243.7" y="349.4" width="132.5" height="58.1" fill="none" stroke="#b0b0b0" stroke-width="1"/>
<line x1="245.20" y1="361.00" x2="271.10" y2="361.00" stroke="#ff0d0d" stroke-width="1.8" stroke-linecap="butt"/>
<line x1="245.20" y1="379.90" x2="271.10" y2="379.90" stroke="#0d0dff" stroke-width="1.8" stroke-linecap="butt"/>
<line x1="245.20" y1="398.70" x2="271.10" y2="398.70" stroke="#000000" stroke-width="1.8" stroke-linecap="butt"/>
<text x="275.42" y="364.70" font-size="15.5" textLength="86.48" lengthAdjust="spacingAndGlyphs" fill="#111">G2+H+DOX</text>
<text x="276.33" y="384.80" font-size="15.5" textLength="95.95" lengthAdjust="spacingAndGlyphs" fill="#111">pH 4.0 release</text>
<text x="274.89" y="402.60" font-size="15.5" textLength="21.27" lengthAdjust="spacingAndGlyphs" fill="#111">G2</text>
<path d="M497.80 537.70 L498.30 538.17 L498.80 538.64 L499.30 539.11 L499.80 539.60 L500.30 540.09 L500.80 540.59 L501.31 541.11 L501.81 541.64 L502.31 542.18 L502.81 542.75 L503.31 543.33 L503.81 543.92 L504.31 544.51 L504.81 545.11 L505.31 545.70 L505.81 546.27 L506.31 546.82 L506.81 547.35 L507.31 547.86 L507.81 548.35 L508.32 548.83 L508.82 549.29 L509.32 549.72 L509.82 550.13 L510.32 550.50 L510.82 550.83 L511.32 551.11 L511.82 551.33 L512.32 551.52 L512.82 551.67 L513.32 551.79 L513.82 551.89 L514.32 551.98 L514.82 552.05 L515.33 552.12 L515.83 552.18 L516.33 552.24 L516.83 552.28 L517.33 552.32 L517.83 552.34 L518.33 552.36 L518.83 552.37 L519.33 552.37 L519.83 552.35 L520.33 552.33 L520.83 552.30 L521.33 552.25 L521.84 552.20 L522.34 552.15 L522.84 552.08 L523.34 552.01 L523.84 551.93 L524.34 551.85 L524.84 551.76 L525.34 551.66 L525.84 551.55 L526.34 551.43 L526.84 551.29 L527.34 551.14 L527.84 550.97 L528.34 550.78 L528.85 550.57 L529.35 550.35 L529.85 550.11 L530.35 549.86 L530.85 549.60 L531.35 549.32 L531.85 549.04 L532.35 548.74 L532.85 548.42 L533.35 548.08 L533.85 547.72 L534.35 547.33 L534.85 546.92 L535.36 546.49 L535.86 546.05 L536.36 545.59 L536.86 545.13 L537.36 544.65 L537.86 544.17 L538.36 543.69 L538.86 543.20 L539.36 542.71 L539.86 542.21 L540.36 541.70 L540.86 541.17 L541.36 540.63 L541.86 540.08 L542.37 539.52 L542.87 538.96 L543.37 538.41 L543.87 537.86 L544.37 537.33 L544.87 536.81 L545.37 536.32 L545.87 535.86 L546.37 535.43 L546.87 535.03 L547.37 534.67 L547.87 534.33 L548.37 534.02 L548.87 533.73 L549.38 533.45 L549.88 533.19 L550.38 532.94 L550.88 532.69 L551.38 532.46 L551.88 532.24 L552.38 532.04 L552.88 531.84 L553.38 531.66 L553.88 531.50 L554.38 531.35 L554.88 531.22 L555.38 531.10 L555.89 531.00 L556.39 530.91 L556.89 530.83 L557.39 530.77 L557.89 530.71 L558.39 530.66 L558.89 530.61 L559.39 530.57 L559.89 530.53 L560.39 530.50 L560.89 530.46 L561.39 530.42 L561.89 530.38 L562.39 530.34 L562.90 530.29 L563.40 530.24 L563.90 530.18 L564.40 530.11 L564.90 530.03 L565.40 529.94 L565.90 529.83 L566.40 529.71 L566.90 529.58 L567.40 529.43 L567.90 529.28 L568.40 529.12 L568.90 528.95 L569.40 528.78 L569.91 528.60 L570.41 528.42 L570.91 528.25 L571.41 528.07 L571.91 527.90 L572.41 527.73 L572.91 527.57 L573.41 527.40 L573.91 527.24 L574.41 527.07 L574.91 526.91 L575.41 526.74 L575.91 526.57 L576.42 526.40 L576.92 526.23 L577.42 526.07 L577.92 525.91 L578.42 525.76 L578.92 525.62 L579.42 525.48 L579.92 525.36 L580.42 525.25 L580.92 525.15 L581.42 525.05 L581.92 524.97 L582.42 524.90 L582.92 524.83 L583.43 524.76 L583.93 524.70 L584.43 524.65 L584.93 524.61 L585.43 524.59 L585.93 524.58 L586.43 524.59 L586.93 524.64 L587.43 524.73 L587.93 524.86 L588.43 525.02 L588.93 525.23 L589.43 525.46 L589.94 525.71 L590.44 525.97 L590.94 526.23 L591.44 526.49 L591.94 526.74 L592.44 527.00 L592.94 527.24 L593.44 527.49 L593.94 527.74 L594.44 527.99 L594.94 528.24 L595.44 528.49 L595.94 528.75 L596.44 529.01 L596.95 529.28 L597.45 529.54 L597.95 529.81 L598.45 530.09 L598.95 530.37 L599.45 530.65 L599.95 530.95 L600.45 531.24 L600.95 531.55 L601.45 531.86 L601.95 532.17 L602.45 532.48 L602.95 532.79 L603.45 533.11 L603.96 533.42 L604.46 533.73 L604.96 534.03 L605.46 534.32 L605.96 534.61 L606.46 534.89 L606.96 535.16 L607.46 535.42 L607.96 535.67 L608.46 535.91 L608.96 536.14 L609.46 536.36 L609.96 536.58 L610.47 536.79 L610.97 536.99 L611.47 537.19 L611.97 537.39 L612.47 537.58 L612.97 537.77 L613.47 537.96 L613.97 538.14 L614.47 538.32 L614.97 538.49 L615.47 538.66 L615.97 538.83 L616.47 538.99 L616.97 539.15 L617.48 539.31 L617.98 539.47 L618.48 539.62 L618.98 539.76 L619.48 539.91 L619.98 540.05 L620.48 540.18 L620.98 540.31 L621.48 540.44 L621.98 540.57 L622.48 540.69 L622.98 540.80 L623.48 540.91 L623.98 541.02 L624.49 541.13 L624.99 541.23 L625.49 541.34 L625.99 541.44 L626.49 541.54 L626.99 541.64 L627.49 541.74 L627.99 541.84 L628.49 541.94 L628.99 542.05 L629.49 542.16 L629.99 542.26 L630.49 542.38 L631.00 542.49 L631.50 542.61 L632.00 542.74 L632.50 542.87 L633.00 543.00 L633.50 543.14 L634.00 543.29 L634.50 543.44 L635.00 543.59 L635.50 543.75 L636.00 543.91 L636.50 544.07 L637.00 544.24 L637.50 544.41 L638.01 544.58 L638.51 544.75 L639.01 544.92 L639.51 545.09 L640.01 545.26 L640.51 545.43 L641.01 545.59 L641.51 545.76 L642.01 545.92 L642.51 546.07 L643.01 546.23 L643.51 546.37 L644.01 546.52 L644.52 546.66 L645.02 546.79 L645.52 546.92 L646.02 547.04 L646.52 547.16 L647.02 547.28 L647.52 547.40 L648.02 547.51 L648.52 547.62 L649.02 547.74 L649.52 547.85 L650.02 547.95 L650.52 548.06 L651.02 548.17 L651.53 548.27 L652.03 548.37 L652.53 548.47 L653.03 548.57 L653.53 548.67 L654.03 548.77 L654.53 548.86 L655.03 548.95 L655.53 549.04 L656.03 549.13 L656.53 549.21 L657.03 549.30 L657.53 549.38 L658.03 549.46 L658.54 549.54 L659.04 549.61 L659.54 549.68 L660.04 549.75 L660.54 549.82 L661.04 549.89 L661.54 549.95 L662.04 550.01 L662.54 550.07 L663.04 550.13 L663.54 550.18 L664.04 550.24 L664.54 550.29 L665.05 550.34 L665.55 550.40 L666.05 550.45 L666.55 550.49 L667.05 550.54 L667.55 550.59 L668.05 550.63 L668.55 550.68 L669.05 550.72 L669.55 550.77 L670.05 550.81 L670.55 550.86 L671.05 550.90 L671.55 550.94 L672.06 550.98 L672.56 551.03 L673.06 551.07 L673.56 551.11 L674.06 551.15 L674.56 551.20 L675.06 551.24 L675.56 551.28 L676.06 551.33 L676.56 551.37 L677.06 551.41 L677.56 551.46 L678.06 551.50 L678.56 551.54 L679.07 551.59 L679.57 551.63 L680.07 551.67 L680.57 551.71 L681.07 551.76 L681.57 551.80 L682.07 551.84 L682.57 551.88 L683.07 551.92 L683.57 551.96 L684.07 552.00 L684.57 552.04 L685.07 552.07 L685.58 552.11 L686.08 552.15 L686.58 552.18 L687.08 552.22 L687.58 552.25 L688.08 552.28 L688.58 552.31 L689.08 552.34 L689.58 552.37 L690.08 552.40 L690.58 552.43 L691.08 552.45 L691.58 552.48 L692.08 552.50 L692.59 552.53 L693.09 552.55 L693.59 552.57 L694.09 552.59 L694.59 552.62 L695.09 552.64 L695.59 552.66 L696.09 552.68 L696.59 552.70 L697.09 552.72 L697.59 552.75 L698.09 552.77 L698.59 552.79 L699.10 552.82 L699.60 552.84 L700.10 552.87 L700.60 552.90 L701.10 552.92 L701.60 552.95 L702.10 552.98 L702.60 553.01 L703.10 553.04 L703.60 553.08 L704.10 553.11 L704.60 553.14 L705.10 553.17 L705.60 553.20 L706.11 553.24 L706.61 553.27 L707.11 553.30 L707.61 553.33 L708.11 553.36 L708.61 553.39 L709.11 553.42 L709.61 553.45 L710.11 553.48 L710.61 553.51 L711.11 553.54 L711.61 553.57 L712.11 553.59 L712.61 553.62 L713.12 553.64 L713.62 553.67 L714.12 553.69 L714.62 553.71 L715.12 553.73 L715.62 553.74 L716.12 553.76 L716.62 553.77 L717.12 553.79 L717.62 553.80 L718.12 553.81 L718.62 553.82 L719.12 553.83 L719.63 553.84 L720.13 553.85 L720.63 553.86 L721.13 553.86 L721.63 553.87 L722.13 553.88 L722.63 553.89 L723.13 553.90 L723.63 553.90 L724.13 553.91 L724.63 553.92 L725.13 553.92 L725.63 553.93 L726.13 553.93 L726.64 553.94 L727.14 553.95 L727.64 553.95 L728.14 553.96 L728.64 553.96 L729.14 553.97 L729.64 553.97 L730.14 553.98 L730.64 553.98 L731.14 553.99 L731.64 553.99 L732.14 554.00 L732.64 554.00 L733.14 554.01 L733.65 554.01 L734.15 554.02 L734.65 554.02 L735.15 554.03 L735.65 554.03 L736.15 554.04 L736.65 554.04 L737.15 554.04 L737.65 554.05 L738.15 554.05 L738.65 554.06 L739.15 554.06 L739.65 554.07 L740.16 554.07 L740.66 554.08 L741.16 554.08 L741.66 554.09 L742.16 554.10 L742.66 554.10 L743.16 554.11 L743.66 554.11 L744.16 554.12 L744.66 554.12 L745.16 554.13 L745.66 554.13 L746.16 554.14 L746.66 554.15 L747.17 554.15 L747.67 554.16 L748.17 554.16 L748.67 554.17 L749.17 554.17 L749.67 554.18 L750.17 554.18 L750.67 554.19 L751.17 554.20 L751.67 554.20 L752.17 554.21 L752.67 554.21 L753.17 554.22 L753.68 554.22 L754.18 554.23 L754.68 554.23 L755.18 554.24 L755.68 554.24 L756.18 554.25 L756.68 554.25 L757.18 554.26 L757.68 554.27 L758.18 554.27 L758.68 554.28 L759.18 554.28 L759.68 554.29 L760.18 554.29 L760.69 554.30 L761.19 554.30 L761.69 554.31 L762.19 554.31 L762.69 554.32 L763.19 554.32 L763.69 554.33 L764.19 554.33 L764.69 554.34 L765.19 554.34 L765.69 554.35 L766.19 554.35 L766.69 554.36 L767.19 554.36 L767.70 554.37 L768.20 554.37 L768.70 554.38 L769.20 554.38 L769.70 554.39 L770.20 554.39 L770.70 554.40" fill="none" stroke="#ff1414" stroke-width="2.0" stroke-linejoin="round"/>
<path d="M497.80 550.90 L498.30 551.01 L498.80 551.12 L499.30 551.23 L499.80 551.34 L500.30 551.44 L500.80 551.55 L501.31 551.64 L501.81 551.74 L502.31 551.83 L502.81 551.93 L503.31 552.01 L503.81 552.10 L504.31 552.19 L504.81 552.28 L505.31 552.36 L505.81 552.45 L506.31 552.53 L506.81 552.61 L507.31 552.68 L507.81 552.74 L508.32 552.79 L508.82 552.82 L509.32 552.84 L509.82 552.84 L510.32 552.82 L510.82 552.78 L511.32 552.71 L511.82 552.63 L512.32 552.54 L512.82 552.42 L513.32 552.29 L513.82 552.15 L514.32 552.00 L514.82 551.83 L515.33 551.64 L515.83 551.43 L516.33 551.19 L516.83 550.92 L517.33 550.61 L517.83 550.27 L518.33 549.90 L518.83 549.49 L519.33 549.05 L519.83 548.58 L520.33 548.07 L520.83 547.52 L521.33 546.92 L521.84 546.27 L522.34 545.56 L522.84 544.80 L523.34 543.99 L523.84 543.12 L524.34 542.20 L524.84 541.23 L525.34 540.21 L525.84 539.13 L526.34 537.98 L526.84 536.77 L527.34 535.47 L527.84 534.10 L528.34 532.64 L528.85 531.09 L529.35 529.45 L529.85 527.71 L530.35 525.85 L530.85 523.88 L531.35 521.78 L531.85 519.56 L532.35 517.22 L532.85 514.75 L533.35 512.17 L533.85 509.47 L534.35 506.66 L534.85 503.75 L535.36 500.79 L535.86 497.80 L536.36 494.82 L536.86 491.88 L537.36 488.98 L537.86 486.11 L538.36 483.28 L538.86 480.44 L539.36 477.58 L539.86 474.67 L540.36 471.69 L540.86 468.60 L541.36 465.41 L541.86 462.10 L542.37 458.71 L542.87 455.26 L543.37 451.78 L543.87 448.32 L544.37 444.93 L544.87 441.65 L545.37 438.51 L545.87 435.54 L546.37 432.76 L546.87 430.17 L547.37 427.75 L547.87 425.50 L548.37 423.41 L548.87 421.48 L549.38 419.72 L549.88 418.14 L550.38 416.71 L550.88 415.44 L551.38 414.30 L551.88 413.27 L552.38 412.32 L552.88 411.46 L553.38 410.69 L553.88 410.01 L554.38 409.41 L554.88 408.91 L555.38 408.50 L555.89 408.18 L556.39 407.93 L556.89 407.73 L557.39 407.57 L557.89 407.44 L558.39 407.32 L558.89 407.21 L559.39 407.08 L559.89 406.94 L560.39 406.77 L560.89 406.57 L561.39 406.33 L561.89 406.04 L562.39 405.70 L562.90 405.32 L563.40 404.89 L563.90 404.42 L564.40 403.91 L564.90 403.36 L565.40 402.78 L565.90 402.18 L566.40 401.54 L566.90 400.86 L567.40 400.15 L567.90 399.38 L568.40 398.56 L568.90 397.67 L569.40 396.73 L569.91 395.73 L570.41 394.68 L570.91 393.59 L571.41 392.46 L571.91 391.30 L572.41 390.09 L572.91 388.85 L573.41 387.56 L573.91 386.22 L574.41 384.84 L574.91 383.43 L575.41 381.98 L575.91 380.53 L576.42 379.07 L576.92 377.63 L577.42 376.21 L577.92 374.82 L578.42 373.45 L578.92 372.10 L579.42 370.75 L579.92 369.41 L580.42 368.08 L580.92 366.79 L581.42 365.55 L581.92 364.43 L582.42 363.45 L582.92 362.66 L583.43 362.08 L583.93 361.70 L584.43 361.53 L584.93 361.54 L585.43 361.70 L585.93 361.98 L586.43 362.35 L586.93 362.79 L587.43 363.31 L587.93 363.89 L588.43 364.53 L588.93 365.24 L589.43 366.05 L589.94 366.97 L590.44 368.01 L590.94 369.18 L591.44 370.48 L591.94 371.88 L592.44 373.37 L592.94 374.92 L593.44 376.52 L593.94 378.15 L594.44 379.80 L594.94 381.49 L595.44 383.22 L595.94 384.99 L596.44 386.80 L596.95 388.65 L597.45 390.55 L597.95 392.49 L598.45 394.45 L598.95 396.45 L599.45 398.48 L599.95 400.55 L600.45 402.65 L600.95 404.79 L601.45 406.97 L601.95 409.17 L602.45 411.40 L602.95 413.65 L603.45 415.91 L603.96 418.17 L604.46 420.42 L604.96 422.66 L605.46 424.90 L605.96 427.12 L606.46 429.33 L606.96 431.50 L607.46 433.63 L607.96 435.67 L608.46 437.61 L608.96 439.42 L609.46 441.10 L609.96 442.66 L610.47 444.12 L610.97 445.48 L611.47 446.78 L611.97 448.02 L612.47 449.22 L612.97 450.38 L613.47 451.51 L613.97 452.61 L614.47 453.68 L614.97 454.73 L615.47 455.75 L615.97 456.75 L616.47 457.72 L616.97 458.67 L617.48 459.60 L617.98 460.52 L618.48 461.42 L618.98 462.30 L619.48 463.17 L619.98 464.03 L620.48 464.87 L620.98 465.70 L621.48 466.50 L621.98 467.29 L622.48 468.04 L622.98 468.77 L623.48 469.47 L623.98 470.14 L624.49 470.78 L624.99 471.38 L625.49 471.95 L625.99 472.49 L626.49 473.01 L626.99 473.51 L627.49 473.99 L627.99 474.47 L628.49 474.96 L628.99 475.45 L629.49 475.95 L629.99 476.47 L630.49 477.02 L631.00 477.59 L631.50 478.18 L632.00 478.80 L632.50 479.44 L633.00 480.10 L633.50 480.78 L634.00 481.47 L634.50 482.17 L635.00 482.89 L635.50 483.61 L636.00 484.34 L636.50 485.08 L637.00 485.83 L637.50 486.59 L638.01 487.36 L638.51 488.14 L639.01 488.93 L639.51 489.73 L640.01 490.54 L640.51 491.35 L641.01 492.17 L641.51 492.99 L642.01 493.81 L642.51 494.62 L643.01 495.42 L643.51 496.22 L644.01 497.01 L644.52 497.78 L645.02 498.55 L645.52 499.32 L646.02 500.08 L646.52 500.83 L647.02 501.58 L647.52 502.33 L648.02 503.08 L648.52 503.83 L649.02 504.57 L649.52 505.32 L650.02 506.08 L650.52 506.83 L651.02 507.59 L651.53 508.36 L652.03 509.13 L652.53 509.91 L653.03 510.69 L653.53 511.47 L654.03 512.26 L654.53 513.05 L655.03 513.84 L655.53 514.62 L656.03 515.40 L656.53 516.18 L657.03 516.94 L657.53 517.70 L658.03 518.45 L658.54 519.20 L659.04 519.94 L659.54 520.67 L660.04 521.39 L660.54 522.10 L661.04 522.78 L661.54 523.42 L662.04 524.03 L662.54 524.59 L663.04 525.11 L663.54 525.60 L664.04 526.04 L664.54 526.47 L665.05 526.86 L665.55 527.24 L666.05 527.61 L666.55 527.96 L667.05 528.29 L667.55 528.62 L668.05 528.94 L668.55 529.26 L669.05 529.57 L669.55 529.88 L670.05 530.19 L670.55 530.50 L671.05 530.81 L671.55 531.12 L672.06 531.44 L672.56 531.75 L673.06 532.06 L673.56 532.37 L674.06 532.67 L674.56 532.98 L675.06 533.28 L675.56 533.57 L676.06 533.87 L676.56 534.16 L677.06 534.45 L677.56 534.73 L678.06 535.01 L678.56 535.29 L679.07 535.56 L679.57 535.83 L680.07 536.10 L680.57 536.36 L681.07 536.62 L681.57 536.87 L682.07 537.12 L682.57 537.36 L683.07 537.60 L683.57 537.84 L684.07 538.07 L684.57 538.30 L685.07 538.53 L685.58 538.75 L686.08 538.97 L686.58 539.19 L687.08 539.41 L687.58 539.63 L688.08 539.85 L688.58 540.07 L689.08 540.29 L689.58 540.52 L690.08 540.74 L690.58 540.97 L691.08 541.20 L691.58 541.43 L692.08 541.67 L692.59 541.90 L693.09 542.14 L693.59 542.38 L694.09 542.61 L694.59 542.85 L695.09 543.09 L695.59 543.32 L696.09 543.56 L696.59 543.79 L697.09 544.02 L697.59 544.25 L698.09 544.48 L698.59 544.70 L699.10 544.92 L699.60 545.13 L700.10 545.34 L700.60 545.55 L701.10 545.75 L701.60 545.95 L702.10 546.14 L702.60 546.33 L703.10 546.51 L703.60 546.70 L704.10 546.88 L704.60 547.06 L705.10 547.24 L705.60 547.42 L706.11 547.59 L706.61 547.77 L707.11 547.94 L707.61 548.11 L708.11 548.28 L708.61 548.44 L709.11 548.60 L709.61 548.75 L710.11 548.90 L710.61 549.05 L711.11 549.19 L711.61 549.33 L712.11 549.46 L712.61 549.58 L713.12 549.70 L713.62 549.81 L714.12 549.92 L714.62 550.01 L715.12 550.11 L715.62 550.20 L716.12 550.28 L716.62 550.36 L717.12 550.44 L717.62 550.52 L718.12 550.59 L718.62 550.66 L719.12 550.73 L719.63 550.80 L720.13 550.86 L720.63 550.93 L721.13 550.99 L721.63 551.05 L722.13 551.11 L722.63 551.17 L723.13 551.22 L723.63 551.28 L724.13 551.33 L724.63 551.38 L725.13 551.43 L725.63 551.48 L726.13 551.53 L726.64 551.58 L727.14 551.63 L727.64 551.68 L728.14 551.72 L728.64 551.77 L729.14 551.81 L729.64 551.86 L730.14 551.90 L730.64 551.95 L731.14 551.99 L731.64 552.03 L732.14 552.08 L732.64 552.12 L733.14 552.16 L733.65 552.20 L734.15 552.24 L734.65 552.28 L735.15 552.32 L735.65 552.36 L736.15 552.40 L736.65 552.43 L737.15 552.47 L737.65 552.51 L738.15 552.54 L738.65 552.58 L739.15 552.61 L739.65 552.65 L740.16 552.68 L740.66 552.72 L741.16 552.75 L741.66 552.78 L742.16 552.81 L742.66 552.85 L743.16 552.88 L743.66 552.91 L744.16 552.94 L744.66 552.97 L745.16 553.00 L745.66 553.03 L746.16 553.06 L746.66 553.08 L747.17 553.11 L747.67 553.14 L748.17 553.17 L748.67 553.19 L749.17 553.22 L749.67 553.24 L750.17 553.27 L750.67 553.30 L751.17 553.32 L751.67 553.35 L752.17 553.37 L752.67 553.40 L753.17 553.42 L753.68 553.44 L754.18 553.47 L754.68 553.49 L755.18 553.52 L755.68 553.54 L756.18 553.56 L756.68 553.59 L757.18 553.61 L757.68 553.63 L758.18 553.65 L758.68 553.68 L759.18 553.70 L759.68 553.72 L760.18 553.74 L760.69 553.76 L761.19 553.78 L761.69 553.80 L762.19 553.82 L762.69 553.84 L763.19 553.86 L763.69 553.88 L764.19 553.90 L764.69 553.91 L765.19 553.93 L765.69 553.95 L766.19 553.97 L766.69 553.98 L767.19 554.00 L767.70 554.01 L768.20 554.03 L768.70 554.04 L769.20 554.06 L769.70 554.07 L770.20 554.09 L770.70 554.10" fill="none" stroke="#1a3cff" stroke-width="2.0" stroke-linejoin="round"/>
<line x1="497.30" y1="350.50" x2="497.30" y2="575.50" stroke="#555555" stroke-width="1.6" stroke-linecap="butt"/>
<line x1="496.50" y1="572.00" x2="772.00" y2="572.00" stroke="#111" stroke-width="1.2" stroke-linecap="butt"/>
<line x1="492.80" y1="557.40" x2="497.30" y2="557.40" stroke="#555555" stroke-width="1.3" stroke-linecap="butt"/>
<line x1="495.30" y1="527.80" x2="497.30" y2="527.80" stroke="#555555" stroke-width="1.3" stroke-linecap="butt"/>
<line x1="492.80" y1="498.20" x2="497.30" y2="498.20" stroke="#555555" stroke-width="1.3" stroke-linecap="butt"/>
<line x1="495.30" y1="468.60" x2="497.30" y2="468.60" stroke="#555555" stroke-width="1.3" stroke-linecap="butt"/>
<line x1="492.80" y1="439.00" x2="497.30" y2="439.00" stroke="#555555" stroke-width="1.3" stroke-linecap="butt"/>
<line x1="495.30" y1="409.40" x2="497.30" y2="409.40" stroke="#555555" stroke-width="1.3" stroke-linecap="butt"/>
<line x1="492.80" y1="379.80" x2="497.30" y2="379.80" stroke="#555555" stroke-width="1.3" stroke-linecap="butt"/>
<line x1="495.30" y1="350.20" x2="497.30" y2="350.20" stroke="#555555" stroke-width="1.3" stroke-linecap="butt"/>
<line x1="497.30" y1="572.00" x2="497.30" y2="576.00" stroke="#111" stroke-width="1.2" stroke-linecap="butt"/>
<line x1="520.14" y1="572.00" x2="520.14" y2="574.00" stroke="#111" stroke-width="1.2" stroke-linecap="butt"/>
<line x1="542.98" y1="572.00" x2="542.98" y2="576.00" stroke="#111" stroke-width="1.2" stroke-linecap="butt"/>
<line x1="565.81" y1="572.00" x2="565.81" y2="574.00" stroke="#111" stroke-width="1.2" stroke-linecap="butt"/>
<line x1="588.65" y1="572.00" x2="588.65" y2="576.00" stroke="#111" stroke-width="1.2" stroke-linecap="butt"/>
<line x1="611.49" y1="572.00" x2="611.49" y2="574.00" stroke="#111" stroke-width="1.2" stroke-linecap="butt"/>
<line x1="634.33" y1="572.00" x2="634.33" y2="576.00" stroke="#111" stroke-width="1.2" stroke-linecap="butt"/>
<line x1="657.16" y1="572.00" x2="657.16" y2="574.00" stroke="#111" stroke-width="1.2" stroke-linecap="butt"/>
<line x1="680.00" y1="572.00" x2="680.00" y2="576.00" stroke="#111" stroke-width="1.2" stroke-linecap="butt"/>
<line x1="702.84" y1="572.00" x2="702.84" y2="574.00" stroke="#111" stroke-width="1.2" stroke-linecap="butt"/>
<line x1="725.67" y1="572.00" x2="725.67" y2="576.00" stroke="#111" stroke-width="1.2" stroke-linecap="butt"/>
<line x1="748.51" y1="572.00" x2="748.51" y2="574.00" stroke="#111" stroke-width="1.2" stroke-linecap="butt"/>
<line x1="771.35" y1="572.00" x2="771.35" y2="576.00" stroke="#111" stroke-width="1.2" stroke-linecap="butt"/>
<text x="479.88" y="562.80" font-size="16.5" textLength="8.25" lengthAdjust="spacingAndGlyphs" fill="#111">0</text>
<text x="463.38" y="503.60" font-size="16.5" textLength="24.75" lengthAdjust="spacingAndGlyphs" fill="#111">100</text>
<text x="463.38" y="444.40" font-size="16.5" textLength="24.75" lengthAdjust="spacingAndGlyphs" fill="#111">200</text>
<text x="463.38" y="385.20" font-size="16.5" textLength="24.75" lengthAdjust="spacingAndGlyphs" fill="#111">300</text>
<text x="484.40" y="592.80" font-size="16.5" textLength="25.86" lengthAdjust="spacingAndGlyphs" fill="#111">500</text>
<text x="530.07" y="592.80" font-size="16.5" textLength="25.86" lengthAdjust="spacingAndGlyphs" fill="#111">550</text>
<text x="576.02" y="592.80" font-size="16.5" textLength="25.58" lengthAdjust="spacingAndGlyphs" fill="#111">600</text>
<text x="621.69" y="592.80" font-size="16.5" textLength="25.58" lengthAdjust="spacingAndGlyphs" fill="#111">650</text>
<text x="666.96" y="592.80" font-size="16.5" textLength="26.00" lengthAdjust="spacingAndGlyphs" fill="#111">700</text>
<text x="712.63" y="592.80" font-size="16.5" textLength="26.00" lengthAdjust="spacingAndGlyphs" fill="#111">750</text>
<text x="758.80" y="592.80" font-size="16.5" textLength="25.49" lengthAdjust="spacingAndGlyphs" fill="#111">800</text>
<text x="574.88" y="617.00" font-size="16.5" textLength="102.37" lengthAdjust="spacingAndGlyphs" fill="#111">Wavelength/nm</text>
<text transform="translate(448.40 531.30) rotate(-90)" x="-0.48" y="0" font-size="16.5" textLength="151.05" lengthAdjust="spacingAndGlyphs" fill="#111">Fluorescence Intensity</text>
<text x="397.05" y="326.40" font-size="16" textLength="5.70" lengthAdjust="spacingAndGlyphs" fill="#111">(</text>
<text x="402.37" y="326.40" font-size="16" textLength="8.79" lengthAdjust="spacingAndGlyphs" font-style="italic" fill="#111">d</text>
<text x="410.99" y="326.40" font-size="16" textLength="6.35" lengthAdjust="spacingAndGlyphs" fill="#111">)</text>
<rect x="635.7" y="377.3" width="130.9" height="37.9" fill="none" stroke="#b0b0b0" stroke-width="1"/>
<line x1="637.00" y1="388.50" x2="662.80" y2="388.50" stroke="#ff1414" stroke-width="1.8" stroke-linecap="butt"/>
<line x1="637.00" y1="407.00" x2="662.80" y2="407.00" stroke="#1a3cff" stroke-width="1.8" stroke-linecap="butt"/>
<text x="666.82" y="392.20" font-size="15.5" textLength="86.48" lengthAdjust="spacingAndGlyphs" fill="#111">G2+H+DOX</text>
<text x="667.93" y="411.50" font-size="15.5" textLength="94.94" lengthAdjust="spacingAndGlyphs" fill="#111">pH 4.0 release</text>
</svg></body></html>
